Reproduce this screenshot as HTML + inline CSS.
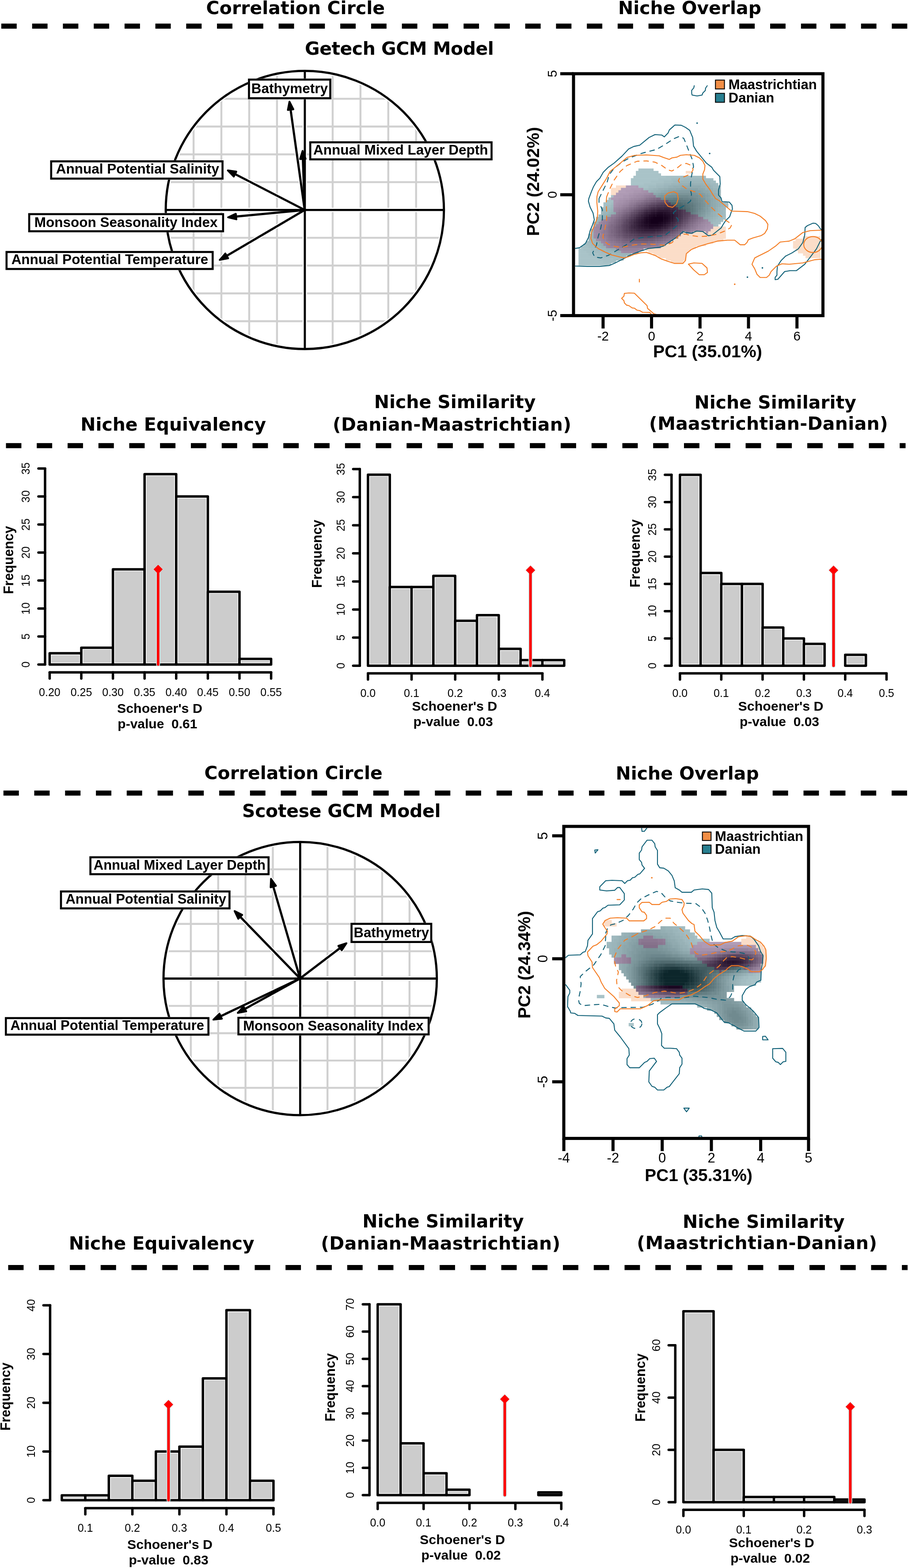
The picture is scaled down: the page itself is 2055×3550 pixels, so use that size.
<!DOCTYPE html>
<html><head><meta charset="utf-8"><title>Niche analysis figure</title>
<style>html,body{margin:0;padding:0;background:#fff;}svg{display:block;}</style></head>
<body><svg width="2055" height="3550" viewBox="0 0 2055 3550"><text x="668.9" y="31.8" font-family="DejaVu Sans, sans-serif" font-weight="bold" font-size="40.9" letter-spacing="0.09" text-anchor="middle">Correlation Circle</text>
<text x="1561.0" y="31.8" font-family="DejaVu Sans, sans-serif" font-weight="bold" font-size="40.9" letter-spacing="0.02" text-anchor="middle">Niche Overlap</text>
<text x="903.7" y="123.9" font-family="DejaVu Sans, sans-serif" font-weight="bold" font-size="40.9" letter-spacing="-0.45" text-anchor="middle">Getech GCM Model</text>
<text x="392.2" y="974.6" font-family="DejaVu Sans, sans-serif" font-weight="bold" font-size="40.9" letter-spacing="0.00" text-anchor="middle">Niche Equivalency</text>
<text x="1029.6" y="923.7" font-family="DejaVu Sans, sans-serif" font-weight="bold" font-size="40.9" letter-spacing="-0.01" text-anchor="middle">Niche Similarity</text>
<text x="1023.1" y="974.6" font-family="DejaVu Sans, sans-serif" font-weight="bold" font-size="40.9" letter-spacing="0.31" text-anchor="middle">(Danian-Maastrichtian)</text>
<text x="1754.7" y="924.8" font-family="DejaVu Sans, sans-serif" font-weight="bold" font-size="40.9" letter-spacing="0.06" text-anchor="middle">Niche Similarity</text>
<text x="1739.6" y="973.3" font-family="DejaVu Sans, sans-serif" font-weight="bold" font-size="40.9" letter-spacing="0.35" text-anchor="middle">(Maastrichtian-Danian)</text>
<text x="664.1" y="1764.1" font-family="DejaVu Sans, sans-serif" font-weight="bold" font-size="40.9" letter-spacing="0.01" text-anchor="middle">Correlation Circle</text>
<text x="1555.6" y="1764.7" font-family="DejaVu Sans, sans-serif" font-weight="bold" font-size="40.9" letter-spacing="0.05" text-anchor="middle">Niche Overlap</text>
<text x="772.6" y="1849.5" font-family="DejaVu Sans, sans-serif" font-weight="bold" font-size="40.9" letter-spacing="-0.26" text-anchor="middle">Scotese GCM Model</text>
<text x="365.8" y="2828.6" font-family="DejaVu Sans, sans-serif" font-weight="bold" font-size="40.9" letter-spacing="-0.00" text-anchor="middle">Niche Equivalency</text>
<text x="1003.0" y="2779.3" font-family="DejaVu Sans, sans-serif" font-weight="bold" font-size="40.9" letter-spacing="-0.01" text-anchor="middle">Niche Similarity</text>
<text x="997.4" y="2829.2" font-family="DejaVu Sans, sans-serif" font-weight="bold" font-size="40.9" letter-spacing="0.41" text-anchor="middle">(Danian-Maastrichtian)</text>
<text x="1728.4" y="2779.9" font-family="DejaVu Sans, sans-serif" font-weight="bold" font-size="40.9" letter-spacing="0.08" text-anchor="middle">Niche Similarity</text>
<text x="1713.4" y="2828.0" font-family="DejaVu Sans, sans-serif" font-weight="bold" font-size="40.9" letter-spacing="0.50" text-anchor="middle">(Maastrichtian-Danian)</text>
<rect x="2.9" y="53.4" width="34.9" height="11.5" fill="#000"/>
<rect x="72.7" y="53.4" width="34.9" height="11.5" fill="#000"/>
<rect x="142.4" y="53.4" width="34.9" height="11.5" fill="#000"/>
<rect x="212.2" y="53.4" width="34.9" height="11.5" fill="#000"/>
<rect x="281.9" y="53.4" width="34.9" height="11.5" fill="#000"/>
<rect x="351.6" y="53.4" width="34.9" height="11.5" fill="#000"/>
<rect x="421.4" y="53.4" width="34.9" height="11.5" fill="#000"/>
<rect x="491.1" y="53.4" width="34.9" height="11.5" fill="#000"/>
<rect x="560.9" y="53.4" width="34.9" height="11.5" fill="#000"/>
<rect x="630.6" y="53.4" width="34.9" height="11.5" fill="#000"/>
<rect x="700.4" y="53.4" width="34.9" height="11.5" fill="#000"/>
<rect x="770.1" y="53.4" width="34.9" height="11.5" fill="#000"/>
<rect x="839.9" y="53.4" width="34.9" height="11.5" fill="#000"/>
<rect x="909.6" y="53.4" width="34.9" height="11.5" fill="#000"/>
<rect x="979.4" y="53.4" width="34.9" height="11.5" fill="#000"/>
<rect x="1049.2" y="53.4" width="34.9" height="11.5" fill="#000"/>
<rect x="1118.9" y="53.4" width="34.9" height="11.5" fill="#000"/>
<rect x="1188.7" y="53.4" width="34.9" height="11.5" fill="#000"/>
<rect x="1258.4" y="53.4" width="34.9" height="11.5" fill="#000"/>
<rect x="1328.2" y="53.4" width="34.9" height="11.5" fill="#000"/>
<rect x="1397.9" y="53.4" width="34.9" height="11.5" fill="#000"/>
<rect x="1467.7" y="53.4" width="34.9" height="11.5" fill="#000"/>
<rect x="1537.4" y="53.4" width="34.9" height="11.5" fill="#000"/>
<rect x="1603.5" y="53.4" width="34.9" height="11.5" fill="#000"/>
<rect x="1673.2" y="53.4" width="34.9" height="11.5" fill="#000"/>
<rect x="1743.0" y="53.4" width="34.9" height="11.5" fill="#000"/>
<rect x="1812.8" y="53.4" width="34.9" height="11.5" fill="#000"/>
<rect x="1878.9" y="53.4" width="34.9" height="11.5" fill="#000"/>
<rect x="1948.7" y="53.4" width="34.9" height="11.5" fill="#000"/>
<rect x="2018.4" y="53.4" width="34.9" height="11.5" fill="#000"/>
<rect x="13.5" y="1003.2" width="34.9" height="11.5" fill="#000"/>
<rect x="83.2" y="1003.2" width="34.9" height="11.5" fill="#000"/>
<rect x="153.0" y="1003.2" width="34.9" height="11.5" fill="#000"/>
<rect x="222.8" y="1003.2" width="34.9" height="11.5" fill="#000"/>
<rect x="292.5" y="1003.2" width="34.9" height="11.5" fill="#000"/>
<rect x="362.2" y="1003.2" width="34.9" height="11.5" fill="#000"/>
<rect x="432.0" y="1003.2" width="34.9" height="11.5" fill="#000"/>
<rect x="501.8" y="1003.2" width="34.9" height="11.5" fill="#000"/>
<rect x="571.5" y="1003.2" width="34.9" height="11.5" fill="#000"/>
<rect x="641.2" y="1003.2" width="34.9" height="11.5" fill="#000"/>
<rect x="711.0" y="1003.2" width="34.9" height="11.5" fill="#000"/>
<rect x="780.8" y="1003.2" width="34.9" height="11.5" fill="#000"/>
<rect x="850.5" y="1003.2" width="34.9" height="11.5" fill="#000"/>
<rect x="920.2" y="1003.2" width="34.9" height="11.5" fill="#000"/>
<rect x="990.0" y="1003.2" width="34.9" height="11.5" fill="#000"/>
<rect x="1059.8" y="1003.2" width="34.9" height="11.5" fill="#000"/>
<rect x="1129.5" y="1003.2" width="34.9" height="11.5" fill="#000"/>
<rect x="1199.2" y="1003.2" width="34.9" height="11.5" fill="#000"/>
<rect x="1269.0" y="1003.2" width="34.9" height="11.5" fill="#000"/>
<rect x="1338.8" y="1003.2" width="34.9" height="11.5" fill="#000"/>
<rect x="1408.5" y="1003.2" width="34.9" height="11.5" fill="#000"/>
<rect x="1478.2" y="1003.2" width="34.9" height="11.5" fill="#000"/>
<rect x="1548.0" y="1003.2" width="34.9" height="11.5" fill="#000"/>
<rect x="1617.8" y="1003.2" width="34.9" height="11.5" fill="#000"/>
<rect x="1687.5" y="1003.2" width="34.9" height="11.5" fill="#000"/>
<rect x="1757.2" y="1003.2" width="34.9" height="11.5" fill="#000"/>
<rect x="1827.0" y="1003.2" width="34.9" height="11.5" fill="#000"/>
<rect x="1896.8" y="1003.2" width="34.9" height="11.5" fill="#000"/>
<rect x="1966.5" y="1003.2" width="34.9" height="11.5" fill="#000"/>
<rect x="2036.2" y="1003.2" width="13.3" height="11.5" fill="#000"/>
<rect x="7.8" y="1789.8" width="34.9" height="11.5" fill="#000"/>
<rect x="77.5" y="1789.8" width="34.9" height="11.5" fill="#000"/>
<rect x="147.3" y="1789.8" width="34.9" height="11.5" fill="#000"/>
<rect x="217.1" y="1789.8" width="34.9" height="11.5" fill="#000"/>
<rect x="286.8" y="1789.8" width="34.9" height="11.5" fill="#000"/>
<rect x="356.6" y="1789.8" width="34.9" height="11.5" fill="#000"/>
<rect x="426.3" y="1789.8" width="34.9" height="11.5" fill="#000"/>
<rect x="496.1" y="1789.8" width="34.9" height="11.5" fill="#000"/>
<rect x="565.8" y="1789.8" width="34.9" height="11.5" fill="#000"/>
<rect x="635.5" y="1789.8" width="34.9" height="11.5" fill="#000"/>
<rect x="705.3" y="1789.8" width="34.9" height="11.5" fill="#000"/>
<rect x="775.0" y="1789.8" width="34.9" height="11.5" fill="#000"/>
<rect x="844.8" y="1789.8" width="34.9" height="11.5" fill="#000"/>
<rect x="914.5" y="1789.8" width="34.9" height="11.5" fill="#000"/>
<rect x="984.3" y="1789.8" width="34.9" height="11.5" fill="#000"/>
<rect x="1054.0" y="1789.8" width="34.9" height="11.5" fill="#000"/>
<rect x="1123.8" y="1789.8" width="34.9" height="11.5" fill="#000"/>
<rect x="1193.5" y="1789.8" width="34.9" height="11.5" fill="#000"/>
<rect x="1263.3" y="1789.8" width="34.9" height="11.5" fill="#000"/>
<rect x="1333.0" y="1789.8" width="34.9" height="11.5" fill="#000"/>
<rect x="1402.8" y="1789.8" width="34.9" height="11.5" fill="#000"/>
<rect x="1472.5" y="1789.8" width="34.9" height="11.5" fill="#000"/>
<rect x="1542.3" y="1789.8" width="34.9" height="11.5" fill="#000"/>
<rect x="1609.2" y="1789.8" width="34.9" height="11.5" fill="#000"/>
<rect x="1679.0" y="1789.8" width="34.9" height="11.5" fill="#000"/>
<rect x="1748.7" y="1789.8" width="34.9" height="11.5" fill="#000"/>
<rect x="1818.5" y="1789.8" width="34.9" height="11.5" fill="#000"/>
<rect x="1878.5" y="1789.8" width="34.9" height="11.5" fill="#000"/>
<rect x="1948.2" y="1789.8" width="34.9" height="11.5" fill="#000"/>
<rect x="2018.0" y="1789.8" width="34.9" height="11.5" fill="#000"/>
<rect x="18.5" y="2864.0" width="34.9" height="11.5" fill="#000"/>
<rect x="88.2" y="2864.0" width="34.9" height="11.5" fill="#000"/>
<rect x="158.0" y="2864.0" width="34.9" height="11.5" fill="#000"/>
<rect x="227.8" y="2864.0" width="34.9" height="11.5" fill="#000"/>
<rect x="297.5" y="2864.0" width="34.9" height="11.5" fill="#000"/>
<rect x="367.2" y="2864.0" width="34.9" height="11.5" fill="#000"/>
<rect x="437.0" y="2864.0" width="34.9" height="11.5" fill="#000"/>
<rect x="506.8" y="2864.0" width="34.9" height="11.5" fill="#000"/>
<rect x="576.5" y="2864.0" width="34.9" height="11.5" fill="#000"/>
<rect x="646.2" y="2864.0" width="34.9" height="11.5" fill="#000"/>
<rect x="716.0" y="2864.0" width="34.9" height="11.5" fill="#000"/>
<rect x="785.8" y="2864.0" width="34.9" height="11.5" fill="#000"/>
<rect x="855.5" y="2864.0" width="34.9" height="11.5" fill="#000"/>
<rect x="925.2" y="2864.0" width="34.9" height="11.5" fill="#000"/>
<rect x="995.0" y="2864.0" width="34.9" height="11.5" fill="#000"/>
<rect x="1064.8" y="2864.0" width="34.9" height="11.5" fill="#000"/>
<rect x="1134.5" y="2864.0" width="34.9" height="11.5" fill="#000"/>
<rect x="1204.2" y="2864.0" width="34.9" height="11.5" fill="#000"/>
<rect x="1274.0" y="2864.0" width="34.9" height="11.5" fill="#000"/>
<rect x="1343.8" y="2864.0" width="34.9" height="11.5" fill="#000"/>
<rect x="1413.5" y="2864.0" width="34.9" height="11.5" fill="#000"/>
<rect x="1483.2" y="2864.0" width="34.9" height="11.5" fill="#000"/>
<rect x="1553.0" y="2864.0" width="34.9" height="11.5" fill="#000"/>
<rect x="1622.8" y="2864.0" width="34.9" height="11.5" fill="#000"/>
<rect x="1692.5" y="2864.0" width="34.9" height="11.5" fill="#000"/>
<rect x="1762.2" y="2864.0" width="34.9" height="11.5" fill="#000"/>
<rect x="1832.0" y="2864.0" width="34.9" height="11.5" fill="#000"/>
<rect x="1901.8" y="2864.0" width="34.9" height="11.5" fill="#000"/>
<rect x="1971.5" y="2864.0" width="34.9" height="11.5" fill="#000"/>
<rect x="2041.2" y="2864.0" width="12.8" height="11.5" fill="#000"/>
<clipPath id="cc1"><circle cx="689.9" cy="475.4" r="312.8"/></clipPath>
<g clip-path="url(#cc1)" stroke="#d0d0d0" stroke-width="4.4">
<line x1="438.1" y1="160.59999999999997" x2="438.1" y2="790.2"/>
<line x1="375.09999999999997" y1="223.6" x2="1004.7" y2="223.6"/>
<line x1="501.0" y1="160.59999999999997" x2="501.0" y2="790.2"/>
<line x1="375.09999999999997" y1="286.5" x2="1004.7" y2="286.5"/>
<line x1="564.0" y1="160.59999999999997" x2="564.0" y2="790.2"/>
<line x1="375.09999999999997" y1="349.5" x2="1004.7" y2="349.5"/>
<line x1="626.9" y1="160.59999999999997" x2="626.9" y2="790.2"/>
<line x1="375.09999999999997" y1="412.4" x2="1004.7" y2="412.4"/>
<line x1="752.9" y1="160.59999999999997" x2="752.9" y2="790.2"/>
<line x1="375.09999999999997" y1="538.4" x2="1004.7" y2="538.4"/>
<line x1="815.8" y1="160.59999999999997" x2="815.8" y2="790.2"/>
<line x1="375.09999999999997" y1="601.3" x2="1004.7" y2="601.3"/>
<line x1="878.8" y1="160.59999999999997" x2="878.8" y2="790.2"/>
<line x1="375.09999999999997" y1="664.3" x2="1004.7" y2="664.3"/>
<line x1="941.7" y1="160.59999999999997" x2="941.7" y2="790.2"/>
<line x1="375.09999999999997" y1="727.2" x2="1004.7" y2="727.2"/>
</g>
<g stroke="#fff" fill="none" stroke-linecap="butt">
<circle cx="689.9" cy="475.4" r="314.8" stroke-width="10.0"/>
<line x1="375.09999999999997" y1="475.4" x2="1004.7" y2="475.4" stroke-width="9.8"/>
<line x1="689.9" y1="160.59999999999997" x2="689.9" y2="790.2" stroke-width="9.8"/>
</g>
<g stroke="#fff" fill="#fff" stroke-linecap="round" stroke-linejoin="round">
<line x1="689.6" y1="475.4" x2="657.3" y2="245.4" stroke-width="9.0"/>
<polygon points="655.1,230.0 651.4,249.1 664.0,247.4" stroke-width="8.0"/>
<line x1="689.6" y1="475.4" x2="685.4" y2="357.1" stroke-width="9.0"/>
<polygon points="684.8,341.5 679.1,360.2 691.8,359.7" stroke-width="8.0"/>
<line x1="689.6" y1="475.4" x2="529.5" y2="392.9" stroke-width="9.0"/>
<polygon points="515.6,385.8 529.1,399.9 534.9,388.6" stroke-width="8.0"/>
<line x1="689.6" y1="475.4" x2="531.6" y2="490.5" stroke-width="9.0"/>
<polygon points="516.1,492.0 535.1,496.6 533.8,483.9" stroke-width="8.0"/>
<line x1="689.6" y1="475.4" x2="510.7" y2="580.7" stroke-width="9.0"/>
<polygon points="497.3,588.6 516.4,584.7 510.0,573.8" stroke-width="8.0"/>
</g>
<g stroke="#000" fill="none" stroke-linecap="butt">
<circle cx="689.9" cy="475.4" r="314.8" stroke-width="5"/>
<line x1="375.09999999999997" y1="475.4" x2="1004.7" y2="475.4" stroke-width="4.8"/>
<line x1="689.9" y1="160.59999999999997" x2="689.9" y2="790.2" stroke-width="4.8"/>
</g>
<g stroke="#000" fill="#000" stroke-linecap="round" stroke-linejoin="round">
<line x1="689.6" y1="475.4" x2="657.3" y2="245.4" stroke-width="5.0"/>
<polygon points="655.1,230.0 651.4,249.1 664.0,247.4" stroke-width="4.0"/>
<line x1="689.6" y1="475.4" x2="685.4" y2="357.1" stroke-width="5.0"/>
<polygon points="684.8,341.5 679.1,360.2 691.8,359.7" stroke-width="4.0"/>
<line x1="689.6" y1="475.4" x2="529.5" y2="392.9" stroke-width="5.0"/>
<polygon points="515.6,385.8 529.1,399.9 534.9,388.6" stroke-width="4.0"/>
<line x1="689.6" y1="475.4" x2="531.6" y2="490.5" stroke-width="5.0"/>
<polygon points="516.1,492.0 535.1,496.6 533.8,483.9" stroke-width="4.0"/>
<line x1="689.6" y1="475.4" x2="510.7" y2="580.7" stroke-width="5.0"/>
<polygon points="497.3,588.6 516.4,584.7 510.0,573.8" stroke-width="4.0"/>
</g>
<rect x="561.0" y="177.7" width="189.0" height="47.2" fill="#fff"/>
<rect x="563.5" y="180.2" width="184.0" height="42.2" fill="#fff" stroke="#000" stroke-width="4.6"/>
<text x="655.4" y="210.7" font-family="Liberation Sans, Arial, sans-serif" font-weight="bold" font-size="31.5" text-anchor="middle">Bathymetry</text>
<rect x="699.7" y="319.7" width="415.3" height="43.6" fill="#fff"/>
<rect x="702.2" y="322.2" width="410.3" height="38.6" fill="#fff" stroke="#000" stroke-width="4.6"/>
<text x="906.8" y="349.5" font-family="Liberation Sans, Arial, sans-serif" font-weight="bold" font-size="31.5" text-anchor="middle">Annual Mixed Layer Depth</text>
<rect x="113.3" y="362.8" width="392.8" height="44.1" fill="#fff"/>
<rect x="115.8" y="365.3" width="387.8" height="39.1" fill="#fff" stroke="#000" stroke-width="4.6"/>
<text x="311.4" y="393.2" font-family="Liberation Sans, Arial, sans-serif" font-weight="bold" font-size="31.5" text-anchor="middle">Annual Potential Salinity</text>
<rect x="63.6" y="482.3" width="443.8" height="43.8" fill="#fff"/>
<rect x="66.1" y="484.8" width="438.8" height="38.8" fill="#fff" stroke="#000" stroke-width="4.6"/>
<text x="285.1" y="514.4" font-family="Liberation Sans, Arial, sans-serif" font-weight="bold" font-size="31.5" text-anchor="middle">Monsoon Seasonality Index</text>
<rect x="12.3" y="568.0" width="471.5" height="43.5" fill="#fff"/>
<rect x="14.8" y="570.5" width="466.5" height="38.5" fill="#fff" stroke="#000" stroke-width="4.6"/>
<text x="248.5" y="597.8" font-family="Liberation Sans, Arial, sans-serif" font-weight="bold" font-size="31.5" text-anchor="middle">Annual Potential Temperature</text>
<clipPath id="cc2"><circle cx="679.35" cy="2215.5" r="307.3"/></clipPath>
<g clip-path="url(#cc2)" stroke="#d0d0d0" stroke-width="4.4">
<line x1="431.9" y1="1906.2" x2="431.9" y2="2524.8"/>
<line x1="370.05" y1="1968.1" x2="988.6500000000001" y2="1968.1"/>
<line x1="493.8" y1="1906.2" x2="493.8" y2="2524.8"/>
<line x1="370.05" y1="2029.9" x2="988.6500000000001" y2="2029.9"/>
<line x1="555.6" y1="1906.2" x2="555.6" y2="2524.8"/>
<line x1="370.05" y1="2091.8" x2="988.6500000000001" y2="2091.8"/>
<line x1="617.5" y1="1906.2" x2="617.5" y2="2524.8"/>
<line x1="370.05" y1="2153.6" x2="988.6500000000001" y2="2153.6"/>
<line x1="741.2" y1="1906.2" x2="741.2" y2="2524.8"/>
<line x1="370.05" y1="2277.4" x2="988.6500000000001" y2="2277.4"/>
<line x1="803.1" y1="1906.2" x2="803.1" y2="2524.8"/>
<line x1="370.05" y1="2339.2" x2="988.6500000000001" y2="2339.2"/>
<line x1="864.9" y1="1906.2" x2="864.9" y2="2524.8"/>
<line x1="370.05" y1="2401.1" x2="988.6500000000001" y2="2401.1"/>
<line x1="926.8" y1="1906.2" x2="926.8" y2="2524.8"/>
<line x1="370.05" y1="2462.9" x2="988.6500000000001" y2="2462.9"/>
</g>
<g stroke="#fff" fill="none" stroke-linecap="butt">
<circle cx="679.35" cy="2215.5" r="309.3" stroke-width="10.0"/>
<line x1="370.05" y1="2215.5" x2="988.6500000000001" y2="2215.5" stroke-width="9.8"/>
<line x1="679.35" y1="1906.2" x2="679.35" y2="2524.8" stroke-width="9.8"/>
</g>
<g stroke="#fff" fill="#fff" stroke-linecap="round" stroke-linejoin="round">
<line x1="679.1" y1="2215.2" x2="617.7" y2="2004.6" stroke-width="9.0"/>
<polygon points="613.3,1989.6 612.4,2009.1 624.6,2005.5" stroke-width="8.0"/>
<line x1="679.1" y1="2215.2" x2="541.8" y2="2073.8" stroke-width="9.0"/>
<polygon points="530.9,2062.6 539.2,2080.2 548.3,2071.4" stroke-width="8.0"/>
<line x1="679.1" y1="2215.2" x2="771.8" y2="2144.8" stroke-width="9.0"/>
<polygon points="784.2,2135.4 765.7,2141.5 773.4,2151.6" stroke-width="8.0"/>
<line x1="679.1" y1="2215.2" x2="551.8" y2="2285.6" stroke-width="9.0"/>
<polygon points="538.1,2293.2 557.3,2289.8 551.2,2278.7" stroke-width="8.0"/>
<line x1="679.1" y1="2215.2" x2="496.9" y2="2301.9" stroke-width="9.0"/>
<polygon points="482.8,2308.6 502.2,2306.4 496.7,2294.9" stroke-width="8.0"/>
</g>
<g stroke="#000" fill="none" stroke-linecap="butt">
<circle cx="679.35" cy="2215.5" r="309.3" stroke-width="5"/>
<line x1="370.05" y1="2215.5" x2="988.6500000000001" y2="2215.5" stroke-width="4.8"/>
<line x1="679.35" y1="1906.2" x2="679.35" y2="2524.8" stroke-width="4.8"/>
</g>
<g stroke="#000" fill="#000" stroke-linecap="round" stroke-linejoin="round">
<line x1="679.1" y1="2215.2" x2="617.7" y2="2004.6" stroke-width="5.0"/>
<polygon points="613.3,1989.6 612.4,2009.1 624.6,2005.5" stroke-width="4.0"/>
<line x1="679.1" y1="2215.2" x2="541.8" y2="2073.8" stroke-width="5.0"/>
<polygon points="530.9,2062.6 539.2,2080.2 548.3,2071.4" stroke-width="4.0"/>
<line x1="679.1" y1="2215.2" x2="771.8" y2="2144.8" stroke-width="5.0"/>
<polygon points="784.2,2135.4 765.7,2141.5 773.4,2151.6" stroke-width="4.0"/>
<line x1="679.1" y1="2215.2" x2="551.8" y2="2285.6" stroke-width="5.0"/>
<polygon points="538.1,2293.2 557.3,2289.8 551.2,2278.7" stroke-width="4.0"/>
<line x1="679.1" y1="2215.2" x2="496.9" y2="2301.9" stroke-width="5.0"/>
<polygon points="482.8,2308.6 502.2,2306.4 496.7,2294.9" stroke-width="4.0"/>
</g>
<rect x="202.1" y="1938.4" width="408.2" height="43.3" fill="#fff"/>
<rect x="204.6" y="1940.9" width="403.2" height="38.3" fill="#fff" stroke="#000" stroke-width="4.6"/>
<text x="406.4" y="1968.6" font-family="Liberation Sans, Arial, sans-serif" font-weight="bold" font-size="31.0" text-anchor="middle">Annual Mixed Layer Depth</text>
<rect x="135.5" y="2015.8" width="386.4" height="43.3" fill="#fff"/>
<rect x="138.0" y="2018.3" width="381.4" height="38.3" fill="#fff" stroke="#000" stroke-width="4.6"/>
<text x="330.2" y="2045.6" font-family="Liberation Sans, Arial, sans-serif" font-weight="bold" font-size="31.0" text-anchor="middle">Annual Potential Salinity</text>
<rect x="793.1" y="2089.1" width="185.4" height="46.1" fill="#fff"/>
<rect x="795.6" y="2091.6" width="180.4" height="41.1" fill="#fff" stroke="#000" stroke-width="4.6"/>
<text x="885.8" y="2121.5" font-family="Liberation Sans, Arial, sans-serif" font-weight="bold" font-size="31.0" text-anchor="middle">Bathymetry</text>
<rect x="10.8" y="2302.5" width="463.4" height="42.5" fill="#fff"/>
<rect x="13.3" y="2305.0" width="458.4" height="37.5" fill="#fff" stroke="#000" stroke-width="4.6"/>
<text x="242.8" y="2331.8" font-family="Liberation Sans, Arial, sans-serif" font-weight="bold" font-size="31.0" text-anchor="middle">Annual Potential Temperature</text>
<rect x="537.1" y="2301.8" width="435.5" height="42.6" fill="#fff"/>
<rect x="539.6" y="2304.3" width="430.5" height="37.6" fill="#fff" stroke="#000" stroke-width="4.6"/>
<text x="754.4" y="2332.6" font-family="Liberation Sans, Arial, sans-serif" font-weight="bold" font-size="31.0" text-anchor="middle">Monsoon Seasonality Index</text>
<rect x="112.4" y="1479.1" width="71.6" height="25.4" fill="#fff"/>
<rect x="116.7" y="1483.4" width="63.0" height="16.8" fill="#cccccc"/>
<rect x="112.4" y="1479.1" width="71.6" height="25.4" fill="none" stroke="#000" stroke-width="5.5" stroke-linejoin="round"/>
<rect x="184.0" y="1466.5" width="71.6" height="38.0" fill="#fff"/>
<rect x="188.3" y="1470.8" width="63.0" height="29.4" fill="#cccccc"/>
<rect x="184.0" y="1466.5" width="71.6" height="38.0" fill="none" stroke="#000" stroke-width="5.5" stroke-linejoin="round"/>
<rect x="255.6" y="1288.9" width="71.6" height="215.6" fill="#fff"/>
<rect x="259.9" y="1293.2" width="63.0" height="207.0" fill="#cccccc"/>
<rect x="255.6" y="1288.9" width="71.6" height="215.6" fill="none" stroke="#000" stroke-width="5.5" stroke-linejoin="round"/>
<rect x="327.2" y="1073.4" width="71.6" height="431.1" fill="#fff"/>
<rect x="331.5" y="1077.7" width="63.0" height="422.5" fill="#cccccc"/>
<rect x="327.2" y="1073.4" width="71.6" height="431.1" fill="none" stroke="#000" stroke-width="5.5" stroke-linejoin="round"/>
<rect x="398.8" y="1124.1" width="71.6" height="380.4" fill="#fff"/>
<rect x="403.1" y="1128.4" width="63.0" height="371.8" fill="#cccccc"/>
<rect x="398.8" y="1124.1" width="71.6" height="380.4" fill="none" stroke="#000" stroke-width="5.5" stroke-linejoin="round"/>
<rect x="470.4" y="1339.7" width="71.6" height="164.8" fill="#fff"/>
<rect x="474.7" y="1344.0" width="63.0" height="156.2" fill="#cccccc"/>
<rect x="470.4" y="1339.7" width="71.6" height="164.8" fill="none" stroke="#000" stroke-width="5.5" stroke-linejoin="round"/>
<rect x="542.0" y="1491.8" width="71.6" height="12.7" fill="#fff"/>
<rect x="546.3" y="1496.1" width="63.0" height="4.1" fill="#cccccc"/>
<rect x="542.0" y="1491.8" width="71.6" height="12.7" fill="none" stroke="#000" stroke-width="5.5" stroke-linejoin="round"/>
<line x1="357.9" y1="1288.9" x2="357.9" y2="1504.5" stroke="#c8f4f4" stroke-width="9" stroke-linecap="round"/>
<polygon points="357.9,1277.4 369.4,1288.9 357.9,1300.4 346.4,1288.9" fill="#c8f4f4"/>
<line x1="357.9" y1="1288.9" x2="357.9" y2="1504.5" stroke="#ff0000" stroke-width="6" stroke-linecap="round"/>
<polygon points="357.9,1278.4 368.4,1288.9 357.9,1299.4 347.4,1288.9" fill="#ff0000"/>
<g stroke="#000" stroke-width="5.5" stroke-linecap="round" fill="none">
<line x1="102" y1="1504.5" x2="102" y2="1060.7"/>
<line x1="102" y1="1504.5" x2="87" y2="1504.5"/>
<line x1="102" y1="1441.1" x2="87" y2="1441.1"/>
<line x1="102" y1="1377.7" x2="87" y2="1377.7"/>
<line x1="102" y1="1314.3" x2="87" y2="1314.3"/>
<line x1="102" y1="1250.9" x2="87" y2="1250.9"/>
<line x1="102" y1="1187.5" x2="87" y2="1187.5"/>
<line x1="102" y1="1124.1" x2="87" y2="1124.1"/>
<line x1="102" y1="1060.7" x2="87" y2="1060.7"/>
<line x1="112.4" y1="1522.3" x2="613.6" y2="1522.3"/>
<line x1="112.4" y1="1522.3" x2="112.4" y2="1536.3"/>
<line x1="184.0" y1="1522.3" x2="184.0" y2="1536.3"/>
<line x1="255.6" y1="1522.3" x2="255.6" y2="1536.3"/>
<line x1="327.2" y1="1522.3" x2="327.2" y2="1536.3"/>
<line x1="398.8" y1="1522.3" x2="398.8" y2="1536.3"/>
<line x1="470.4" y1="1522.3" x2="470.4" y2="1536.3"/>
<line x1="542.0" y1="1522.3" x2="542.0" y2="1536.3"/>
<line x1="613.6" y1="1522.3" x2="613.6" y2="1536.3"/>
</g>
<text transform="translate(67.2,1504.5) rotate(-90)" x="0" y="0" font-family="Liberation Sans, Arial, sans-serif" font-size="25" text-anchor="middle">0</text>
<text transform="translate(67.2,1441.1) rotate(-90)" x="0" y="0" font-family="Liberation Sans, Arial, sans-serif" font-size="25" text-anchor="middle">5</text>
<text transform="translate(67.2,1377.7) rotate(-90)" x="0" y="0" font-family="Liberation Sans, Arial, sans-serif" font-size="25" text-anchor="middle">10</text>
<text transform="translate(67.2,1314.3) rotate(-90)" x="0" y="0" font-family="Liberation Sans, Arial, sans-serif" font-size="25" text-anchor="middle">15</text>
<text transform="translate(67.2,1250.9) rotate(-90)" x="0" y="0" font-family="Liberation Sans, Arial, sans-serif" font-size="25" text-anchor="middle">20</text>
<text transform="translate(67.2,1187.5) rotate(-90)" x="0" y="0" font-family="Liberation Sans, Arial, sans-serif" font-size="25" text-anchor="middle">25</text>
<text transform="translate(67.2,1124.1) rotate(-90)" x="0" y="0" font-family="Liberation Sans, Arial, sans-serif" font-size="25" text-anchor="middle">30</text>
<text transform="translate(67.2,1060.7) rotate(-90)" x="0" y="0" font-family="Liberation Sans, Arial, sans-serif" font-size="25" text-anchor="middle">35</text>
<text x="112.4" y="1575.8" font-family="Liberation Sans, Arial, sans-serif" font-size="25" text-anchor="middle">0.20</text>
<text x="184.0" y="1575.8" font-family="Liberation Sans, Arial, sans-serif" font-size="25" text-anchor="middle">0.25</text>
<text x="255.6" y="1575.8" font-family="Liberation Sans, Arial, sans-serif" font-size="25" text-anchor="middle">0.30</text>
<text x="327.2" y="1575.8" font-family="Liberation Sans, Arial, sans-serif" font-size="25" text-anchor="middle">0.35</text>
<text x="398.8" y="1575.8" font-family="Liberation Sans, Arial, sans-serif" font-size="25" text-anchor="middle">0.40</text>
<text x="470.4" y="1575.8" font-family="Liberation Sans, Arial, sans-serif" font-size="25" text-anchor="middle">0.45</text>
<text x="542.0" y="1575.8" font-family="Liberation Sans, Arial, sans-serif" font-size="25" text-anchor="middle">0.50</text>
<text x="613.6" y="1575.8" font-family="Liberation Sans, Arial, sans-serif" font-size="25" text-anchor="middle">0.55</text>
<text transform="translate(30.3,1267.9) rotate(-90)" x="0" y="0" font-family="Liberation Sans, Arial, sans-serif" font-weight="bold" font-size="30.5" text-anchor="middle">Frequency</text>
<text x="361.4" y="1613.7" font-family="Liberation Sans, Arial, sans-serif" font-weight="bold" font-size="30.4" text-anchor="middle">Schoener's D</text>
<text x="356.4" y="1649.1" font-family="Liberation Sans, Arial, sans-serif" font-weight="bold" font-size="30" text-anchor="middle" xml:space="preserve">p-value  0.61</text>
<rect x="832.8" y="1074.7" width="49.4" height="432.5" fill="#fff"/>
<rect x="837.1" y="1079.0" width="40.8" height="423.9" fill="#cccccc"/>
<rect x="832.8" y="1074.7" width="49.4" height="432.5" fill="none" stroke="#000" stroke-width="5.5" stroke-linejoin="round"/>
<rect x="882.1" y="1329.1" width="49.4" height="178.1" fill="#fff"/>
<rect x="886.4" y="1333.4" width="40.8" height="169.5" fill="#cccccc"/>
<rect x="882.1" y="1329.1" width="49.4" height="178.1" fill="none" stroke="#000" stroke-width="5.5" stroke-linejoin="round"/>
<rect x="931.5" y="1329.1" width="49.4" height="178.1" fill="#fff"/>
<rect x="935.8" y="1333.4" width="40.8" height="169.5" fill="#cccccc"/>
<rect x="931.5" y="1329.1" width="49.4" height="178.1" fill="none" stroke="#000" stroke-width="5.5" stroke-linejoin="round"/>
<rect x="980.8" y="1303.7" width="49.3" height="203.5" fill="#fff"/>
<rect x="985.1" y="1308.0" width="40.7" height="194.9" fill="#cccccc"/>
<rect x="980.8" y="1303.7" width="49.3" height="203.5" fill="none" stroke="#000" stroke-width="5.5" stroke-linejoin="round"/>
<rect x="1030.2" y="1405.4" width="49.3" height="101.8" fill="#fff"/>
<rect x="1034.5" y="1409.7" width="40.7" height="93.2" fill="#cccccc"/>
<rect x="1030.2" y="1405.4" width="49.3" height="101.8" fill="none" stroke="#000" stroke-width="5.5" stroke-linejoin="round"/>
<rect x="1079.5" y="1392.7" width="49.3" height="114.5" fill="#fff"/>
<rect x="1083.8" y="1397.0" width="40.7" height="105.9" fill="#cccccc"/>
<rect x="1079.5" y="1392.7" width="49.3" height="114.5" fill="none" stroke="#000" stroke-width="5.5" stroke-linejoin="round"/>
<rect x="1128.9" y="1469.0" width="49.3" height="38.2" fill="#fff"/>
<rect x="1133.2" y="1473.3" width="40.7" height="29.6" fill="#cccccc"/>
<rect x="1128.9" y="1469.0" width="49.3" height="38.2" fill="none" stroke="#000" stroke-width="5.5" stroke-linejoin="round"/>
<rect x="1178.2" y="1494.5" width="49.3" height="12.7" fill="#fff"/>
<rect x="1182.5" y="1498.8" width="40.7" height="4.1" fill="#cccccc"/>
<rect x="1178.2" y="1494.5" width="49.3" height="12.7" fill="none" stroke="#000" stroke-width="5.5" stroke-linejoin="round"/>
<rect x="1227.6" y="1494.5" width="49.3" height="12.7" fill="#fff"/>
<rect x="1231.9" y="1498.8" width="40.7" height="4.1" fill="#cccccc"/>
<rect x="1227.6" y="1494.5" width="49.3" height="12.7" fill="none" stroke="#000" stroke-width="5.5" stroke-linejoin="round"/>
<line x1="1200.6" y1="1291.0" x2="1200.6" y2="1507.2" stroke="#c8f4f4" stroke-width="9" stroke-linecap="round"/>
<polygon points="1200.6,1279.5 1212.1,1291.0 1200.6,1302.5 1189.1,1291.0" fill="#c8f4f4"/>
<line x1="1200.6" y1="1291.0" x2="1200.6" y2="1507.2" stroke="#ff0000" stroke-width="6" stroke-linecap="round"/>
<polygon points="1200.6,1280.5 1211.1,1291.0 1200.6,1301.5 1190.1,1291.0" fill="#ff0000"/>
<g stroke="#000" stroke-width="5.5" stroke-linecap="round" fill="none">
<line x1="814.3" y1="1507.2" x2="814.3" y2="1062.0"/>
<line x1="814.3" y1="1507.2" x2="799.3" y2="1507.2"/>
<line x1="814.3" y1="1443.6" x2="799.3" y2="1443.6"/>
<line x1="814.3" y1="1380.0" x2="799.3" y2="1380.0"/>
<line x1="814.3" y1="1316.4" x2="799.3" y2="1316.4"/>
<line x1="814.3" y1="1252.8" x2="799.3" y2="1252.8"/>
<line x1="814.3" y1="1189.2" x2="799.3" y2="1189.2"/>
<line x1="814.3" y1="1125.6" x2="799.3" y2="1125.6"/>
<line x1="814.3" y1="1062.0" x2="799.3" y2="1062.0"/>
<line x1="832.8" y1="1524.5" x2="1227.6" y2="1524.5"/>
<line x1="832.8" y1="1524.5" x2="832.8" y2="1538.5"/>
<line x1="931.5" y1="1524.5" x2="931.5" y2="1538.5"/>
<line x1="1030.2" y1="1524.5" x2="1030.2" y2="1538.5"/>
<line x1="1128.9" y1="1524.5" x2="1128.9" y2="1538.5"/>
<line x1="1227.6" y1="1524.5" x2="1227.6" y2="1538.5"/>
</g>
<text transform="translate(779.5,1507.2) rotate(-90)" x="0" y="0" font-family="Liberation Sans, Arial, sans-serif" font-size="25" text-anchor="middle">0</text>
<text transform="translate(779.5,1443.6) rotate(-90)" x="0" y="0" font-family="Liberation Sans, Arial, sans-serif" font-size="25" text-anchor="middle">5</text>
<text transform="translate(779.5,1380.0) rotate(-90)" x="0" y="0" font-family="Liberation Sans, Arial, sans-serif" font-size="25" text-anchor="middle">10</text>
<text transform="translate(779.5,1316.4) rotate(-90)" x="0" y="0" font-family="Liberation Sans, Arial, sans-serif" font-size="25" text-anchor="middle">15</text>
<text transform="translate(779.5,1252.8) rotate(-90)" x="0" y="0" font-family="Liberation Sans, Arial, sans-serif" font-size="25" text-anchor="middle">20</text>
<text transform="translate(779.5,1189.2) rotate(-90)" x="0" y="0" font-family="Liberation Sans, Arial, sans-serif" font-size="25" text-anchor="middle">25</text>
<text transform="translate(779.5,1125.6) rotate(-90)" x="0" y="0" font-family="Liberation Sans, Arial, sans-serif" font-size="25" text-anchor="middle">30</text>
<text transform="translate(779.5,1062.0) rotate(-90)" x="0" y="0" font-family="Liberation Sans, Arial, sans-serif" font-size="25" text-anchor="middle">35</text>
<text x="832.8" y="1578.0" font-family="Liberation Sans, Arial, sans-serif" font-size="25" text-anchor="middle">0.0</text>
<text x="931.5" y="1578.0" font-family="Liberation Sans, Arial, sans-serif" font-size="25" text-anchor="middle">0.1</text>
<text x="1030.2" y="1578.0" font-family="Liberation Sans, Arial, sans-serif" font-size="25" text-anchor="middle">0.2</text>
<text x="1128.9" y="1578.0" font-family="Liberation Sans, Arial, sans-serif" font-size="25" text-anchor="middle">0.3</text>
<text x="1227.6" y="1578.0" font-family="Liberation Sans, Arial, sans-serif" font-size="25" text-anchor="middle">0.4</text>
<text transform="translate(727.9,1253.8) rotate(-90)" x="0" y="0" font-family="Liberation Sans, Arial, sans-serif" font-weight="bold" font-size="30.5" text-anchor="middle">Frequency</text>
<text x="1028.8" y="1608.9" font-family="Liberation Sans, Arial, sans-serif" font-weight="bold" font-size="30.4" text-anchor="middle">Schoener's D</text>
<text x="1025.6" y="1643.8" font-family="Liberation Sans, Arial, sans-serif" font-weight="bold" font-size="30" text-anchor="middle" xml:space="preserve">p-value  0.03</text>
<rect x="1538.9" y="1075.0" width="46.8" height="432.2" fill="#fff"/>
<rect x="1543.2" y="1079.2" width="38.1" height="423.6" fill="#cccccc"/>
<rect x="1538.9" y="1075.0" width="46.8" height="432.2" fill="none" stroke="#000" stroke-width="5.5" stroke-linejoin="round"/>
<rect x="1585.7" y="1297.2" width="46.8" height="210.0" fill="#fff"/>
<rect x="1590.0" y="1301.5" width="38.1" height="201.4" fill="#cccccc"/>
<rect x="1585.7" y="1297.2" width="46.8" height="210.0" fill="none" stroke="#000" stroke-width="5.5" stroke-linejoin="round"/>
<rect x="1632.4" y="1322.0" width="46.8" height="185.2" fill="#fff"/>
<rect x="1636.7" y="1326.2" width="38.1" height="176.7" fill="#cccccc"/>
<rect x="1632.4" y="1322.0" width="46.8" height="185.2" fill="none" stroke="#000" stroke-width="5.5" stroke-linejoin="round"/>
<rect x="1679.2" y="1322.0" width="46.8" height="185.2" fill="#fff"/>
<rect x="1683.5" y="1326.2" width="38.1" height="176.7" fill="#cccccc"/>
<rect x="1679.2" y="1322.0" width="46.8" height="185.2" fill="none" stroke="#000" stroke-width="5.5" stroke-linejoin="round"/>
<rect x="1725.9" y="1420.8" width="46.8" height="86.5" fill="#fff"/>
<rect x="1730.2" y="1425.0" width="38.1" height="77.9" fill="#cccccc"/>
<rect x="1725.9" y="1420.8" width="46.8" height="86.5" fill="none" stroke="#000" stroke-width="5.5" stroke-linejoin="round"/>
<rect x="1772.7" y="1445.5" width="46.8" height="61.8" fill="#fff"/>
<rect x="1777.0" y="1449.8" width="38.1" height="53.1" fill="#cccccc"/>
<rect x="1772.7" y="1445.5" width="46.8" height="61.8" fill="none" stroke="#000" stroke-width="5.5" stroke-linejoin="round"/>
<rect x="1819.4" y="1457.8" width="46.8" height="49.4" fill="#fff"/>
<rect x="1823.7" y="1462.1" width="38.1" height="40.8" fill="#cccccc"/>
<rect x="1819.4" y="1457.8" width="46.8" height="49.4" fill="none" stroke="#000" stroke-width="5.5" stroke-linejoin="round"/>
<rect x="1912.9" y="1482.5" width="46.8" height="24.7" fill="#fff"/>
<rect x="1917.2" y="1486.8" width="38.1" height="16.1" fill="#cccccc"/>
<rect x="1912.9" y="1482.5" width="46.8" height="24.7" fill="none" stroke="#000" stroke-width="5.5" stroke-linejoin="round"/>
<line x1="1886.5" y1="1291.1" x2="1886.5" y2="1507.2" stroke="#c8f4f4" stroke-width="9" stroke-linecap="round"/>
<polygon points="1886.5,1279.6 1898.0,1291.1 1886.5,1302.6 1875.0,1291.1" fill="#c8f4f4"/>
<line x1="1886.5" y1="1291.1" x2="1886.5" y2="1507.2" stroke="#ff0000" stroke-width="6" stroke-linecap="round"/>
<polygon points="1886.5,1280.6 1897.0,1291.1 1886.5,1301.6 1876.0,1291.1" fill="#ff0000"/>
<g stroke="#000" stroke-width="5.5" stroke-linecap="round" fill="none">
<line x1="1519.8" y1="1507.2" x2="1519.8" y2="1074.95"/>
<line x1="1519.8" y1="1507.2" x2="1504.8" y2="1507.2"/>
<line x1="1519.8" y1="1445.5" x2="1504.8" y2="1445.5"/>
<line x1="1519.8" y1="1383.7" x2="1504.8" y2="1383.7"/>
<line x1="1519.8" y1="1322.0" x2="1504.8" y2="1322.0"/>
<line x1="1519.8" y1="1260.2" x2="1504.8" y2="1260.2"/>
<line x1="1519.8" y1="1198.5" x2="1504.8" y2="1198.5"/>
<line x1="1519.8" y1="1136.7" x2="1504.8" y2="1136.7"/>
<line x1="1519.8" y1="1075.0" x2="1504.8" y2="1075.0"/>
<line x1="1538.9" y1="1524.4" x2="2006.4" y2="1524.4"/>
<line x1="1538.9" y1="1524.4" x2="1538.9" y2="1538.4"/>
<line x1="1632.4" y1="1524.4" x2="1632.4" y2="1538.4"/>
<line x1="1725.9" y1="1524.4" x2="1725.9" y2="1538.4"/>
<line x1="1819.4" y1="1524.4" x2="1819.4" y2="1538.4"/>
<line x1="1912.9" y1="1524.4" x2="1912.9" y2="1538.4"/>
<line x1="2006.4" y1="1524.4" x2="2006.4" y2="1538.4"/>
</g>
<text transform="translate(1485.0,1507.2) rotate(-90)" x="0" y="0" font-family="Liberation Sans, Arial, sans-serif" font-size="25" text-anchor="middle">0</text>
<text transform="translate(1485.0,1445.5) rotate(-90)" x="0" y="0" font-family="Liberation Sans, Arial, sans-serif" font-size="25" text-anchor="middle">5</text>
<text transform="translate(1485.0,1383.7) rotate(-90)" x="0" y="0" font-family="Liberation Sans, Arial, sans-serif" font-size="25" text-anchor="middle">10</text>
<text transform="translate(1485.0,1322.0) rotate(-90)" x="0" y="0" font-family="Liberation Sans, Arial, sans-serif" font-size="25" text-anchor="middle">15</text>
<text transform="translate(1485.0,1260.2) rotate(-90)" x="0" y="0" font-family="Liberation Sans, Arial, sans-serif" font-size="25" text-anchor="middle">20</text>
<text transform="translate(1485.0,1198.5) rotate(-90)" x="0" y="0" font-family="Liberation Sans, Arial, sans-serif" font-size="25" text-anchor="middle">25</text>
<text transform="translate(1485.0,1136.7) rotate(-90)" x="0" y="0" font-family="Liberation Sans, Arial, sans-serif" font-size="25" text-anchor="middle">30</text>
<text transform="translate(1485.0,1075.0) rotate(-90)" x="0" y="0" font-family="Liberation Sans, Arial, sans-serif" font-size="25" text-anchor="middle">35</text>
<text x="1538.9" y="1577.9" font-family="Liberation Sans, Arial, sans-serif" font-size="25" text-anchor="middle">0.0</text>
<text x="1632.4" y="1577.9" font-family="Liberation Sans, Arial, sans-serif" font-size="25" text-anchor="middle">0.1</text>
<text x="1725.9" y="1577.9" font-family="Liberation Sans, Arial, sans-serif" font-size="25" text-anchor="middle">0.2</text>
<text x="1819.4" y="1577.9" font-family="Liberation Sans, Arial, sans-serif" font-size="25" text-anchor="middle">0.3</text>
<text x="1912.9" y="1577.9" font-family="Liberation Sans, Arial, sans-serif" font-size="25" text-anchor="middle">0.4</text>
<text x="2006.4" y="1577.9" font-family="Liberation Sans, Arial, sans-serif" font-size="25" text-anchor="middle">0.5</text>
<text transform="translate(1448.1,1252.9) rotate(-90)" x="0" y="0" font-family="Liberation Sans, Arial, sans-serif" font-weight="bold" font-size="30.5" text-anchor="middle">Frequency</text>
<text x="1767.0" y="1608.5" font-family="Liberation Sans, Arial, sans-serif" font-weight="bold" font-size="30.4" text-anchor="middle">Schoener's D</text>
<text x="1764.0" y="1643.8" font-family="Liberation Sans, Arial, sans-serif" font-weight="bold" font-size="30" text-anchor="middle" xml:space="preserve">p-value  0.03</text>
<rect x="139.9" y="3385.5" width="53.2" height="11.0" fill="#fff"/>
<rect x="144.2" y="3389.8" width="44.6" height="2.4" fill="#cccccc"/>
<rect x="139.9" y="3385.5" width="53.2" height="11.0" fill="none" stroke="#000" stroke-width="5.5" stroke-linejoin="round"/>
<rect x="193.1" y="3385.5" width="53.2" height="11.0" fill="#fff"/>
<rect x="197.4" y="3389.8" width="44.6" height="2.4" fill="#cccccc"/>
<rect x="193.1" y="3385.5" width="53.2" height="11.0" fill="none" stroke="#000" stroke-width="5.5" stroke-linejoin="round"/>
<rect x="246.3" y="3341.3" width="53.2" height="55.2" fill="#fff"/>
<rect x="250.6" y="3345.7" width="44.6" height="46.6" fill="#cccccc"/>
<rect x="246.3" y="3341.3" width="53.2" height="55.2" fill="none" stroke="#000" stroke-width="5.5" stroke-linejoin="round"/>
<rect x="299.6" y="3352.4" width="53.2" height="44.1" fill="#fff"/>
<rect x="303.9" y="3356.7" width="44.6" height="35.5" fill="#cccccc"/>
<rect x="299.6" y="3352.4" width="53.2" height="44.1" fill="none" stroke="#000" stroke-width="5.5" stroke-linejoin="round"/>
<rect x="352.8" y="3286.2" width="53.2" height="110.3" fill="#fff"/>
<rect x="357.1" y="3290.5" width="44.6" height="101.7" fill="#cccccc"/>
<rect x="352.8" y="3286.2" width="53.2" height="110.3" fill="none" stroke="#000" stroke-width="5.5" stroke-linejoin="round"/>
<rect x="406.0" y="3275.2" width="53.2" height="121.3" fill="#fff"/>
<rect x="410.3" y="3279.5" width="44.6" height="112.7" fill="#cccccc"/>
<rect x="406.0" y="3275.2" width="53.2" height="121.3" fill="none" stroke="#000" stroke-width="5.5" stroke-linejoin="round"/>
<rect x="459.2" y="3120.8" width="53.2" height="275.8" fill="#fff"/>
<rect x="463.5" y="3125.1" width="44.6" height="267.1" fill="#cccccc"/>
<rect x="459.2" y="3120.8" width="53.2" height="275.8" fill="none" stroke="#000" stroke-width="5.5" stroke-linejoin="round"/>
<rect x="512.5" y="2966.3" width="53.2" height="430.2" fill="#fff"/>
<rect x="516.8" y="2970.6" width="44.6" height="421.6" fill="#cccccc"/>
<rect x="512.5" y="2966.3" width="53.2" height="430.2" fill="none" stroke="#000" stroke-width="5.5" stroke-linejoin="round"/>
<rect x="565.7" y="3352.4" width="53.2" height="44.1" fill="#fff"/>
<rect x="570.0" y="3356.7" width="44.6" height="35.5" fill="#cccccc"/>
<rect x="565.7" y="3352.4" width="53.2" height="44.1" fill="none" stroke="#000" stroke-width="5.5" stroke-linejoin="round"/>
<line x1="381.4" y1="3180.0" x2="381.4" y2="3396.5" stroke="#c8f4f4" stroke-width="9" stroke-linecap="round"/>
<polygon points="381.4,3168.5 392.9,3180.0 381.4,3191.5 369.9,3180.0" fill="#c8f4f4"/>
<line x1="381.4" y1="3180.0" x2="381.4" y2="3396.5" stroke="#ff0000" stroke-width="6" stroke-linecap="round"/>
<polygon points="381.4,3169.5 391.9,3180.0 381.4,3190.5 370.9,3180.0" fill="#ff0000"/>
<g stroke="#000" stroke-width="5.5" stroke-linecap="round" fill="none">
<line x1="113.4" y1="3396.5" x2="113.4" y2="2955.3"/>
<line x1="113.4" y1="3396.5" x2="98.4" y2="3396.5"/>
<line x1="113.4" y1="3286.2" x2="98.4" y2="3286.2"/>
<line x1="113.4" y1="3175.9" x2="98.4" y2="3175.9"/>
<line x1="113.4" y1="3065.6" x2="98.4" y2="3065.6"/>
<line x1="113.4" y1="2955.3" x2="98.4" y2="2955.3"/>
<line x1="193.1" y1="3414.5" x2="618.9" y2="3414.5"/>
<line x1="193.1" y1="3414.5" x2="193.1" y2="3428.5"/>
<line x1="299.6" y1="3414.5" x2="299.6" y2="3428.5"/>
<line x1="406.0" y1="3414.5" x2="406.0" y2="3428.5"/>
<line x1="512.5" y1="3414.5" x2="512.5" y2="3428.5"/>
<line x1="618.9" y1="3414.5" x2="618.9" y2="3428.5"/>
</g>
<text transform="translate(78.6,3396.5) rotate(-90)" x="0" y="0" font-family="Liberation Sans, Arial, sans-serif" font-size="25" text-anchor="middle">0</text>
<text transform="translate(78.6,3286.2) rotate(-90)" x="0" y="0" font-family="Liberation Sans, Arial, sans-serif" font-size="25" text-anchor="middle">10</text>
<text transform="translate(78.6,3175.9) rotate(-90)" x="0" y="0" font-family="Liberation Sans, Arial, sans-serif" font-size="25" text-anchor="middle">20</text>
<text transform="translate(78.6,3065.6) rotate(-90)" x="0" y="0" font-family="Liberation Sans, Arial, sans-serif" font-size="25" text-anchor="middle">30</text>
<text transform="translate(78.6,2955.3) rotate(-90)" x="0" y="0" font-family="Liberation Sans, Arial, sans-serif" font-size="25" text-anchor="middle">40</text>
<text x="193.1" y="3468.0" font-family="Liberation Sans, Arial, sans-serif" font-size="25" text-anchor="middle">0.1</text>
<text x="299.6" y="3468.0" font-family="Liberation Sans, Arial, sans-serif" font-size="25" text-anchor="middle">0.2</text>
<text x="406.0" y="3468.0" font-family="Liberation Sans, Arial, sans-serif" font-size="25" text-anchor="middle">0.3</text>
<text x="512.5" y="3468.0" font-family="Liberation Sans, Arial, sans-serif" font-size="25" text-anchor="middle">0.4</text>
<text x="618.9" y="3468.0" font-family="Liberation Sans, Arial, sans-serif" font-size="25" text-anchor="middle">0.5</text>
<text transform="translate(23.2,3161.8) rotate(-90)" x="0" y="0" font-family="Liberation Sans, Arial, sans-serif" font-weight="bold" font-size="30.5" text-anchor="middle">Frequency</text>
<text x="384.5" y="3507.1" font-family="Liberation Sans, Arial, sans-serif" font-weight="bold" font-size="30.4" text-anchor="middle">Schoener's D</text>
<text x="381.6" y="3542.2" font-family="Liberation Sans, Arial, sans-serif" font-weight="bold" font-size="30" text-anchor="middle" xml:space="preserve">p-value  0.83</text>
<rect x="854.8" y="2953.1" width="51.9" height="431.9" fill="#fff"/>
<rect x="859.1" y="2957.4" width="43.3" height="423.3" fill="#cccccc"/>
<rect x="854.8" y="2953.1" width="51.9" height="431.9" fill="none" stroke="#000" stroke-width="5.5" stroke-linejoin="round"/>
<rect x="906.7" y="3267.8" width="51.9" height="117.2" fill="#fff"/>
<rect x="911.0" y="3272.1" width="43.3" height="108.6" fill="#cccccc"/>
<rect x="906.7" y="3267.8" width="51.9" height="117.2" fill="none" stroke="#000" stroke-width="5.5" stroke-linejoin="round"/>
<rect x="958.7" y="3335.6" width="51.9" height="49.4" fill="#fff"/>
<rect x="963.0" y="3339.9" width="43.3" height="40.8" fill="#cccccc"/>
<rect x="958.7" y="3335.6" width="51.9" height="49.4" fill="none" stroke="#000" stroke-width="5.5" stroke-linejoin="round"/>
<rect x="1010.6" y="3372.7" width="51.9" height="12.3" fill="#fff"/>
<rect x="1014.9" y="3377.0" width="43.3" height="3.7" fill="#cccccc"/>
<rect x="1010.6" y="3372.7" width="51.9" height="12.3" fill="none" stroke="#000" stroke-width="5.5" stroke-linejoin="round"/>
<rect x="1218.4" y="3378.8" width="51.9" height="6.2" fill="#555"/>
<rect x="1218.4" y="3378.8" width="51.9" height="6.2" fill="none" stroke="#000" stroke-width="5.5" stroke-linejoin="round"/>
<line x1="1142.4" y1="3167.8" x2="1142.4" y2="3385.0" stroke="#c8f4f4" stroke-width="9" stroke-linecap="round"/>
<polygon points="1142.4,3156.3 1153.9,3167.8 1142.4,3179.3 1130.9,3167.8" fill="#c8f4f4"/>
<line x1="1142.4" y1="3167.8" x2="1142.4" y2="3385.0" stroke="#ff0000" stroke-width="6" stroke-linecap="round"/>
<polygon points="1142.4,3157.3 1152.9,3167.8 1142.4,3178.3 1131.9,3167.8" fill="#ff0000"/>
<g stroke="#000" stroke-width="5.5" stroke-linecap="round" fill="none">
<line x1="836.2" y1="3385.0" x2="836.2" y2="2953.1"/>
<line x1="836.2" y1="3385.0" x2="821.2" y2="3385.0"/>
<line x1="836.2" y1="3323.3" x2="821.2" y2="3323.3"/>
<line x1="836.2" y1="3261.6" x2="821.2" y2="3261.6"/>
<line x1="836.2" y1="3199.9" x2="821.2" y2="3199.9"/>
<line x1="836.2" y1="3138.2" x2="821.2" y2="3138.2"/>
<line x1="836.2" y1="3076.5" x2="821.2" y2="3076.5"/>
<line x1="836.2" y1="3014.8" x2="821.2" y2="3014.8"/>
<line x1="836.2" y1="2953.1" x2="821.2" y2="2953.1"/>
<line x1="854.8" y1="3402.4" x2="1270.3" y2="3402.4"/>
<line x1="854.8" y1="3402.4" x2="854.8" y2="3416.4"/>
<line x1="958.7" y1="3402.4" x2="958.7" y2="3416.4"/>
<line x1="1062.5" y1="3402.4" x2="1062.5" y2="3416.4"/>
<line x1="1166.4" y1="3402.4" x2="1166.4" y2="3416.4"/>
<line x1="1270.3" y1="3402.4" x2="1270.3" y2="3416.4"/>
</g>
<text transform="translate(801.4,3385.0) rotate(-90)" x="0" y="0" font-family="Liberation Sans, Arial, sans-serif" font-size="25" text-anchor="middle">0</text>
<text transform="translate(801.4,3323.3) rotate(-90)" x="0" y="0" font-family="Liberation Sans, Arial, sans-serif" font-size="25" text-anchor="middle">10</text>
<text transform="translate(801.4,3261.6) rotate(-90)" x="0" y="0" font-family="Liberation Sans, Arial, sans-serif" font-size="25" text-anchor="middle">20</text>
<text transform="translate(801.4,3199.9) rotate(-90)" x="0" y="0" font-family="Liberation Sans, Arial, sans-serif" font-size="25" text-anchor="middle">30</text>
<text transform="translate(801.4,3138.2) rotate(-90)" x="0" y="0" font-family="Liberation Sans, Arial, sans-serif" font-size="25" text-anchor="middle">40</text>
<text transform="translate(801.4,3076.5) rotate(-90)" x="0" y="0" font-family="Liberation Sans, Arial, sans-serif" font-size="25" text-anchor="middle">50</text>
<text transform="translate(801.4,3014.8) rotate(-90)" x="0" y="0" font-family="Liberation Sans, Arial, sans-serif" font-size="25" text-anchor="middle">60</text>
<text transform="translate(801.4,2953.1) rotate(-90)" x="0" y="0" font-family="Liberation Sans, Arial, sans-serif" font-size="25" text-anchor="middle">70</text>
<text x="854.8" y="3455.9" font-family="Liberation Sans, Arial, sans-serif" font-size="25" text-anchor="middle">0.0</text>
<text x="958.7" y="3455.9" font-family="Liberation Sans, Arial, sans-serif" font-size="25" text-anchor="middle">0.1</text>
<text x="1062.5" y="3455.9" font-family="Liberation Sans, Arial, sans-serif" font-size="25" text-anchor="middle">0.2</text>
<text x="1166.4" y="3455.9" font-family="Liberation Sans, Arial, sans-serif" font-size="25" text-anchor="middle">0.3</text>
<text x="1270.3" y="3455.9" font-family="Liberation Sans, Arial, sans-serif" font-size="25" text-anchor="middle">0.4</text>
<text transform="translate(758.3,3141.0) rotate(-90)" x="0" y="0" font-family="Liberation Sans, Arial, sans-serif" font-weight="bold" font-size="30.5" text-anchor="middle">Frequency</text>
<text x="1046.5" y="3495.8" font-family="Liberation Sans, Arial, sans-serif" font-weight="bold" font-size="30.4" text-anchor="middle">Schoener's D</text>
<text x="1043.5" y="3530.9" font-family="Liberation Sans, Arial, sans-serif" font-weight="bold" font-size="30" text-anchor="middle" xml:space="preserve">p-value  0.02</text>
<rect x="1546.7" y="2968.8" width="68.3" height="432.2" fill="#fff"/>
<rect x="1551.0" y="2973.1" width="59.7" height="423.6" fill="#cccccc"/>
<rect x="1546.7" y="2968.8" width="68.3" height="432.2" fill="none" stroke="#000" stroke-width="5.5" stroke-linejoin="round"/>
<rect x="1615.0" y="3282.6" width="68.3" height="118.4" fill="#fff"/>
<rect x="1619.3" y="3286.9" width="59.7" height="109.8" fill="#cccccc"/>
<rect x="1615.0" y="3282.6" width="68.3" height="118.4" fill="none" stroke="#000" stroke-width="5.5" stroke-linejoin="round"/>
<rect x="1683.3" y="3389.2" width="68.3" height="11.8" fill="#fff"/>
<rect x="1687.6" y="3393.5" width="59.7" height="3.2" fill="#cccccc"/>
<rect x="1683.3" y="3389.2" width="68.3" height="11.8" fill="none" stroke="#000" stroke-width="5.5" stroke-linejoin="round"/>
<rect x="1751.6" y="3389.2" width="68.3" height="11.8" fill="#fff"/>
<rect x="1755.9" y="3393.5" width="59.7" height="3.2" fill="#cccccc"/>
<rect x="1751.6" y="3389.2" width="68.3" height="11.8" fill="none" stroke="#000" stroke-width="5.5" stroke-linejoin="round"/>
<rect x="1819.9" y="3389.2" width="68.3" height="11.8" fill="#fff"/>
<rect x="1824.2" y="3393.5" width="59.7" height="3.2" fill="#cccccc"/>
<rect x="1819.9" y="3389.2" width="68.3" height="11.8" fill="none" stroke="#000" stroke-width="5.5" stroke-linejoin="round"/>
<rect x="1888.2" y="3395.1" width="68.3" height="5.9" fill="#555"/>
<rect x="1888.2" y="3395.1" width="68.3" height="5.9" fill="none" stroke="#000" stroke-width="5.5" stroke-linejoin="round"/>
<line x1="1924.4" y1="3184.9" x2="1924.4" y2="3401.0" stroke="#c8f4f4" stroke-width="9" stroke-linecap="round"/>
<polygon points="1924.4,3173.4 1935.9,3184.9 1924.4,3196.4 1912.9,3184.9" fill="#c8f4f4"/>
<line x1="1924.4" y1="3184.9" x2="1924.4" y2="3401.0" stroke="#ff0000" stroke-width="6" stroke-linecap="round"/>
<polygon points="1924.4,3174.4 1934.9,3184.9 1924.4,3195.4 1913.9,3184.9" fill="#ff0000"/>
<g stroke="#000" stroke-width="5.5" stroke-linecap="round" fill="none">
<line x1="1528.3" y1="3401.0" x2="1528.3" y2="3045.8"/>
<line x1="1528.3" y1="3401.0" x2="1513.3" y2="3401.0"/>
<line x1="1528.3" y1="3282.6" x2="1513.3" y2="3282.6"/>
<line x1="1528.3" y1="3164.2" x2="1513.3" y2="3164.2"/>
<line x1="1528.3" y1="3045.8" x2="1513.3" y2="3045.8"/>
<line x1="1546.7" y1="3418.3" x2="1956.5" y2="3418.3"/>
<line x1="1546.7" y1="3418.3" x2="1546.7" y2="3432.3"/>
<line x1="1683.3" y1="3418.3" x2="1683.3" y2="3432.3"/>
<line x1="1819.9" y1="3418.3" x2="1819.9" y2="3432.3"/>
<line x1="1956.5" y1="3418.3" x2="1956.5" y2="3432.3"/>
</g>
<text transform="translate(1493.5,3401.0) rotate(-90)" x="0" y="0" font-family="Liberation Sans, Arial, sans-serif" font-size="25" text-anchor="middle">0</text>
<text transform="translate(1493.5,3282.6) rotate(-90)" x="0" y="0" font-family="Liberation Sans, Arial, sans-serif" font-size="25" text-anchor="middle">20</text>
<text transform="translate(1493.5,3164.2) rotate(-90)" x="0" y="0" font-family="Liberation Sans, Arial, sans-serif" font-size="25" text-anchor="middle">40</text>
<text transform="translate(1493.5,3045.8) rotate(-90)" x="0" y="0" font-family="Liberation Sans, Arial, sans-serif" font-size="25" text-anchor="middle">60</text>
<text x="1546.7" y="3471.8" font-family="Liberation Sans, Arial, sans-serif" font-size="25" text-anchor="middle">0.0</text>
<text x="1683.3" y="3471.8" font-family="Liberation Sans, Arial, sans-serif" font-size="25" text-anchor="middle">0.1</text>
<text x="1819.9" y="3471.8" font-family="Liberation Sans, Arial, sans-serif" font-size="25" text-anchor="middle">0.2</text>
<text x="1956.5" y="3471.8" font-family="Liberation Sans, Arial, sans-serif" font-size="25" text-anchor="middle">0.3</text>
<text transform="translate(1459.9,3141.5) rotate(-90)" x="0" y="0" font-family="Liberation Sans, Arial, sans-serif" font-weight="bold" font-size="30.5" text-anchor="middle">Frequency</text>
<text x="1746.3" y="3503.0" font-family="Liberation Sans, Arial, sans-serif" font-weight="bold" font-size="30.4" text-anchor="middle">Schoener's D</text>
<text x="1743.2" y="3538.2" font-family="Liberation Sans, Arial, sans-serif" font-weight="bold" font-size="30" text-anchor="middle" xml:space="preserve">p-value  0.02</text>
<clipPath id="np1"><rect x="1301.5" y="170.4" width="557.5" height="540.7"/></clipPath>
<g clip-path="url(#np1)">
<rect x="1444.8" y="381.5" width="34.4" height="6.0" fill="#a9c3c8"/>
<rect x="1439.1" y="386.9" width="51.3" height="6.0" fill="#a9c3c8"/>
<rect x="1552.0" y="386.9" width="11.8" height="6.0" fill="#fbddc8"/>
<rect x="1439.1" y="392.4" width="57.0" height="6.0" fill="#a9c3c8"/>
<rect x="1433.5" y="397.9" width="73.9" height="6.0" fill="#a9c3c8"/>
<rect x="1506.9" y="397.9" width="34.4" height="6.0" fill="#a6c0c5"/>
<rect x="1540.7" y="397.9" width="57.0" height="6.0" fill="#a2bcc1"/>
<rect x="1427.8" y="403.4" width="62.6" height="6.0" fill="#a9c3c8"/>
<rect x="1489.9" y="403.4" width="28.7" height="6.0" fill="#a6c0c5"/>
<rect x="1518.2" y="403.4" width="28.7" height="6.0" fill="#a2bcc1"/>
<rect x="1546.4" y="403.4" width="45.7" height="6.0" fill="#9eb8be"/>
<rect x="1591.5" y="403.4" width="23.1" height="6.0" fill="#a2bcc1"/>
<rect x="1427.8" y="408.8" width="45.7" height="6.0" fill="#a9c3c8"/>
<rect x="1473.0" y="408.8" width="28.7" height="6.0" fill="#a6c0c5"/>
<rect x="1501.2" y="408.8" width="23.1" height="6.0" fill="#a2bcc1"/>
<rect x="1523.8" y="408.8" width="17.4" height="6.0" fill="#9eb8be"/>
<rect x="1540.7" y="408.8" width="51.3" height="6.0" fill="#9bb5ba"/>
<rect x="1591.5" y="408.8" width="17.4" height="6.0" fill="#9eb8be"/>
<rect x="1608.5" y="408.8" width="11.8" height="6.0" fill="#a2bcc1"/>
<rect x="1427.8" y="414.3" width="28.7" height="6.0" fill="#a9c3c8"/>
<rect x="1456.1" y="414.3" width="28.7" height="6.0" fill="#a6c0c5"/>
<rect x="1484.3" y="414.3" width="17.4" height="6.0" fill="#a2bcc1"/>
<rect x="1501.2" y="414.3" width="17.4" height="6.0" fill="#9eb8be"/>
<rect x="1518.2" y="414.3" width="17.4" height="6.0" fill="#9bb5ba"/>
<rect x="1535.1" y="414.3" width="23.1" height="6.0" fill="#97b1b6"/>
<rect x="1557.7" y="414.3" width="11.8" height="6.0" fill="#94aeb3"/>
<rect x="1569.0" y="414.3" width="23.1" height="6.0" fill="#97b1b6"/>
<rect x="1591.5" y="414.3" width="17.4" height="6.0" fill="#9bb5ba"/>
<rect x="1608.5" y="414.3" width="11.8" height="6.0" fill="#9eb8be"/>
<rect x="1619.8" y="414.3" width="6.1" height="6.0" fill="#a2bcc1"/>
<rect x="1394.0" y="419.8" width="23.1" height="6.0" fill="#fbddc8"/>
<rect x="1416.5" y="419.8" width="23.1" height="6.0" fill="#b19db7"/>
<rect x="1439.1" y="419.8" width="6.1" height="6.0" fill="#ae9ab4"/>
<rect x="1444.8" y="419.8" width="23.1" height="6.0" fill="#a6c0c5"/>
<rect x="1467.3" y="419.8" width="17.4" height="6.0" fill="#a2bcc1"/>
<rect x="1484.3" y="419.8" width="17.4" height="6.0" fill="#9eb8be"/>
<rect x="1501.2" y="419.8" width="11.8" height="6.0" fill="#9bb5ba"/>
<rect x="1512.5" y="419.8" width="11.8" height="6.0" fill="#97b1b6"/>
<rect x="1523.8" y="419.8" width="17.4" height="6.0" fill="#94aeb3"/>
<rect x="1540.7" y="419.8" width="45.7" height="6.0" fill="#90aaaf"/>
<rect x="1585.9" y="419.8" width="11.8" height="6.0" fill="#94aeb3"/>
<rect x="1597.2" y="419.8" width="11.8" height="6.0" fill="#97b1b6"/>
<rect x="1608.5" y="419.8" width="6.1" height="6.0" fill="#9bb5ba"/>
<rect x="1614.1" y="419.8" width="11.8" height="6.0" fill="#9eb8be"/>
<rect x="1625.4" y="419.8" width="6.1" height="6.0" fill="#a2bcc1"/>
<rect x="1382.7" y="425.3" width="23.1" height="6.0" fill="#fbddc8"/>
<rect x="1405.3" y="425.3" width="23.1" height="6.0" fill="#b19db7"/>
<rect x="1427.8" y="425.3" width="23.1" height="6.0" fill="#ae9ab4"/>
<rect x="1450.4" y="425.3" width="6.1" height="6.0" fill="#aa96b0"/>
<rect x="1456.1" y="425.3" width="11.8" height="6.0" fill="#a2bcc1"/>
<rect x="1467.3" y="425.3" width="11.8" height="6.0" fill="#9eb8be"/>
<rect x="1478.6" y="425.3" width="11.8" height="6.0" fill="#9bb5ba"/>
<rect x="1489.9" y="425.3" width="11.8" height="6.0" fill="#97b1b6"/>
<rect x="1501.2" y="425.3" width="11.8" height="6.0" fill="#94aeb3"/>
<rect x="1512.5" y="425.3" width="17.4" height="6.0" fill="#90aaaf"/>
<rect x="1529.4" y="425.3" width="11.8" height="6.0" fill="#8da7ac"/>
<rect x="1540.7" y="425.3" width="40.0" height="6.0" fill="#89a3a8"/>
<rect x="1580.2" y="425.3" width="11.8" height="6.0" fill="#8da7ac"/>
<rect x="1591.5" y="425.3" width="6.1" height="6.0" fill="#90aaaf"/>
<rect x="1597.2" y="425.3" width="11.8" height="6.0" fill="#94aeb3"/>
<rect x="1608.5" y="425.3" width="6.1" height="6.0" fill="#97b1b6"/>
<rect x="1614.1" y="425.3" width="11.8" height="6.0" fill="#9bb5ba"/>
<rect x="1625.4" y="425.3" width="6.1" height="6.0" fill="#9eb8be"/>
<rect x="1382.7" y="430.7" width="17.4" height="6.0" fill="#fbddc8"/>
<rect x="1399.6" y="430.7" width="17.4" height="6.0" fill="#b19db7"/>
<rect x="1416.5" y="430.7" width="17.4" height="6.0" fill="#ae9ab4"/>
<rect x="1433.5" y="430.7" width="17.4" height="6.0" fill="#aa96b0"/>
<rect x="1450.4" y="430.7" width="11.8" height="6.0" fill="#a692ac"/>
<rect x="1461.7" y="430.7" width="6.1" height="6.0" fill="#a38fa9"/>
<rect x="1467.3" y="430.7" width="6.1" height="6.0" fill="#9bb5ba"/>
<rect x="1473.0" y="430.7" width="11.8" height="6.0" fill="#97b1b6"/>
<rect x="1484.3" y="430.7" width="11.8" height="6.0" fill="#94aeb3"/>
<rect x="1495.6" y="430.7" width="6.1" height="6.0" fill="#90aaaf"/>
<rect x="1501.2" y="430.7" width="11.8" height="6.0" fill="#8da7ac"/>
<rect x="1512.5" y="430.7" width="11.8" height="6.0" fill="#89a3a8"/>
<rect x="1523.8" y="430.7" width="11.8" height="6.0" fill="#859fa5"/>
<rect x="1535.1" y="430.7" width="40.0" height="6.0" fill="#829ca1"/>
<rect x="1574.6" y="430.7" width="11.8" height="6.0" fill="#859fa5"/>
<rect x="1585.9" y="430.7" width="6.1" height="6.0" fill="#89a3a8"/>
<rect x="1591.5" y="430.7" width="11.8" height="6.0" fill="#8da7ac"/>
<rect x="1602.8" y="430.7" width="6.1" height="6.0" fill="#90aaaf"/>
<rect x="1608.5" y="430.7" width="6.1" height="6.0" fill="#94aeb3"/>
<rect x="1614.1" y="430.7" width="6.1" height="6.0" fill="#97b1b6"/>
<rect x="1619.8" y="430.7" width="11.8" height="6.0" fill="#9bb5ba"/>
<rect x="1382.7" y="436.2" width="11.8" height="6.0" fill="#fbddc8"/>
<rect x="1394.0" y="436.2" width="6.1" height="6.0" fill="#b19db7"/>
<rect x="1399.6" y="436.2" width="23.1" height="6.0" fill="#ae9ab4"/>
<rect x="1422.2" y="436.2" width="11.8" height="6.0" fill="#aa96b0"/>
<rect x="1433.5" y="436.2" width="11.8" height="6.0" fill="#a692ac"/>
<rect x="1444.8" y="436.2" width="11.8" height="6.0" fill="#a38fa9"/>
<rect x="1456.1" y="436.2" width="11.8" height="6.0" fill="#9f8ba5"/>
<rect x="1467.3" y="436.2" width="6.1" height="6.0" fill="#9c88a2"/>
<rect x="1473.0" y="436.2" width="6.1" height="6.0" fill="#98849e"/>
<rect x="1478.6" y="436.2" width="11.8" height="6.0" fill="#8da7ac"/>
<rect x="1489.9" y="436.2" width="6.1" height="6.0" fill="#89a3a8"/>
<rect x="1495.6" y="436.2" width="11.8" height="6.0" fill="#859fa5"/>
<rect x="1506.9" y="436.2" width="11.8" height="6.0" fill="#829ca1"/>
<rect x="1518.2" y="436.2" width="11.8" height="6.0" fill="#7e989d"/>
<rect x="1529.4" y="436.2" width="45.7" height="6.0" fill="#7b959a"/>
<rect x="1574.6" y="436.2" width="6.1" height="6.0" fill="#7e989d"/>
<rect x="1580.2" y="436.2" width="11.8" height="6.0" fill="#829ca1"/>
<rect x="1591.5" y="436.2" width="6.1" height="6.0" fill="#859fa5"/>
<rect x="1597.2" y="436.2" width="6.1" height="6.0" fill="#89a3a8"/>
<rect x="1602.8" y="436.2" width="6.1" height="6.0" fill="#8da7ac"/>
<rect x="1608.5" y="436.2" width="6.1" height="6.0" fill="#90aaaf"/>
<rect x="1614.1" y="436.2" width="6.1" height="6.0" fill="#94aeb3"/>
<rect x="1619.8" y="436.2" width="6.1" height="6.0" fill="#97b1b6"/>
<rect x="1625.4" y="436.2" width="6.1" height="6.0" fill="#9bb5ba"/>
<rect x="1382.7" y="441.7" width="6.1" height="6.0" fill="#a9c3c8"/>
<rect x="1388.3" y="441.7" width="6.1" height="6.0" fill="#b19db7"/>
<rect x="1394.0" y="441.7" width="17.4" height="6.0" fill="#ae9ab4"/>
<rect x="1410.9" y="441.7" width="11.8" height="6.0" fill="#aa96b0"/>
<rect x="1422.2" y="441.7" width="11.8" height="6.0" fill="#a692ac"/>
<rect x="1433.5" y="441.7" width="6.1" height="6.0" fill="#a38fa9"/>
<rect x="1439.1" y="441.7" width="11.8" height="6.0" fill="#9f8ba5"/>
<rect x="1450.4" y="441.7" width="6.1" height="6.0" fill="#9c88a2"/>
<rect x="1456.1" y="441.7" width="6.1" height="6.0" fill="#98849e"/>
<rect x="1461.7" y="441.7" width="6.1" height="6.0" fill="#95819b"/>
<rect x="1467.3" y="441.7" width="11.8" height="6.0" fill="#917d97"/>
<rect x="1478.6" y="441.7" width="6.1" height="6.0" fill="#8d7993"/>
<rect x="1484.3" y="441.7" width="6.1" height="6.0" fill="#829ca1"/>
<rect x="1489.9" y="441.7" width="6.1" height="6.0" fill="#7e989d"/>
<rect x="1495.6" y="441.7" width="11.8" height="6.0" fill="#7b959a"/>
<rect x="1506.9" y="441.7" width="6.1" height="6.0" fill="#779196"/>
<rect x="1512.5" y="441.7" width="17.4" height="6.0" fill="#748e93"/>
<rect x="1529.4" y="441.7" width="28.7" height="6.0" fill="#708a8f"/>
<rect x="1557.7" y="441.7" width="11.8" height="6.0" fill="#748e93"/>
<rect x="1569.0" y="441.7" width="11.8" height="6.0" fill="#779196"/>
<rect x="1580.2" y="441.7" width="6.1" height="6.0" fill="#7b959a"/>
<rect x="1585.9" y="441.7" width="6.1" height="6.0" fill="#7e989d"/>
<rect x="1591.5" y="441.7" width="6.1" height="6.0" fill="#829ca1"/>
<rect x="1597.2" y="441.7" width="6.1" height="6.0" fill="#859fa5"/>
<rect x="1602.8" y="441.7" width="6.1" height="6.0" fill="#89a3a8"/>
<rect x="1608.5" y="441.7" width="6.1" height="6.0" fill="#90aaaf"/>
<rect x="1614.1" y="441.7" width="6.1" height="6.0" fill="#94aeb3"/>
<rect x="1619.8" y="441.7" width="6.1" height="6.0" fill="#97b1b6"/>
<rect x="1625.4" y="441.7" width="6.1" height="6.0" fill="#9bb5ba"/>
<rect x="1377.0" y="447.2" width="6.1" height="6.0" fill="#a9c3c8"/>
<rect x="1382.7" y="447.2" width="17.4" height="6.0" fill="#ae9ab4"/>
<rect x="1399.6" y="447.2" width="11.8" height="6.0" fill="#aa96b0"/>
<rect x="1410.9" y="447.2" width="11.8" height="6.0" fill="#a692ac"/>
<rect x="1422.2" y="447.2" width="6.1" height="6.0" fill="#a38fa9"/>
<rect x="1427.8" y="447.2" width="6.1" height="6.0" fill="#9f8ba5"/>
<rect x="1433.5" y="447.2" width="11.8" height="6.0" fill="#9c88a2"/>
<rect x="1444.8" y="447.2" width="6.1" height="6.0" fill="#98849e"/>
<rect x="1450.4" y="447.2" width="6.1" height="6.0" fill="#95819b"/>
<rect x="1456.1" y="447.2" width="6.1" height="6.0" fill="#917d97"/>
<rect x="1461.7" y="447.2" width="6.1" height="6.0" fill="#8a7690"/>
<rect x="1467.3" y="447.2" width="6.1" height="6.0" fill="#86728c"/>
<rect x="1473.0" y="447.2" width="6.1" height="6.0" fill="#836f89"/>
<rect x="1478.6" y="447.2" width="6.1" height="6.0" fill="#7f6b85"/>
<rect x="1484.3" y="447.2" width="11.8" height="6.0" fill="#7c6882"/>
<rect x="1495.6" y="447.2" width="6.1" height="6.0" fill="#708a8f"/>
<rect x="1501.2" y="447.2" width="6.1" height="6.0" fill="#6c868c"/>
<rect x="1506.9" y="447.2" width="17.4" height="6.0" fill="#698388"/>
<rect x="1523.8" y="447.2" width="23.1" height="6.0" fill="#657f84"/>
<rect x="1546.4" y="447.2" width="11.8" height="6.0" fill="#698388"/>
<rect x="1557.7" y="447.2" width="11.8" height="6.0" fill="#6c868c"/>
<rect x="1569.0" y="447.2" width="6.1" height="6.0" fill="#708a8f"/>
<rect x="1574.6" y="447.2" width="6.1" height="6.0" fill="#748e93"/>
<rect x="1580.2" y="447.2" width="6.1" height="6.0" fill="#779196"/>
<rect x="1585.9" y="447.2" width="6.1" height="6.0" fill="#7b959a"/>
<rect x="1591.5" y="447.2" width="6.1" height="6.0" fill="#7e989d"/>
<rect x="1597.2" y="447.2" width="6.1" height="6.0" fill="#859fa5"/>
<rect x="1602.8" y="447.2" width="6.1" height="6.0" fill="#89a3a8"/>
<rect x="1608.5" y="447.2" width="6.1" height="6.0" fill="#8da7ac"/>
<rect x="1614.1" y="447.2" width="6.1" height="6.0" fill="#90aaaf"/>
<rect x="1619.8" y="447.2" width="6.1" height="6.0" fill="#94aeb3"/>
<rect x="1625.4" y="447.2" width="6.1" height="6.0" fill="#97b1b6"/>
<rect x="1371.4" y="452.7" width="17.4" height="6.0" fill="#a6c0c5"/>
<rect x="1388.3" y="452.7" width="11.8" height="6.0" fill="#aa96b0"/>
<rect x="1399.6" y="452.7" width="11.8" height="6.0" fill="#a692ac"/>
<rect x="1410.9" y="452.7" width="6.1" height="6.0" fill="#a38fa9"/>
<rect x="1416.5" y="452.7" width="6.1" height="6.0" fill="#9f8ba5"/>
<rect x="1422.2" y="452.7" width="6.1" height="6.0" fill="#9c88a2"/>
<rect x="1427.8" y="452.7" width="6.1" height="6.0" fill="#98849e"/>
<rect x="1433.5" y="452.7" width="6.1" height="6.0" fill="#95819b"/>
<rect x="1439.1" y="452.7" width="6.1" height="6.0" fill="#917d97"/>
<rect x="1444.8" y="452.7" width="6.1" height="6.0" fill="#8d7993"/>
<rect x="1450.4" y="452.7" width="6.1" height="6.0" fill="#8a7690"/>
<rect x="1456.1" y="452.7" width="6.1" height="6.0" fill="#836f89"/>
<rect x="1461.7" y="452.7" width="6.1" height="6.0" fill="#7f6b85"/>
<rect x="1467.3" y="452.7" width="6.1" height="6.0" fill="#7c6882"/>
<rect x="1473.0" y="452.7" width="6.1" height="6.0" fill="#78647e"/>
<rect x="1478.6" y="452.7" width="6.1" height="6.0" fill="#74607a"/>
<rect x="1484.3" y="452.7" width="11.8" height="6.0" fill="#6d5973"/>
<rect x="1495.6" y="452.7" width="6.1" height="6.0" fill="#6a5670"/>
<rect x="1501.2" y="452.7" width="11.8" height="6.0" fill="#66526c"/>
<rect x="1512.5" y="452.7" width="28.7" height="6.0" fill="#5b757a"/>
<rect x="1540.7" y="452.7" width="11.8" height="6.0" fill="#5e787d"/>
<rect x="1552.0" y="452.7" width="6.1" height="6.0" fill="#627c81"/>
<rect x="1557.7" y="452.7" width="6.1" height="6.0" fill="#657f84"/>
<rect x="1563.3" y="452.7" width="6.1" height="6.0" fill="#698388"/>
<rect x="1569.0" y="452.7" width="6.1" height="6.0" fill="#6c868c"/>
<rect x="1574.6" y="452.7" width="6.1" height="6.0" fill="#708a8f"/>
<rect x="1580.2" y="452.7" width="6.1" height="6.0" fill="#748e93"/>
<rect x="1585.9" y="452.7" width="6.1" height="6.0" fill="#779196"/>
<rect x="1591.5" y="452.7" width="6.1" height="6.0" fill="#7e989d"/>
<rect x="1597.2" y="452.7" width="6.1" height="6.0" fill="#829ca1"/>
<rect x="1602.8" y="452.7" width="6.1" height="6.0" fill="#859fa5"/>
<rect x="1608.5" y="452.7" width="6.1" height="6.0" fill="#8da7ac"/>
<rect x="1614.1" y="452.7" width="6.1" height="6.0" fill="#90aaaf"/>
<rect x="1619.8" y="452.7" width="6.1" height="6.0" fill="#94aeb3"/>
<rect x="1625.4" y="452.7" width="6.1" height="6.0" fill="#97b1b6"/>
<rect x="1365.7" y="458.1" width="17.4" height="6.0" fill="#a6c0c5"/>
<rect x="1382.7" y="458.1" width="6.1" height="6.0" fill="#a2bcc1"/>
<rect x="1388.3" y="458.1" width="6.1" height="6.0" fill="#aa96b0"/>
<rect x="1394.0" y="458.1" width="6.1" height="6.0" fill="#a692ac"/>
<rect x="1399.6" y="458.1" width="11.8" height="6.0" fill="#a38fa9"/>
<rect x="1410.9" y="458.1" width="6.1" height="6.0" fill="#9f8ba5"/>
<rect x="1416.5" y="458.1" width="6.1" height="6.0" fill="#9c88a2"/>
<rect x="1422.2" y="458.1" width="6.1" height="6.0" fill="#95819b"/>
<rect x="1427.8" y="458.1" width="6.1" height="6.0" fill="#917d97"/>
<rect x="1433.5" y="458.1" width="6.1" height="6.0" fill="#8d7993"/>
<rect x="1439.1" y="458.1" width="6.1" height="6.0" fill="#86728c"/>
<rect x="1444.8" y="458.1" width="6.1" height="6.0" fill="#836f89"/>
<rect x="1450.4" y="458.1" width="6.1" height="6.0" fill="#7c6882"/>
<rect x="1456.1" y="458.1" width="6.1" height="6.0" fill="#78647e"/>
<rect x="1461.7" y="458.1" width="6.1" height="6.0" fill="#715d77"/>
<rect x="1467.3" y="458.1" width="6.1" height="6.0" fill="#6d5973"/>
<rect x="1473.0" y="458.1" width="6.1" height="6.0" fill="#66526c"/>
<rect x="1478.6" y="458.1" width="6.1" height="6.0" fill="#634f69"/>
<rect x="1484.3" y="458.1" width="6.1" height="6.0" fill="#5f4b65"/>
<rect x="1489.9" y="458.1" width="6.1" height="6.0" fill="#5b4761"/>
<rect x="1495.6" y="458.1" width="11.8" height="6.0" fill="#58445e"/>
<rect x="1506.9" y="458.1" width="11.8" height="6.0" fill="#54405a"/>
<rect x="1518.2" y="458.1" width="11.8" height="6.0" fill="#4c666b"/>
<rect x="1529.4" y="458.1" width="11.8" height="6.0" fill="#506a6f"/>
<rect x="1540.7" y="458.1" width="6.1" height="6.0" fill="#536e73"/>
<rect x="1546.4" y="458.1" width="6.1" height="6.0" fill="#577176"/>
<rect x="1552.0" y="458.1" width="6.1" height="6.0" fill="#5b757a"/>
<rect x="1557.7" y="458.1" width="6.1" height="6.0" fill="#5e787d"/>
<rect x="1563.3" y="458.1" width="6.1" height="6.0" fill="#627c81"/>
<rect x="1569.0" y="458.1" width="6.1" height="6.0" fill="#698388"/>
<rect x="1574.6" y="458.1" width="6.1" height="6.0" fill="#6c868c"/>
<rect x="1580.2" y="458.1" width="6.1" height="6.0" fill="#708a8f"/>
<rect x="1585.9" y="458.1" width="6.1" height="6.0" fill="#779196"/>
<rect x="1591.5" y="458.1" width="6.1" height="6.0" fill="#7b959a"/>
<rect x="1597.2" y="458.1" width="6.1" height="6.0" fill="#829ca1"/>
<rect x="1602.8" y="458.1" width="6.1" height="6.0" fill="#859fa5"/>
<rect x="1608.5" y="458.1" width="6.1" height="6.0" fill="#8da7ac"/>
<rect x="1614.1" y="458.1" width="6.1" height="6.0" fill="#90aaaf"/>
<rect x="1619.8" y="458.1" width="6.1" height="6.0" fill="#94aeb3"/>
<rect x="1625.4" y="458.1" width="6.1" height="6.0" fill="#97b1b6"/>
<rect x="1631.1" y="458.1" width="6.1" height="6.0" fill="#9bb5ba"/>
<rect x="1636.7" y="458.1" width="6.1" height="6.0" fill="#9eb8be"/>
<rect x="1642.3" y="458.1" width="6.1" height="6.0" fill="#a2bcc1"/>
<rect x="1365.7" y="463.6" width="6.1" height="6.0" fill="#a6c0c5"/>
<rect x="1371.4" y="463.6" width="11.8" height="6.0" fill="#a2bcc1"/>
<rect x="1382.7" y="463.6" width="6.1" height="6.0" fill="#9eb8be"/>
<rect x="1388.3" y="463.6" width="6.1" height="6.0" fill="#a692ac"/>
<rect x="1394.0" y="463.6" width="6.1" height="6.0" fill="#a38fa9"/>
<rect x="1399.6" y="463.6" width="6.1" height="6.0" fill="#9f8ba5"/>
<rect x="1405.3" y="463.6" width="6.1" height="6.0" fill="#9c88a2"/>
<rect x="1410.9" y="463.6" width="6.1" height="6.0" fill="#98849e"/>
<rect x="1416.5" y="463.6" width="6.1" height="6.0" fill="#95819b"/>
<rect x="1422.2" y="463.6" width="6.1" height="6.0" fill="#8d7993"/>
<rect x="1427.8" y="463.6" width="6.1" height="6.0" fill="#8a7690"/>
<rect x="1433.5" y="463.6" width="6.1" height="6.0" fill="#836f89"/>
<rect x="1439.1" y="463.6" width="6.1" height="6.0" fill="#7c6882"/>
<rect x="1444.8" y="463.6" width="6.1" height="6.0" fill="#74607a"/>
<rect x="1450.4" y="463.6" width="6.1" height="6.0" fill="#715d77"/>
<rect x="1456.1" y="463.6" width="6.1" height="6.0" fill="#6a5670"/>
<rect x="1461.7" y="463.6" width="6.1" height="6.0" fill="#634f69"/>
<rect x="1467.3" y="463.6" width="6.1" height="6.0" fill="#5b4761"/>
<rect x="1473.0" y="463.6" width="6.1" height="6.0" fill="#58445e"/>
<rect x="1478.6" y="463.6" width="6.1" height="6.0" fill="#54405a"/>
<rect x="1484.3" y="463.6" width="11.8" height="6.0" fill="#4d3953"/>
<rect x="1495.6" y="463.6" width="6.1" height="6.0" fill="#4a3650"/>
<rect x="1501.2" y="463.6" width="17.4" height="6.0" fill="#46324c"/>
<rect x="1518.2" y="463.6" width="11.8" height="6.0" fill="#4a3650"/>
<rect x="1529.4" y="463.6" width="6.1" height="6.0" fill="#455f64"/>
<rect x="1535.1" y="463.6" width="6.1" height="6.0" fill="#496368"/>
<rect x="1540.7" y="463.6" width="6.1" height="6.0" fill="#4c666b"/>
<rect x="1546.4" y="463.6" width="6.1" height="6.0" fill="#506a6f"/>
<rect x="1552.0" y="463.6" width="6.1" height="6.0" fill="#577176"/>
<rect x="1557.7" y="463.6" width="6.1" height="6.0" fill="#5b757a"/>
<rect x="1563.3" y="463.6" width="6.1" height="6.0" fill="#5e787d"/>
<rect x="1569.0" y="463.6" width="6.1" height="6.0" fill="#657f84"/>
<rect x="1574.6" y="463.6" width="6.1" height="6.0" fill="#6c868c"/>
<rect x="1580.2" y="463.6" width="6.1" height="6.0" fill="#708a8f"/>
<rect x="1585.9" y="463.6" width="6.1" height="6.0" fill="#779196"/>
<rect x="1591.5" y="463.6" width="6.1" height="6.0" fill="#7b959a"/>
<rect x="1597.2" y="463.6" width="6.1" height="6.0" fill="#829ca1"/>
<rect x="1602.8" y="463.6" width="6.1" height="6.0" fill="#859fa5"/>
<rect x="1608.5" y="463.6" width="6.1" height="6.0" fill="#8da7ac"/>
<rect x="1614.1" y="463.6" width="6.1" height="6.0" fill="#90aaaf"/>
<rect x="1619.8" y="463.6" width="6.1" height="6.0" fill="#94aeb3"/>
<rect x="1625.4" y="463.6" width="6.1" height="6.0" fill="#97b1b6"/>
<rect x="1631.1" y="463.6" width="6.1" height="6.0" fill="#9bb5ba"/>
<rect x="1636.7" y="463.6" width="6.1" height="6.0" fill="#9eb8be"/>
<rect x="1642.3" y="463.6" width="6.1" height="6.0" fill="#a2bcc1"/>
<rect x="1360.1" y="469.1" width="17.4" height="6.0" fill="#a2bcc1"/>
<rect x="1377.0" y="469.1" width="6.1" height="6.0" fill="#9eb8be"/>
<rect x="1382.7" y="469.1" width="6.1" height="6.0" fill="#9bb5ba"/>
<rect x="1388.3" y="469.1" width="6.1" height="6.0" fill="#9f8ba5"/>
<rect x="1394.0" y="469.1" width="6.1" height="6.0" fill="#9c88a2"/>
<rect x="1399.6" y="469.1" width="6.1" height="6.0" fill="#98849e"/>
<rect x="1405.3" y="469.1" width="6.1" height="6.0" fill="#95819b"/>
<rect x="1410.9" y="469.1" width="6.1" height="6.0" fill="#917d97"/>
<rect x="1416.5" y="469.1" width="6.1" height="6.0" fill="#8a7690"/>
<rect x="1422.2" y="469.1" width="6.1" height="6.0" fill="#836f89"/>
<rect x="1427.8" y="469.1" width="6.1" height="6.0" fill="#7f6b85"/>
<rect x="1433.5" y="469.1" width="6.1" height="6.0" fill="#78647e"/>
<rect x="1439.1" y="469.1" width="6.1" height="6.0" fill="#715d77"/>
<rect x="1444.8" y="469.1" width="6.1" height="6.0" fill="#6a5670"/>
<rect x="1450.4" y="469.1" width="6.1" height="6.0" fill="#634f69"/>
<rect x="1456.1" y="469.1" width="6.1" height="6.0" fill="#5b4761"/>
<rect x="1461.7" y="469.1" width="6.1" height="6.0" fill="#54405a"/>
<rect x="1467.3" y="469.1" width="6.1" height="6.0" fill="#4d3953"/>
<rect x="1473.0" y="469.1" width="6.1" height="6.0" fill="#46324c"/>
<rect x="1478.6" y="469.1" width="6.1" height="6.0" fill="#422e48"/>
<rect x="1484.3" y="469.1" width="6.1" height="6.0" fill="#3f2b45"/>
<rect x="1489.9" y="469.1" width="11.8" height="6.0" fill="#3b2741"/>
<rect x="1501.2" y="469.1" width="11.8" height="6.0" fill="#38243e"/>
<rect x="1512.5" y="469.1" width="6.1" height="6.0" fill="#3b2741"/>
<rect x="1518.2" y="469.1" width="11.8" height="6.0" fill="#3f2b45"/>
<rect x="1529.4" y="469.1" width="6.1" height="6.0" fill="#46324c"/>
<rect x="1535.1" y="469.1" width="6.1" height="6.0" fill="#425c61"/>
<rect x="1540.7" y="469.1" width="6.1" height="6.0" fill="#455f64"/>
<rect x="1546.4" y="469.1" width="6.1" height="6.0" fill="#4c666b"/>
<rect x="1552.0" y="469.1" width="6.1" height="6.0" fill="#536e73"/>
<rect x="1557.7" y="469.1" width="6.1" height="6.0" fill="#577176"/>
<rect x="1563.3" y="469.1" width="6.1" height="6.0" fill="#5e787d"/>
<rect x="1569.0" y="469.1" width="6.1" height="6.0" fill="#657f84"/>
<rect x="1574.6" y="469.1" width="6.1" height="6.0" fill="#6c868c"/>
<rect x="1580.2" y="469.1" width="6.1" height="6.0" fill="#708a8f"/>
<rect x="1585.9" y="469.1" width="6.1" height="6.0" fill="#779196"/>
<rect x="1591.5" y="469.1" width="6.1" height="6.0" fill="#7e989d"/>
<rect x="1597.2" y="469.1" width="6.1" height="6.0" fill="#829ca1"/>
<rect x="1602.8" y="469.1" width="6.1" height="6.0" fill="#89a3a8"/>
<rect x="1608.5" y="469.1" width="6.1" height="6.0" fill="#8da7ac"/>
<rect x="1614.1" y="469.1" width="6.1" height="6.0" fill="#90aaaf"/>
<rect x="1619.8" y="469.1" width="6.1" height="6.0" fill="#97b1b6"/>
<rect x="1625.4" y="469.1" width="6.1" height="6.0" fill="#9bb5ba"/>
<rect x="1631.1" y="469.1" width="11.8" height="6.0" fill="#9eb8be"/>
<rect x="1360.1" y="474.6" width="6.1" height="6.0" fill="#a2bcc1"/>
<rect x="1365.7" y="474.6" width="11.8" height="6.0" fill="#9eb8be"/>
<rect x="1377.0" y="474.6" width="6.1" height="6.0" fill="#9bb5ba"/>
<rect x="1382.7" y="474.6" width="6.1" height="6.0" fill="#97b1b6"/>
<rect x="1388.3" y="474.6" width="6.1" height="6.0" fill="#9c88a2"/>
<rect x="1394.0" y="474.6" width="6.1" height="6.0" fill="#98849e"/>
<rect x="1399.6" y="474.6" width="6.1" height="6.0" fill="#917d97"/>
<rect x="1405.3" y="474.6" width="6.1" height="6.0" fill="#8d7993"/>
<rect x="1410.9" y="474.6" width="6.1" height="6.0" fill="#86728c"/>
<rect x="1416.5" y="474.6" width="6.1" height="6.0" fill="#836f89"/>
<rect x="1422.2" y="474.6" width="6.1" height="6.0" fill="#7c6882"/>
<rect x="1427.8" y="474.6" width="6.1" height="6.0" fill="#74607a"/>
<rect x="1433.5" y="474.6" width="6.1" height="6.0" fill="#6a5670"/>
<rect x="1439.1" y="474.6" width="6.1" height="6.0" fill="#634f69"/>
<rect x="1444.8" y="474.6" width="6.1" height="6.0" fill="#5b4761"/>
<rect x="1450.4" y="474.6" width="6.1" height="6.0" fill="#54405a"/>
<rect x="1456.1" y="474.6" width="6.1" height="6.0" fill="#4a3650"/>
<rect x="1461.7" y="474.6" width="6.1" height="6.0" fill="#422e48"/>
<rect x="1467.3" y="474.6" width="6.1" height="6.0" fill="#3f2b45"/>
<rect x="1473.0" y="474.6" width="6.1" height="6.0" fill="#38243e"/>
<rect x="1478.6" y="474.6" width="6.1" height="6.0" fill="#34203a"/>
<rect x="1484.3" y="474.6" width="6.1" height="6.0" fill="#311d37"/>
<rect x="1489.9" y="474.6" width="23.1" height="6.0" fill="#2d1933"/>
<rect x="1512.5" y="474.6" width="6.1" height="6.0" fill="#311d37"/>
<rect x="1518.2" y="474.6" width="6.1" height="6.0" fill="#34203a"/>
<rect x="1523.8" y="474.6" width="6.1" height="6.0" fill="#38243e"/>
<rect x="1529.4" y="474.6" width="6.1" height="6.0" fill="#3f2b45"/>
<rect x="1535.1" y="474.6" width="6.1" height="6.0" fill="#422e48"/>
<rect x="1540.7" y="474.6" width="6.1" height="6.0" fill="#4a3650"/>
<rect x="1546.4" y="474.6" width="6.1" height="6.0" fill="#513d57"/>
<rect x="1552.0" y="474.6" width="6.1" height="6.0" fill="#506a6f"/>
<rect x="1557.7" y="474.6" width="6.1" height="6.0" fill="#577176"/>
<rect x="1563.3" y="474.6" width="6.1" height="6.0" fill="#5e787d"/>
<rect x="1569.0" y="474.6" width="6.1" height="6.0" fill="#657f84"/>
<rect x="1574.6" y="474.6" width="6.1" height="6.0" fill="#6c868c"/>
<rect x="1580.2" y="474.6" width="6.1" height="6.0" fill="#748e93"/>
<rect x="1585.9" y="474.6" width="6.1" height="6.0" fill="#7b959a"/>
<rect x="1591.5" y="474.6" width="6.1" height="6.0" fill="#7e989d"/>
<rect x="1597.2" y="474.6" width="6.1" height="6.0" fill="#859fa5"/>
<rect x="1602.8" y="474.6" width="6.1" height="6.0" fill="#89a3a8"/>
<rect x="1608.5" y="474.6" width="6.1" height="6.0" fill="#90aaaf"/>
<rect x="1614.1" y="474.6" width="6.1" height="6.0" fill="#94aeb3"/>
<rect x="1619.8" y="474.6" width="6.1" height="6.0" fill="#97b1b6"/>
<rect x="1625.4" y="474.6" width="6.1" height="6.0" fill="#9bb5ba"/>
<rect x="1631.1" y="474.6" width="6.1" height="6.0" fill="#9eb8be"/>
<rect x="1636.7" y="474.6" width="6.1" height="6.0" fill="#a2bcc1"/>
<rect x="1360.1" y="480.0" width="6.1" height="6.0" fill="#9eb8be"/>
<rect x="1365.7" y="480.0" width="11.8" height="6.0" fill="#9bb5ba"/>
<rect x="1377.0" y="480.0" width="6.1" height="6.0" fill="#97b1b6"/>
<rect x="1382.7" y="480.0" width="6.1" height="6.0" fill="#94aeb3"/>
<rect x="1388.3" y="480.0" width="6.1" height="6.0" fill="#8da7ac"/>
<rect x="1394.0" y="480.0" width="6.1" height="6.0" fill="#917d97"/>
<rect x="1399.6" y="480.0" width="6.1" height="6.0" fill="#8a7690"/>
<rect x="1405.3" y="480.0" width="6.1" height="6.0" fill="#86728c"/>
<rect x="1410.9" y="480.0" width="6.1" height="6.0" fill="#7f6b85"/>
<rect x="1416.5" y="480.0" width="6.1" height="6.0" fill="#78647e"/>
<rect x="1422.2" y="480.0" width="6.1" height="6.0" fill="#715d77"/>
<rect x="1427.8" y="480.0" width="6.1" height="6.0" fill="#66526c"/>
<rect x="1433.5" y="480.0" width="6.1" height="6.0" fill="#5f4b65"/>
<rect x="1439.1" y="480.0" width="6.1" height="6.0" fill="#58445e"/>
<rect x="1444.8" y="480.0" width="6.1" height="6.0" fill="#4d3953"/>
<rect x="1450.4" y="480.0" width="6.1" height="6.0" fill="#46324c"/>
<rect x="1456.1" y="480.0" width="6.1" height="6.0" fill="#3b2741"/>
<rect x="1461.7" y="480.0" width="6.1" height="6.0" fill="#34203a"/>
<rect x="1467.3" y="480.0" width="6.1" height="6.0" fill="#311d37"/>
<rect x="1473.0" y="480.0" width="6.1" height="6.0" fill="#29152f"/>
<rect x="1478.6" y="480.0" width="6.1" height="6.0" fill="#26122c"/>
<rect x="1484.3" y="480.0" width="6.1" height="6.0" fill="#220e28"/>
<rect x="1489.9" y="480.0" width="11.8" height="6.0" fill="#1f0b25"/>
<rect x="1501.2" y="480.0" width="6.1" height="6.0" fill="#220e28"/>
<rect x="1506.9" y="480.0" width="6.1" height="6.0" fill="#26122c"/>
<rect x="1512.5" y="480.0" width="6.1" height="6.0" fill="#29152f"/>
<rect x="1518.2" y="480.0" width="6.1" height="6.0" fill="#2d1933"/>
<rect x="1523.8" y="480.0" width="6.1" height="6.0" fill="#34203a"/>
<rect x="1529.4" y="480.0" width="6.1" height="6.0" fill="#3b2741"/>
<rect x="1535.1" y="480.0" width="6.1" height="6.0" fill="#422e48"/>
<rect x="1540.7" y="480.0" width="6.1" height="6.0" fill="#4a3650"/>
<rect x="1546.4" y="480.0" width="6.1" height="6.0" fill="#513d57"/>
<rect x="1552.0" y="480.0" width="6.1" height="6.0" fill="#58445e"/>
<rect x="1557.7" y="480.0" width="6.1" height="6.0" fill="#5f4b65"/>
<rect x="1563.3" y="480.0" width="6.1" height="6.0" fill="#627c81"/>
<rect x="1569.0" y="480.0" width="6.1" height="6.0" fill="#698388"/>
<rect x="1574.6" y="480.0" width="6.1" height="6.0" fill="#708a8f"/>
<rect x="1580.2" y="480.0" width="6.1" height="6.0" fill="#779196"/>
<rect x="1585.9" y="480.0" width="6.1" height="6.0" fill="#7e989d"/>
<rect x="1591.5" y="480.0" width="6.1" height="6.0" fill="#829ca1"/>
<rect x="1597.2" y="480.0" width="6.1" height="6.0" fill="#89a3a8"/>
<rect x="1602.8" y="480.0" width="6.1" height="6.0" fill="#8da7ac"/>
<rect x="1608.5" y="480.0" width="6.1" height="6.0" fill="#94aeb3"/>
<rect x="1614.1" y="480.0" width="6.1" height="6.0" fill="#97b1b6"/>
<rect x="1619.8" y="480.0" width="6.1" height="6.0" fill="#9bb5ba"/>
<rect x="1625.4" y="480.0" width="11.8" height="6.0" fill="#9eb8be"/>
<rect x="1636.7" y="480.0" width="6.1" height="6.0" fill="#a2bcc1"/>
<rect x="1354.5" y="485.5" width="6.1" height="6.0" fill="#9eb8be"/>
<rect x="1360.1" y="485.5" width="6.1" height="6.0" fill="#9bb5ba"/>
<rect x="1365.7" y="485.5" width="6.1" height="6.0" fill="#97b1b6"/>
<rect x="1371.4" y="485.5" width="6.1" height="6.0" fill="#94aeb3"/>
<rect x="1377.0" y="485.5" width="6.1" height="6.0" fill="#90aaaf"/>
<rect x="1382.7" y="485.5" width="6.1" height="6.0" fill="#95819b"/>
<rect x="1388.3" y="485.5" width="6.1" height="6.0" fill="#917d97"/>
<rect x="1394.0" y="485.5" width="6.1" height="6.0" fill="#8a7690"/>
<rect x="1399.6" y="485.5" width="6.1" height="6.0" fill="#836f89"/>
<rect x="1405.3" y="485.5" width="6.1" height="6.0" fill="#7c6882"/>
<rect x="1410.9" y="485.5" width="6.1" height="6.0" fill="#74607a"/>
<rect x="1416.5" y="485.5" width="6.1" height="6.0" fill="#6d5973"/>
<rect x="1422.2" y="485.5" width="6.1" height="6.0" fill="#66526c"/>
<rect x="1427.8" y="485.5" width="6.1" height="6.0" fill="#5b4761"/>
<rect x="1433.5" y="485.5" width="6.1" height="6.0" fill="#54405a"/>
<rect x="1439.1" y="485.5" width="6.1" height="6.0" fill="#4a3650"/>
<rect x="1444.8" y="485.5" width="6.1" height="6.0" fill="#422e48"/>
<rect x="1450.4" y="485.5" width="6.1" height="6.0" fill="#38243e"/>
<rect x="1456.1" y="485.5" width="6.1" height="6.0" fill="#311d37"/>
<rect x="1461.7" y="485.5" width="6.1" height="6.0" fill="#29152f"/>
<rect x="1467.3" y="485.5" width="6.1" height="6.0" fill="#220e28"/>
<rect x="1473.0" y="485.5" width="6.1" height="6.0" fill="#1f0b25"/>
<rect x="1478.6" y="485.5" width="6.1" height="6.0" fill="#1b0721"/>
<rect x="1484.3" y="485.5" width="17.4" height="6.0" fill="#18041e"/>
<rect x="1501.2" y="485.5" width="6.1" height="6.0" fill="#1b0721"/>
<rect x="1506.9" y="485.5" width="6.1" height="6.0" fill="#1f0b25"/>
<rect x="1512.5" y="485.5" width="6.1" height="6.0" fill="#220e28"/>
<rect x="1518.2" y="485.5" width="6.1" height="6.0" fill="#29152f"/>
<rect x="1523.8" y="485.5" width="6.1" height="6.0" fill="#311d37"/>
<rect x="1529.4" y="485.5" width="6.1" height="6.0" fill="#38243e"/>
<rect x="1535.1" y="485.5" width="6.1" height="6.0" fill="#422e48"/>
<rect x="1540.7" y="485.5" width="6.1" height="6.0" fill="#4a3650"/>
<rect x="1546.4" y="485.5" width="6.1" height="6.0" fill="#54405a"/>
<rect x="1552.0" y="485.5" width="6.1" height="6.0" fill="#5b4761"/>
<rect x="1557.7" y="485.5" width="6.1" height="6.0" fill="#634f69"/>
<rect x="1563.3" y="485.5" width="6.1" height="6.0" fill="#6d5973"/>
<rect x="1569.0" y="485.5" width="6.1" height="6.0" fill="#74607a"/>
<rect x="1574.6" y="485.5" width="6.1" height="6.0" fill="#7c6882"/>
<rect x="1580.2" y="485.5" width="6.1" height="6.0" fill="#7b959a"/>
<rect x="1585.9" y="485.5" width="6.1" height="6.0" fill="#829ca1"/>
<rect x="1591.5" y="485.5" width="6.1" height="6.0" fill="#859fa5"/>
<rect x="1597.2" y="485.5" width="6.1" height="6.0" fill="#8da7ac"/>
<rect x="1602.8" y="485.5" width="6.1" height="6.0" fill="#90aaaf"/>
<rect x="1608.5" y="485.5" width="6.1" height="6.0" fill="#94aeb3"/>
<rect x="1614.1" y="485.5" width="6.1" height="6.0" fill="#97b1b6"/>
<rect x="1619.8" y="485.5" width="6.1" height="6.0" fill="#9bb5ba"/>
<rect x="1625.4" y="485.5" width="6.1" height="6.0" fill="#9eb8be"/>
<rect x="1631.1" y="485.5" width="11.8" height="6.0" fill="#a2bcc1"/>
<rect x="1348.8" y="491.0" width="6.1" height="6.0" fill="#9eb8be"/>
<rect x="1354.5" y="491.0" width="6.1" height="6.0" fill="#9bb5ba"/>
<rect x="1360.1" y="491.0" width="6.1" height="6.0" fill="#97b1b6"/>
<rect x="1365.7" y="491.0" width="6.1" height="6.0" fill="#94aeb3"/>
<rect x="1371.4" y="491.0" width="6.1" height="6.0" fill="#98849e"/>
<rect x="1377.0" y="491.0" width="6.1" height="6.0" fill="#95819b"/>
<rect x="1382.7" y="491.0" width="6.1" height="6.0" fill="#8d7993"/>
<rect x="1388.3" y="491.0" width="6.1" height="6.0" fill="#8a7690"/>
<rect x="1394.0" y="491.0" width="6.1" height="6.0" fill="#836f89"/>
<rect x="1399.6" y="491.0" width="6.1" height="6.0" fill="#7c6882"/>
<rect x="1405.3" y="491.0" width="6.1" height="6.0" fill="#74607a"/>
<rect x="1410.9" y="491.0" width="6.1" height="6.0" fill="#6d5973"/>
<rect x="1416.5" y="491.0" width="6.1" height="6.0" fill="#66526c"/>
<rect x="1422.2" y="491.0" width="6.1" height="6.0" fill="#5b4761"/>
<rect x="1427.8" y="491.0" width="6.1" height="6.0" fill="#54405a"/>
<rect x="1433.5" y="491.0" width="6.1" height="6.0" fill="#4a3650"/>
<rect x="1439.1" y="491.0" width="6.1" height="6.0" fill="#3f2b45"/>
<rect x="1444.8" y="491.0" width="6.1" height="6.0" fill="#38243e"/>
<rect x="1450.4" y="491.0" width="6.1" height="6.0" fill="#311d37"/>
<rect x="1456.1" y="491.0" width="6.1" height="6.0" fill="#26122c"/>
<rect x="1461.7" y="491.0" width="6.1" height="6.0" fill="#1f0b25"/>
<rect x="1467.3" y="491.0" width="6.1" height="6.0" fill="#1b0721"/>
<rect x="1473.0" y="491.0" width="6.1" height="6.0" fill="#18041e"/>
<rect x="1478.6" y="491.0" width="23.1" height="6.0" fill="#14001a"/>
<rect x="1501.2" y="491.0" width="6.1" height="6.0" fill="#18041e"/>
<rect x="1506.9" y="491.0" width="6.1" height="6.0" fill="#1b0721"/>
<rect x="1512.5" y="491.0" width="6.1" height="6.0" fill="#220e28"/>
<rect x="1518.2" y="491.0" width="6.1" height="6.0" fill="#29152f"/>
<rect x="1523.8" y="491.0" width="6.1" height="6.0" fill="#34203a"/>
<rect x="1529.4" y="491.0" width="6.1" height="6.0" fill="#3b2741"/>
<rect x="1535.1" y="491.0" width="6.1" height="6.0" fill="#46324c"/>
<rect x="1540.7" y="491.0" width="6.1" height="6.0" fill="#4d3953"/>
<rect x="1546.4" y="491.0" width="6.1" height="6.0" fill="#58445e"/>
<rect x="1552.0" y="491.0" width="6.1" height="6.0" fill="#5f4b65"/>
<rect x="1557.7" y="491.0" width="6.1" height="6.0" fill="#6a5670"/>
<rect x="1563.3" y="491.0" width="6.1" height="6.0" fill="#715d77"/>
<rect x="1569.0" y="491.0" width="6.1" height="6.0" fill="#78647e"/>
<rect x="1574.6" y="491.0" width="6.1" height="6.0" fill="#7f6b85"/>
<rect x="1580.2" y="491.0" width="6.1" height="6.0" fill="#86728c"/>
<rect x="1585.9" y="491.0" width="6.1" height="6.0" fill="#8d7993"/>
<rect x="1591.5" y="491.0" width="6.1" height="6.0" fill="#8da7ac"/>
<rect x="1597.2" y="491.0" width="6.1" height="6.0" fill="#90aaaf"/>
<rect x="1602.8" y="491.0" width="6.1" height="6.0" fill="#94aeb3"/>
<rect x="1608.5" y="491.0" width="6.1" height="6.0" fill="#97b1b6"/>
<rect x="1614.1" y="491.0" width="6.1" height="6.0" fill="#9bb5ba"/>
<rect x="1619.8" y="491.0" width="6.1" height="6.0" fill="#9eb8be"/>
<rect x="1625.4" y="491.0" width="11.8" height="6.0" fill="#a2bcc1"/>
<rect x="1636.7" y="491.0" width="6.1" height="6.0" fill="#a6c0c5"/>
<rect x="1348.8" y="496.5" width="6.1" height="6.0" fill="#9bb5ba"/>
<rect x="1354.5" y="496.5" width="6.1" height="6.0" fill="#97b1b6"/>
<rect x="1360.1" y="496.5" width="6.1" height="6.0" fill="#9c88a2"/>
<rect x="1365.7" y="496.5" width="6.1" height="6.0" fill="#98849e"/>
<rect x="1371.4" y="496.5" width="6.1" height="6.0" fill="#95819b"/>
<rect x="1377.0" y="496.5" width="6.1" height="6.0" fill="#917d97"/>
<rect x="1382.7" y="496.5" width="6.1" height="6.0" fill="#8a7690"/>
<rect x="1388.3" y="496.5" width="6.1" height="6.0" fill="#836f89"/>
<rect x="1394.0" y="496.5" width="6.1" height="6.0" fill="#7c6882"/>
<rect x="1399.6" y="496.5" width="6.1" height="6.0" fill="#74607a"/>
<rect x="1405.3" y="496.5" width="6.1" height="6.0" fill="#6d5973"/>
<rect x="1410.9" y="496.5" width="6.1" height="6.0" fill="#66526c"/>
<rect x="1416.5" y="496.5" width="6.1" height="6.0" fill="#5b4761"/>
<rect x="1422.2" y="496.5" width="6.1" height="6.0" fill="#54405a"/>
<rect x="1427.8" y="496.5" width="6.1" height="6.0" fill="#4a3650"/>
<rect x="1433.5" y="496.5" width="6.1" height="6.0" fill="#422e48"/>
<rect x="1439.1" y="496.5" width="6.1" height="6.0" fill="#38243e"/>
<rect x="1444.8" y="496.5" width="6.1" height="6.0" fill="#311d37"/>
<rect x="1450.4" y="496.5" width="6.1" height="6.0" fill="#29152f"/>
<rect x="1456.1" y="496.5" width="6.1" height="6.0" fill="#220e28"/>
<rect x="1461.7" y="496.5" width="6.1" height="6.0" fill="#1b0721"/>
<rect x="1467.3" y="496.5" width="6.1" height="6.0" fill="#18041e"/>
<rect x="1473.0" y="496.5" width="28.7" height="6.0" fill="#14001a"/>
<rect x="1501.2" y="496.5" width="6.1" height="6.0" fill="#1b0721"/>
<rect x="1506.9" y="496.5" width="6.1" height="6.0" fill="#1f0b25"/>
<rect x="1512.5" y="496.5" width="6.1" height="6.0" fill="#26122c"/>
<rect x="1518.2" y="496.5" width="6.1" height="6.0" fill="#2d1933"/>
<rect x="1523.8" y="496.5" width="6.1" height="6.0" fill="#38243e"/>
<rect x="1529.4" y="496.5" width="6.1" height="6.0" fill="#3f2b45"/>
<rect x="1535.1" y="496.5" width="6.1" height="6.0" fill="#4a3650"/>
<rect x="1540.7" y="496.5" width="6.1" height="6.0" fill="#54405a"/>
<rect x="1546.4" y="496.5" width="6.1" height="6.0" fill="#5f4b65"/>
<rect x="1552.0" y="496.5" width="6.1" height="6.0" fill="#66526c"/>
<rect x="1557.7" y="496.5" width="6.1" height="6.0" fill="#715d77"/>
<rect x="1563.3" y="496.5" width="6.1" height="6.0" fill="#78647e"/>
<rect x="1569.0" y="496.5" width="6.1" height="6.0" fill="#7f6b85"/>
<rect x="1574.6" y="496.5" width="6.1" height="6.0" fill="#86728c"/>
<rect x="1580.2" y="496.5" width="6.1" height="6.0" fill="#8d7993"/>
<rect x="1585.9" y="496.5" width="6.1" height="6.0" fill="#917d97"/>
<rect x="1591.5" y="496.5" width="6.1" height="6.0" fill="#98849e"/>
<rect x="1597.2" y="496.5" width="6.1" height="6.0" fill="#9c88a2"/>
<rect x="1602.8" y="496.5" width="6.1" height="6.0" fill="#97b1b6"/>
<rect x="1608.5" y="496.5" width="6.1" height="6.0" fill="#9bb5ba"/>
<rect x="1614.1" y="496.5" width="6.1" height="6.0" fill="#9eb8be"/>
<rect x="1619.8" y="496.5" width="11.8" height="6.0" fill="#a2bcc1"/>
<rect x="1631.1" y="496.5" width="6.1" height="6.0" fill="#a6c0c5"/>
<rect x="1343.2" y="501.9" width="6.1" height="6.0" fill="#9bb5ba"/>
<rect x="1348.8" y="501.9" width="6.1" height="6.0" fill="#97b1b6"/>
<rect x="1354.5" y="501.9" width="6.1" height="6.0" fill="#9f8ba5"/>
<rect x="1360.1" y="501.9" width="6.1" height="6.0" fill="#98849e"/>
<rect x="1365.7" y="501.9" width="6.1" height="6.0" fill="#95819b"/>
<rect x="1371.4" y="501.9" width="6.1" height="6.0" fill="#917d97"/>
<rect x="1377.0" y="501.9" width="6.1" height="6.0" fill="#8a7690"/>
<rect x="1382.7" y="501.9" width="6.1" height="6.0" fill="#86728c"/>
<rect x="1388.3" y="501.9" width="6.1" height="6.0" fill="#7f6b85"/>
<rect x="1394.0" y="501.9" width="6.1" height="6.0" fill="#78647e"/>
<rect x="1399.6" y="501.9" width="6.1" height="6.0" fill="#715d77"/>
<rect x="1405.3" y="501.9" width="6.1" height="6.0" fill="#6a5670"/>
<rect x="1410.9" y="501.9" width="6.1" height="6.0" fill="#5f4b65"/>
<rect x="1416.5" y="501.9" width="6.1" height="6.0" fill="#58445e"/>
<rect x="1422.2" y="501.9" width="6.1" height="6.0" fill="#4d3953"/>
<rect x="1427.8" y="501.9" width="6.1" height="6.0" fill="#46324c"/>
<rect x="1433.5" y="501.9" width="6.1" height="6.0" fill="#3b2741"/>
<rect x="1439.1" y="501.9" width="6.1" height="6.0" fill="#34203a"/>
<rect x="1444.8" y="501.9" width="6.1" height="6.0" fill="#2d1933"/>
<rect x="1450.4" y="501.9" width="6.1" height="6.0" fill="#26122c"/>
<rect x="1456.1" y="501.9" width="6.1" height="6.0" fill="#1f0b25"/>
<rect x="1461.7" y="501.9" width="6.1" height="6.0" fill="#1b0721"/>
<rect x="1467.3" y="501.9" width="6.1" height="6.0" fill="#18041e"/>
<rect x="1473.0" y="501.9" width="17.4" height="6.0" fill="#14001a"/>
<rect x="1489.9" y="501.9" width="6.1" height="6.0" fill="#18041e"/>
<rect x="1495.6" y="501.9" width="6.1" height="6.0" fill="#1b0721"/>
<rect x="1501.2" y="501.9" width="6.1" height="6.0" fill="#1f0b25"/>
<rect x="1506.9" y="501.9" width="6.1" height="6.0" fill="#26122c"/>
<rect x="1512.5" y="501.9" width="6.1" height="6.0" fill="#2d1933"/>
<rect x="1518.2" y="501.9" width="6.1" height="6.0" fill="#38243e"/>
<rect x="1523.8" y="501.9" width="6.1" height="6.0" fill="#3f2b45"/>
<rect x="1529.4" y="501.9" width="6.1" height="6.0" fill="#4a3650"/>
<rect x="1535.1" y="501.9" width="6.1" height="6.0" fill="#513d57"/>
<rect x="1540.7" y="501.9" width="6.1" height="6.0" fill="#5b4761"/>
<rect x="1546.4" y="501.9" width="6.1" height="6.0" fill="#66526c"/>
<rect x="1552.0" y="501.9" width="6.1" height="6.0" fill="#6d5973"/>
<rect x="1557.7" y="501.9" width="6.1" height="6.0" fill="#78647e"/>
<rect x="1563.3" y="501.9" width="6.1" height="6.0" fill="#7f6b85"/>
<rect x="1569.0" y="501.9" width="6.1" height="6.0" fill="#86728c"/>
<rect x="1574.6" y="501.9" width="6.1" height="6.0" fill="#8d7993"/>
<rect x="1580.2" y="501.9" width="6.1" height="6.0" fill="#917d97"/>
<rect x="1585.9" y="501.9" width="6.1" height="6.0" fill="#98849e"/>
<rect x="1591.5" y="501.9" width="6.1" height="6.0" fill="#9c88a2"/>
<rect x="1597.2" y="501.9" width="6.1" height="6.0" fill="#9f8ba5"/>
<rect x="1602.8" y="501.9" width="6.1" height="6.0" fill="#a38fa9"/>
<rect x="1608.5" y="501.9" width="6.1" height="6.0" fill="#9eb8be"/>
<rect x="1614.1" y="501.9" width="11.8" height="6.0" fill="#a2bcc1"/>
<rect x="1625.4" y="501.9" width="6.1" height="6.0" fill="#a6c0c5"/>
<rect x="1343.2" y="507.4" width="6.1" height="6.0" fill="#9bb5ba"/>
<rect x="1348.8" y="507.4" width="6.1" height="6.0" fill="#9f8ba5"/>
<rect x="1354.5" y="507.4" width="6.1" height="6.0" fill="#9c88a2"/>
<rect x="1360.1" y="507.4" width="6.1" height="6.0" fill="#98849e"/>
<rect x="1365.7" y="507.4" width="6.1" height="6.0" fill="#917d97"/>
<rect x="1371.4" y="507.4" width="6.1" height="6.0" fill="#8d7993"/>
<rect x="1377.0" y="507.4" width="6.1" height="6.0" fill="#86728c"/>
<rect x="1382.7" y="507.4" width="6.1" height="6.0" fill="#7f6b85"/>
<rect x="1388.3" y="507.4" width="6.1" height="6.0" fill="#7c6882"/>
<rect x="1394.0" y="507.4" width="6.1" height="6.0" fill="#74607a"/>
<rect x="1399.6" y="507.4" width="6.1" height="6.0" fill="#6d5973"/>
<rect x="1405.3" y="507.4" width="6.1" height="6.0" fill="#634f69"/>
<rect x="1410.9" y="507.4" width="6.1" height="6.0" fill="#5b4761"/>
<rect x="1416.5" y="507.4" width="6.1" height="6.0" fill="#54405a"/>
<rect x="1422.2" y="507.4" width="6.1" height="6.0" fill="#4d3953"/>
<rect x="1427.8" y="507.4" width="6.1" height="6.0" fill="#422e48"/>
<rect x="1433.5" y="507.4" width="6.1" height="6.0" fill="#3b2741"/>
<rect x="1439.1" y="507.4" width="6.1" height="6.0" fill="#34203a"/>
<rect x="1444.8" y="507.4" width="6.1" height="6.0" fill="#2d1933"/>
<rect x="1450.4" y="507.4" width="6.1" height="6.0" fill="#26122c"/>
<rect x="1456.1" y="507.4" width="6.1" height="6.0" fill="#220e28"/>
<rect x="1461.7" y="507.4" width="6.1" height="6.0" fill="#1f0b25"/>
<rect x="1467.3" y="507.4" width="23.1" height="6.0" fill="#1b0721"/>
<rect x="1489.9" y="507.4" width="6.1" height="6.0" fill="#1f0b25"/>
<rect x="1495.6" y="507.4" width="6.1" height="6.0" fill="#220e28"/>
<rect x="1501.2" y="507.4" width="6.1" height="6.0" fill="#29152f"/>
<rect x="1506.9" y="507.4" width="6.1" height="6.0" fill="#311d37"/>
<rect x="1512.5" y="507.4" width="6.1" height="6.0" fill="#38243e"/>
<rect x="1518.2" y="507.4" width="6.1" height="6.0" fill="#3f2b45"/>
<rect x="1523.8" y="507.4" width="6.1" height="6.0" fill="#4a3650"/>
<rect x="1529.4" y="507.4" width="6.1" height="6.0" fill="#54405a"/>
<rect x="1535.1" y="507.4" width="6.1" height="6.0" fill="#5b4761"/>
<rect x="1540.7" y="507.4" width="6.1" height="6.0" fill="#66526c"/>
<rect x="1546.4" y="507.4" width="6.1" height="6.0" fill="#6d5973"/>
<rect x="1552.0" y="507.4" width="6.1" height="6.0" fill="#78647e"/>
<rect x="1557.7" y="507.4" width="6.1" height="6.0" fill="#7f6b85"/>
<rect x="1563.3" y="507.4" width="6.1" height="6.0" fill="#86728c"/>
<rect x="1569.0" y="507.4" width="6.1" height="6.0" fill="#8d7993"/>
<rect x="1574.6" y="507.4" width="6.1" height="6.0" fill="#917d97"/>
<rect x="1580.2" y="507.4" width="6.1" height="6.0" fill="#98849e"/>
<rect x="1585.9" y="507.4" width="6.1" height="6.0" fill="#9c88a2"/>
<rect x="1591.5" y="507.4" width="6.1" height="6.0" fill="#9f8ba5"/>
<rect x="1597.2" y="507.4" width="6.1" height="6.0" fill="#a38fa9"/>
<rect x="1602.8" y="507.4" width="6.1" height="6.0" fill="#a692ac"/>
<rect x="1608.5" y="507.4" width="6.1" height="6.0" fill="#aa96b0"/>
<rect x="1614.1" y="507.4" width="6.1" height="6.0" fill="#a2bcc1"/>
<rect x="1619.8" y="507.4" width="6.1" height="6.0" fill="#a6c0c5"/>
<rect x="1343.2" y="512.9" width="6.1" height="6.0" fill="#9f8ba5"/>
<rect x="1348.8" y="512.9" width="6.1" height="6.0" fill="#9c88a2"/>
<rect x="1354.5" y="512.9" width="6.1" height="6.0" fill="#98849e"/>
<rect x="1360.1" y="512.9" width="6.1" height="6.0" fill="#95819b"/>
<rect x="1365.7" y="512.9" width="6.1" height="6.0" fill="#917d97"/>
<rect x="1371.4" y="512.9" width="6.1" height="6.0" fill="#8a7690"/>
<rect x="1377.0" y="512.9" width="6.1" height="6.0" fill="#836f89"/>
<rect x="1382.7" y="512.9" width="6.1" height="6.0" fill="#7f6b85"/>
<rect x="1388.3" y="512.9" width="6.1" height="6.0" fill="#78647e"/>
<rect x="1394.0" y="512.9" width="6.1" height="6.0" fill="#715d77"/>
<rect x="1399.6" y="512.9" width="6.1" height="6.0" fill="#6a5670"/>
<rect x="1405.3" y="512.9" width="6.1" height="6.0" fill="#634f69"/>
<rect x="1410.9" y="512.9" width="6.1" height="6.0" fill="#5b4761"/>
<rect x="1416.5" y="512.9" width="6.1" height="6.0" fill="#54405a"/>
<rect x="1422.2" y="512.9" width="6.1" height="6.0" fill="#4a3650"/>
<rect x="1427.8" y="512.9" width="6.1" height="6.0" fill="#422e48"/>
<rect x="1433.5" y="512.9" width="6.1" height="6.0" fill="#3b2741"/>
<rect x="1439.1" y="512.9" width="6.1" height="6.0" fill="#38243e"/>
<rect x="1444.8" y="512.9" width="6.1" height="6.0" fill="#311d37"/>
<rect x="1450.4" y="512.9" width="6.1" height="6.0" fill="#2d1933"/>
<rect x="1456.1" y="512.9" width="6.1" height="6.0" fill="#29152f"/>
<rect x="1461.7" y="512.9" width="6.1" height="6.0" fill="#26122c"/>
<rect x="1467.3" y="512.9" width="11.8" height="6.0" fill="#220e28"/>
<rect x="1478.6" y="512.9" width="11.8" height="6.0" fill="#26122c"/>
<rect x="1489.9" y="512.9" width="6.1" height="6.0" fill="#29152f"/>
<rect x="1495.6" y="512.9" width="6.1" height="6.0" fill="#311d37"/>
<rect x="1501.2" y="512.9" width="6.1" height="6.0" fill="#34203a"/>
<rect x="1506.9" y="512.9" width="6.1" height="6.0" fill="#3b2741"/>
<rect x="1512.5" y="512.9" width="6.1" height="6.0" fill="#46324c"/>
<rect x="1518.2" y="512.9" width="6.1" height="6.0" fill="#4d3953"/>
<rect x="1523.8" y="512.9" width="6.1" height="6.0" fill="#54405a"/>
<rect x="1529.4" y="512.9" width="6.1" height="6.0" fill="#5f4b65"/>
<rect x="1535.1" y="512.9" width="6.1" height="6.0" fill="#66526c"/>
<rect x="1540.7" y="512.9" width="6.1" height="6.0" fill="#715d77"/>
<rect x="1546.4" y="512.9" width="6.1" height="6.0" fill="#78647e"/>
<rect x="1552.0" y="512.9" width="6.1" height="6.0" fill="#7f6b85"/>
<rect x="1557.7" y="512.9" width="6.1" height="6.0" fill="#86728c"/>
<rect x="1563.3" y="512.9" width="6.1" height="6.0" fill="#8d7993"/>
<rect x="1569.0" y="512.9" width="6.1" height="6.0" fill="#917d97"/>
<rect x="1574.6" y="512.9" width="6.1" height="6.0" fill="#98849e"/>
<rect x="1580.2" y="512.9" width="6.1" height="6.0" fill="#9c88a2"/>
<rect x="1585.9" y="512.9" width="6.1" height="6.0" fill="#9f8ba5"/>
<rect x="1591.5" y="512.9" width="6.1" height="6.0" fill="#a38fa9"/>
<rect x="1597.2" y="512.9" width="6.1" height="6.0" fill="#a692ac"/>
<rect x="1602.8" y="512.9" width="11.8" height="6.0" fill="#aa96b0"/>
<rect x="1614.1" y="512.9" width="28.7" height="6.0" fill="#fbddc8"/>
<rect x="1337.5" y="518.4" width="6.1" height="6.0" fill="#9bb5ba"/>
<rect x="1343.2" y="518.4" width="6.1" height="6.0" fill="#9f8ba5"/>
<rect x="1348.8" y="518.4" width="6.1" height="6.0" fill="#9c88a2"/>
<rect x="1354.5" y="518.4" width="6.1" height="6.0" fill="#98849e"/>
<rect x="1360.1" y="518.4" width="6.1" height="6.0" fill="#95819b"/>
<rect x="1365.7" y="518.4" width="6.1" height="6.0" fill="#8d7993"/>
<rect x="1371.4" y="518.4" width="6.1" height="6.0" fill="#8a7690"/>
<rect x="1377.0" y="518.4" width="6.1" height="6.0" fill="#836f89"/>
<rect x="1382.7" y="518.4" width="6.1" height="6.0" fill="#7c6882"/>
<rect x="1388.3" y="518.4" width="6.1" height="6.0" fill="#78647e"/>
<rect x="1394.0" y="518.4" width="6.1" height="6.0" fill="#715d77"/>
<rect x="1399.6" y="518.4" width="6.1" height="6.0" fill="#6a5670"/>
<rect x="1405.3" y="518.4" width="6.1" height="6.0" fill="#634f69"/>
<rect x="1410.9" y="518.4" width="6.1" height="6.0" fill="#5b4761"/>
<rect x="1416.5" y="518.4" width="6.1" height="6.0" fill="#54405a"/>
<rect x="1422.2" y="518.4" width="6.1" height="6.0" fill="#4d3953"/>
<rect x="1427.8" y="518.4" width="6.1" height="6.0" fill="#46324c"/>
<rect x="1433.5" y="518.4" width="6.1" height="6.0" fill="#422e48"/>
<rect x="1439.1" y="518.4" width="6.1" height="6.0" fill="#3b2741"/>
<rect x="1444.8" y="518.4" width="6.1" height="6.0" fill="#38243e"/>
<rect x="1450.4" y="518.4" width="6.1" height="6.0" fill="#34203a"/>
<rect x="1456.1" y="518.4" width="28.7" height="6.0" fill="#311d37"/>
<rect x="1484.3" y="518.4" width="6.1" height="6.0" fill="#34203a"/>
<rect x="1489.9" y="518.4" width="6.1" height="6.0" fill="#38243e"/>
<rect x="1495.6" y="518.4" width="6.1" height="6.0" fill="#3f2b45"/>
<rect x="1501.2" y="518.4" width="6.1" height="6.0" fill="#46324c"/>
<rect x="1506.9" y="518.4" width="6.1" height="6.0" fill="#4a3650"/>
<rect x="1512.5" y="518.4" width="6.1" height="6.0" fill="#54405a"/>
<rect x="1518.2" y="518.4" width="6.1" height="6.0" fill="#5b4761"/>
<rect x="1523.8" y="518.4" width="6.1" height="6.0" fill="#634f69"/>
<rect x="1529.4" y="518.4" width="6.1" height="6.0" fill="#6a5670"/>
<rect x="1535.1" y="518.4" width="6.1" height="6.0" fill="#74607a"/>
<rect x="1540.7" y="518.4" width="6.1" height="6.0" fill="#7c6882"/>
<rect x="1546.4" y="518.4" width="6.1" height="6.0" fill="#836f89"/>
<rect x="1552.0" y="518.4" width="6.1" height="6.0" fill="#8a7690"/>
<rect x="1557.7" y="518.4" width="6.1" height="6.0" fill="#8d7993"/>
<rect x="1563.3" y="518.4" width="6.1" height="6.0" fill="#95819b"/>
<rect x="1569.0" y="518.4" width="6.1" height="6.0" fill="#98849e"/>
<rect x="1574.6" y="518.4" width="6.1" height="6.0" fill="#9c88a2"/>
<rect x="1580.2" y="518.4" width="6.1" height="6.0" fill="#9f8ba5"/>
<rect x="1585.9" y="518.4" width="6.1" height="6.0" fill="#a38fa9"/>
<rect x="1591.5" y="518.4" width="6.1" height="6.0" fill="#a692ac"/>
<rect x="1597.2" y="518.4" width="11.8" height="6.0" fill="#aa96b0"/>
<rect x="1608.5" y="518.4" width="34.4" height="6.0" fill="#fbddc8"/>
<rect x="1337.5" y="523.8" width="6.1" height="6.0" fill="#9bb5ba"/>
<rect x="1343.2" y="523.8" width="6.1" height="6.0" fill="#9f8ba5"/>
<rect x="1348.8" y="523.8" width="6.1" height="6.0" fill="#9c88a2"/>
<rect x="1354.5" y="523.8" width="6.1" height="6.0" fill="#98849e"/>
<rect x="1360.1" y="523.8" width="6.1" height="6.0" fill="#917d97"/>
<rect x="1365.7" y="523.8" width="6.1" height="6.0" fill="#8d7993"/>
<rect x="1371.4" y="523.8" width="6.1" height="6.0" fill="#8a7690"/>
<rect x="1377.0" y="523.8" width="6.1" height="6.0" fill="#836f89"/>
<rect x="1382.7" y="523.8" width="6.1" height="6.0" fill="#7c6882"/>
<rect x="1388.3" y="523.8" width="6.1" height="6.0" fill="#78647e"/>
<rect x="1394.0" y="523.8" width="6.1" height="6.0" fill="#715d77"/>
<rect x="1399.6" y="523.8" width="6.1" height="6.0" fill="#6a5670"/>
<rect x="1405.3" y="523.8" width="6.1" height="6.0" fill="#66526c"/>
<rect x="1410.9" y="523.8" width="6.1" height="6.0" fill="#5f4b65"/>
<rect x="1416.5" y="523.8" width="6.1" height="6.0" fill="#58445e"/>
<rect x="1422.2" y="523.8" width="6.1" height="6.0" fill="#54405a"/>
<rect x="1427.8" y="523.8" width="6.1" height="6.0" fill="#4d3953"/>
<rect x="1433.5" y="523.8" width="6.1" height="6.0" fill="#4a3650"/>
<rect x="1439.1" y="523.8" width="6.1" height="6.0" fill="#46324c"/>
<rect x="1444.8" y="523.8" width="6.1" height="6.0" fill="#422e48"/>
<rect x="1450.4" y="523.8" width="28.7" height="6.0" fill="#3f2b45"/>
<rect x="1478.6" y="523.8" width="6.1" height="6.0" fill="#422e48"/>
<rect x="1484.3" y="523.8" width="6.1" height="6.0" fill="#46324c"/>
<rect x="1489.9" y="523.8" width="6.1" height="6.0" fill="#4a3650"/>
<rect x="1495.6" y="523.8" width="6.1" height="6.0" fill="#4d3953"/>
<rect x="1501.2" y="523.8" width="6.1" height="6.0" fill="#54405a"/>
<rect x="1506.9" y="523.8" width="6.1" height="6.0" fill="#5b4761"/>
<rect x="1512.5" y="523.8" width="6.1" height="6.0" fill="#634f69"/>
<rect x="1518.2" y="523.8" width="6.1" height="6.0" fill="#6a5670"/>
<rect x="1523.8" y="523.8" width="6.1" height="6.0" fill="#715d77"/>
<rect x="1529.4" y="523.8" width="6.1" height="6.0" fill="#78647e"/>
<rect x="1535.1" y="523.8" width="6.1" height="6.0" fill="#7f6b85"/>
<rect x="1540.7" y="523.8" width="6.1" height="6.0" fill="#86728c"/>
<rect x="1546.4" y="523.8" width="6.1" height="6.0" fill="#fbddc8"/>
<rect x="1552.0" y="523.8" width="6.1" height="6.0" fill="#917d97"/>
<rect x="1557.7" y="523.8" width="6.1" height="6.0" fill="#95819b"/>
<rect x="1563.3" y="523.8" width="6.1" height="6.0" fill="#9c88a2"/>
<rect x="1569.0" y="523.8" width="28.7" height="6.0" fill="#fbddc8"/>
<rect x="1597.2" y="523.8" width="6.1" height="6.0" fill="#aa96b0"/>
<rect x="1602.8" y="523.8" width="40.0" height="6.0" fill="#fbddc8"/>
<rect x="1331.9" y="529.3" width="6.1" height="6.0" fill="#9eb8be"/>
<rect x="1337.5" y="529.3" width="6.1" height="6.0" fill="#9bb5ba"/>
<rect x="1343.2" y="529.3" width="6.1" height="6.0" fill="#9f8ba5"/>
<rect x="1348.8" y="529.3" width="6.1" height="6.0" fill="#9c88a2"/>
<rect x="1354.5" y="529.3" width="6.1" height="6.0" fill="#98849e"/>
<rect x="1360.1" y="529.3" width="6.1" height="6.0" fill="#95819b"/>
<rect x="1365.7" y="529.3" width="6.1" height="6.0" fill="#8d7993"/>
<rect x="1371.4" y="529.3" width="6.1" height="6.0" fill="#8a7690"/>
<rect x="1377.0" y="529.3" width="6.1" height="6.0" fill="#836f89"/>
<rect x="1382.7" y="529.3" width="6.1" height="6.0" fill="#7f6b85"/>
<rect x="1388.3" y="529.3" width="6.1" height="6.0" fill="#78647e"/>
<rect x="1394.0" y="529.3" width="6.1" height="6.0" fill="#74607a"/>
<rect x="1399.6" y="529.3" width="6.1" height="6.0" fill="#6d5973"/>
<rect x="1405.3" y="529.3" width="6.1" height="6.0" fill="#6a5670"/>
<rect x="1410.9" y="529.3" width="6.1" height="6.0" fill="#634f69"/>
<rect x="1416.5" y="529.3" width="6.1" height="6.0" fill="#5f4b65"/>
<rect x="1422.2" y="529.3" width="6.1" height="6.0" fill="#5b4761"/>
<rect x="1427.8" y="529.3" width="6.1" height="6.0" fill="#58445e"/>
<rect x="1433.5" y="529.3" width="6.1" height="6.0" fill="#54405a"/>
<rect x="1439.1" y="529.3" width="6.1" height="6.0" fill="#513d57"/>
<rect x="1444.8" y="529.3" width="28.7" height="6.0" fill="#4d3953"/>
<rect x="1473.0" y="529.3" width="11.8" height="6.0" fill="#513d57"/>
<rect x="1484.3" y="529.3" width="6.1" height="6.0" fill="#54405a"/>
<rect x="1489.9" y="529.3" width="6.1" height="6.0" fill="#5b4761"/>
<rect x="1495.6" y="529.3" width="6.1" height="6.0" fill="#5f4b65"/>
<rect x="1501.2" y="529.3" width="6.1" height="6.0" fill="#634f69"/>
<rect x="1506.9" y="529.3" width="6.1" height="6.0" fill="#6a5670"/>
<rect x="1512.5" y="529.3" width="6.1" height="6.0" fill="#715d77"/>
<rect x="1518.2" y="529.3" width="6.1" height="6.0" fill="#78647e"/>
<rect x="1523.8" y="529.3" width="6.1" height="6.0" fill="#7c6882"/>
<rect x="1529.4" y="529.3" width="6.1" height="6.0" fill="#836f89"/>
<rect x="1535.1" y="529.3" width="6.1" height="6.0" fill="#8a7690"/>
<rect x="1540.7" y="529.3" width="102.1" height="6.0" fill="#fbddc8"/>
<rect x="1331.9" y="534.8" width="6.1" height="6.0" fill="#9eb8be"/>
<rect x="1337.5" y="534.8" width="6.1" height="6.0" fill="#9bb5ba"/>
<rect x="1343.2" y="534.8" width="6.1" height="6.0" fill="#9f8ba5"/>
<rect x="1348.8" y="534.8" width="6.1" height="6.0" fill="#9c88a2"/>
<rect x="1354.5" y="534.8" width="6.1" height="6.0" fill="#98849e"/>
<rect x="1360.1" y="534.8" width="6.1" height="6.0" fill="#95819b"/>
<rect x="1365.7" y="534.8" width="6.1" height="6.0" fill="#917d97"/>
<rect x="1371.4" y="534.8" width="6.1" height="6.0" fill="#8d7993"/>
<rect x="1377.0" y="534.8" width="6.1" height="6.0" fill="#86728c"/>
<rect x="1382.7" y="534.8" width="6.1" height="6.0" fill="#836f89"/>
<rect x="1388.3" y="534.8" width="6.1" height="6.0" fill="#7f6b85"/>
<rect x="1394.0" y="534.8" width="6.1" height="6.0" fill="#78647e"/>
<rect x="1399.6" y="534.8" width="6.1" height="6.0" fill="#74607a"/>
<rect x="1405.3" y="534.8" width="6.1" height="6.0" fill="#715d77"/>
<rect x="1410.9" y="534.8" width="6.1" height="6.0" fill="#6a5670"/>
<rect x="1416.5" y="534.8" width="6.1" height="6.0" fill="#66526c"/>
<rect x="1422.2" y="534.8" width="11.8" height="6.0" fill="#634f69"/>
<rect x="1433.5" y="534.8" width="6.1" height="6.0" fill="#5f4b65"/>
<rect x="1439.1" y="534.8" width="34.4" height="6.0" fill="#5b4761"/>
<rect x="1473.0" y="534.8" width="6.1" height="6.0" fill="#5f4b65"/>
<rect x="1478.6" y="534.8" width="6.1" height="6.0" fill="#634f69"/>
<rect x="1484.3" y="534.8" width="6.1" height="6.0" fill="#66526c"/>
<rect x="1489.9" y="534.8" width="6.1" height="6.0" fill="#6a5670"/>
<rect x="1495.6" y="534.8" width="6.1" height="6.0" fill="#6d5973"/>
<rect x="1501.2" y="534.8" width="6.1" height="6.0" fill="#74607a"/>
<rect x="1506.9" y="534.8" width="6.1" height="6.0" fill="#78647e"/>
<rect x="1512.5" y="534.8" width="6.1" height="6.0" fill="#7f6b85"/>
<rect x="1518.2" y="534.8" width="6.1" height="6.0" fill="#836f89"/>
<rect x="1523.8" y="534.8" width="6.1" height="6.0" fill="#86728c"/>
<rect x="1529.4" y="534.8" width="6.1" height="6.0" fill="#8d7993"/>
<rect x="1535.1" y="534.8" width="107.8" height="6.0" fill="#fbddc8"/>
<rect x="1817.3" y="534.8" width="40.0" height="6.0" fill="#fbddc8"/>
<rect x="1331.9" y="540.3" width="6.1" height="6.0" fill="#9eb8be"/>
<rect x="1337.5" y="540.3" width="11.8" height="6.0" fill="#9bb5ba"/>
<rect x="1348.8" y="540.3" width="6.1" height="6.0" fill="#9f8ba5"/>
<rect x="1354.5" y="540.3" width="6.1" height="6.0" fill="#9c88a2"/>
<rect x="1360.1" y="540.3" width="6.1" height="6.0" fill="#98849e"/>
<rect x="1365.7" y="540.3" width="6.1" height="6.0" fill="#95819b"/>
<rect x="1371.4" y="540.3" width="6.1" height="6.0" fill="#8d7993"/>
<rect x="1377.0" y="540.3" width="6.1" height="6.0" fill="#8a7690"/>
<rect x="1382.7" y="540.3" width="6.1" height="6.0" fill="#86728c"/>
<rect x="1388.3" y="540.3" width="6.1" height="6.0" fill="#836f89"/>
<rect x="1394.0" y="540.3" width="6.1" height="6.0" fill="#7f6b85"/>
<rect x="1399.6" y="540.3" width="6.1" height="6.0" fill="#7c6882"/>
<rect x="1405.3" y="540.3" width="6.1" height="6.0" fill="#78647e"/>
<rect x="1410.9" y="540.3" width="6.1" height="6.0" fill="#74607a"/>
<rect x="1416.5" y="540.3" width="6.1" height="6.0" fill="#715d77"/>
<rect x="1422.2" y="540.3" width="11.8" height="6.0" fill="#6d5973"/>
<rect x="1433.5" y="540.3" width="34.4" height="6.0" fill="#6a5670"/>
<rect x="1467.3" y="540.3" width="11.8" height="6.0" fill="#6d5973"/>
<rect x="1478.6" y="540.3" width="6.1" height="6.0" fill="#715d77"/>
<rect x="1484.3" y="540.3" width="6.1" height="6.0" fill="#74607a"/>
<rect x="1489.9" y="540.3" width="6.1" height="6.0" fill="#78647e"/>
<rect x="1495.6" y="540.3" width="6.1" height="6.0" fill="#7c6882"/>
<rect x="1501.2" y="540.3" width="6.1" height="6.0" fill="#7f6b85"/>
<rect x="1506.9" y="540.3" width="6.1" height="6.0" fill="#86728c"/>
<rect x="1512.5" y="540.3" width="6.1" height="6.0" fill="#8a7690"/>
<rect x="1518.2" y="540.3" width="6.1" height="6.0" fill="#8d7993"/>
<rect x="1523.8" y="540.3" width="113.4" height="6.0" fill="#fbddc8"/>
<rect x="1800.4" y="540.3" width="57.0" height="6.0" fill="#fbddc8"/>
<rect x="1326.2" y="545.7" width="6.1" height="6.0" fill="#a2bcc1"/>
<rect x="1331.9" y="545.7" width="11.8" height="6.0" fill="#9eb8be"/>
<rect x="1343.2" y="545.7" width="6.1" height="6.0" fill="#9bb5ba"/>
<rect x="1348.8" y="545.7" width="6.1" height="6.0" fill="#97b1b6"/>
<rect x="1354.5" y="545.7" width="6.1" height="6.0" fill="#94aeb3"/>
<rect x="1360.1" y="545.7" width="6.1" height="6.0" fill="#9c88a2"/>
<rect x="1365.7" y="545.7" width="6.1" height="6.0" fill="#98849e"/>
<rect x="1371.4" y="545.7" width="6.1" height="6.0" fill="#95819b"/>
<rect x="1377.0" y="545.7" width="6.1" height="6.0" fill="#917d97"/>
<rect x="1382.7" y="545.7" width="6.1" height="6.0" fill="#8d7993"/>
<rect x="1388.3" y="545.7" width="6.1" height="6.0" fill="#8a7690"/>
<rect x="1394.0" y="545.7" width="6.1" height="6.0" fill="#86728c"/>
<rect x="1399.6" y="545.7" width="6.1" height="6.0" fill="#836f89"/>
<rect x="1405.3" y="545.7" width="6.1" height="6.0" fill="#7f6b85"/>
<rect x="1410.9" y="545.7" width="11.8" height="6.0" fill="#7c6882"/>
<rect x="1422.2" y="545.7" width="45.7" height="6.0" fill="#78647e"/>
<rect x="1467.3" y="545.7" width="11.8" height="6.0" fill="#7c6882"/>
<rect x="1478.6" y="545.7" width="6.1" height="6.0" fill="#7f6b85"/>
<rect x="1484.3" y="545.7" width="6.1" height="6.0" fill="#836f89"/>
<rect x="1489.9" y="545.7" width="6.1" height="6.0" fill="#86728c"/>
<rect x="1495.6" y="545.7" width="6.1" height="6.0" fill="#8a7690"/>
<rect x="1501.2" y="545.7" width="6.1" height="6.0" fill="#8d7993"/>
<rect x="1506.9" y="545.7" width="6.1" height="6.0" fill="#917d97"/>
<rect x="1512.5" y="545.7" width="6.1" height="6.0" fill="#95819b"/>
<rect x="1518.2" y="545.7" width="96.5" height="6.0" fill="#fbddc8"/>
<rect x="1794.8" y="545.7" width="62.6" height="6.0" fill="#fbddc8"/>
<rect x="1320.6" y="551.2" width="6.1" height="6.0" fill="#a6c0c5"/>
<rect x="1326.2" y="551.2" width="11.8" height="6.0" fill="#a2bcc1"/>
<rect x="1337.5" y="551.2" width="11.8" height="6.0" fill="#9eb8be"/>
<rect x="1348.8" y="551.2" width="6.1" height="6.0" fill="#9bb5ba"/>
<rect x="1354.5" y="551.2" width="6.1" height="6.0" fill="#97b1b6"/>
<rect x="1360.1" y="551.2" width="6.1" height="6.0" fill="#94aeb3"/>
<rect x="1365.7" y="551.2" width="6.1" height="6.0" fill="#9c88a2"/>
<rect x="1371.4" y="551.2" width="6.1" height="6.0" fill="#98849e"/>
<rect x="1377.0" y="551.2" width="6.1" height="6.0" fill="#95819b"/>
<rect x="1382.7" y="551.2" width="6.1" height="6.0" fill="#917d97"/>
<rect x="1388.3" y="551.2" width="11.8" height="6.0" fill="#8d7993"/>
<rect x="1399.6" y="551.2" width="6.1" height="6.0" fill="#8a7690"/>
<rect x="1405.3" y="551.2" width="11.8" height="6.0" fill="#86728c"/>
<rect x="1416.5" y="551.2" width="45.7" height="6.0" fill="#836f89"/>
<rect x="1461.7" y="551.2" width="11.8" height="6.0" fill="#86728c"/>
<rect x="1473.0" y="551.2" width="6.1" height="6.0" fill="#8a7690"/>
<rect x="1478.6" y="551.2" width="11.8" height="6.0" fill="#8d7993"/>
<rect x="1489.9" y="551.2" width="6.1" height="6.0" fill="#917d97"/>
<rect x="1495.6" y="551.2" width="6.1" height="6.0" fill="#95819b"/>
<rect x="1501.2" y="551.2" width="6.1" height="6.0" fill="#98849e"/>
<rect x="1506.9" y="551.2" width="90.8" height="6.0" fill="#fbddc8"/>
<rect x="1794.8" y="551.2" width="62.6" height="6.0" fill="#fbddc8"/>
<rect x="1314.9" y="556.7" width="17.4" height="6.0" fill="#a6c0c5"/>
<rect x="1331.9" y="556.7" width="11.8" height="6.0" fill="#a2bcc1"/>
<rect x="1343.2" y="556.7" width="11.8" height="6.0" fill="#9eb8be"/>
<rect x="1354.5" y="556.7" width="6.1" height="6.0" fill="#9bb5ba"/>
<rect x="1360.1" y="556.7" width="11.8" height="6.0" fill="#97b1b6"/>
<rect x="1371.4" y="556.7" width="6.1" height="6.0" fill="#9c88a2"/>
<rect x="1377.0" y="556.7" width="11.8" height="6.0" fill="#98849e"/>
<rect x="1388.3" y="556.7" width="11.8" height="6.0" fill="#95819b"/>
<rect x="1399.6" y="556.7" width="11.8" height="6.0" fill="#917d97"/>
<rect x="1410.9" y="556.7" width="45.7" height="6.0" fill="#8d7993"/>
<rect x="1456.1" y="556.7" width="17.4" height="6.0" fill="#917d97"/>
<rect x="1473.0" y="556.7" width="11.8" height="6.0" fill="#95819b"/>
<rect x="1484.3" y="556.7" width="6.1" height="6.0" fill="#98849e"/>
<rect x="1489.9" y="556.7" width="6.1" height="6.0" fill="#9c88a2"/>
<rect x="1495.6" y="556.7" width="79.5" height="6.0" fill="#fbddc8"/>
<rect x="1794.8" y="556.7" width="62.6" height="6.0" fill="#fbddc8"/>
<rect x="1309.3" y="562.2" width="11.8" height="6.0" fill="#a9c3c8"/>
<rect x="1320.6" y="562.2" width="17.4" height="6.0" fill="#a6c0c5"/>
<rect x="1337.5" y="562.2" width="11.8" height="6.0" fill="#a2bcc1"/>
<rect x="1348.8" y="562.2" width="11.8" height="6.0" fill="#9eb8be"/>
<rect x="1360.1" y="562.2" width="11.8" height="6.0" fill="#9bb5ba"/>
<rect x="1371.4" y="562.2" width="11.8" height="6.0" fill="#97b1b6"/>
<rect x="1382.7" y="562.2" width="11.8" height="6.0" fill="#94aeb3"/>
<rect x="1394.0" y="562.2" width="17.4" height="6.0" fill="#98849e"/>
<rect x="1410.9" y="562.2" width="34.4" height="6.0" fill="#95819b"/>
<rect x="1444.8" y="562.2" width="11.8" height="6.0" fill="#98849e"/>
<rect x="1461.7" y="562.2" width="102.1" height="6.0" fill="#fbddc8"/>
<rect x="1800.4" y="562.2" width="57.0" height="6.0" fill="#fbddc8"/>
<rect x="1309.3" y="567.6" width="17.4" height="6.0" fill="#a9c3c8"/>
<rect x="1326.2" y="567.6" width="17.4" height="6.0" fill="#a6c0c5"/>
<rect x="1343.2" y="567.6" width="17.4" height="6.0" fill="#a2bcc1"/>
<rect x="1360.1" y="567.6" width="11.8" height="6.0" fill="#9eb8be"/>
<rect x="1371.4" y="567.6" width="17.4" height="6.0" fill="#9bb5ba"/>
<rect x="1388.3" y="567.6" width="17.4" height="6.0" fill="#97b1b6"/>
<rect x="1405.3" y="567.6" width="6.1" height="6.0" fill="#9f8ba5"/>
<rect x="1410.9" y="567.6" width="34.4" height="6.0" fill="#9c88a2"/>
<rect x="1467.3" y="567.6" width="90.8" height="6.0" fill="#fbddc8"/>
<rect x="1806.0" y="567.6" width="51.3" height="6.0" fill="#fbddc8"/>
<rect x="1309.3" y="573.1" width="23.1" height="6.0" fill="#a9c3c8"/>
<rect x="1331.9" y="573.1" width="23.1" height="6.0" fill="#a6c0c5"/>
<rect x="1354.5" y="573.1" width="17.4" height="6.0" fill="#a2bcc1"/>
<rect x="1371.4" y="573.1" width="23.1" height="6.0" fill="#9eb8be"/>
<rect x="1394.0" y="573.1" width="34.4" height="6.0" fill="#9bb5ba"/>
<rect x="1478.6" y="573.1" width="73.9" height="6.0" fill="#fbddc8"/>
<rect x="1817.3" y="573.1" width="40.0" height="6.0" fill="#fbddc8"/>
<rect x="1309.3" y="578.6" width="34.4" height="6.0" fill="#a9c3c8"/>
<rect x="1343.2" y="578.6" width="23.1" height="6.0" fill="#a6c0c5"/>
<rect x="1365.7" y="578.6" width="34.4" height="6.0" fill="#a2bcc1"/>
<rect x="1399.6" y="578.6" width="17.4" height="6.0" fill="#9eb8be"/>
<rect x="1489.9" y="578.6" width="62.6" height="6.0" fill="#fbddc8"/>
<rect x="1823.0" y="578.6" width="34.4" height="6.0" fill="#fbddc8"/>
<rect x="1309.3" y="584.1" width="45.7" height="6.0" fill="#a9c3c8"/>
<rect x="1354.5" y="584.1" width="34.4" height="6.0" fill="#a6c0c5"/>
<rect x="1388.3" y="584.1" width="23.1" height="6.0" fill="#a2bcc1"/>
<rect x="1506.9" y="584.1" width="45.7" height="6.0" fill="#fbddc8"/>
<rect x="1309.3" y="589.6" width="57.0" height="6.0" fill="#a9c3c8"/>
<rect x="1365.7" y="589.6" width="28.7" height="6.0" fill="#a6c0c5"/>
<rect x="1518.2" y="589.6" width="28.7" height="6.0" fill="#fbddc8"/>
<rect x="1309.3" y="595.0" width="73.9" height="6.0" fill="#a9c3c8"/>
<path d="M1300.0,602.2 L1328.8,603.1 L1357.6,603.1 L1378.7,601.2 L1390.2,596.4 L1399.8,591.6 L1411.3,585.9 L1422.8,579.1 L1434.3,574.3 L1449.7,568.6 L1467.0,562.8 L1491.9,559.9 L1501.5,557.1 L1516.9,546.5 L1530.3,537.9 L1538.0,532.1 L1545.6,524.4 L1553.3,526.4 L1564.8,528.3 L1576.5,523.3 L1590.8,524.3 L1603.2,533.6 L1611.4,532.5 L1621.7,524.3 L1632.0,516.1 L1638.1,505.8 L1642.3,499.6 L1651.5,490.4 L1654.6,481.1 L1657.7,472.9 L1656.6,464.7 L1650.5,457.5 L1634.0,456.5 L1632.0,448.2 L1626.2,441.9 L1626.2,430.4 L1630.0,417.0 L1629.1,399.7 L1614.7,385.3 L1610.9,378.6 L1598.4,369.0 L1589.7,358.4 L1576.4,342.1 L1569.6,330.6 L1567.7,311.4 L1562.9,299.9 L1561.0,295.1 L1551.4,288.4 L1541.8,283.6 L1527.4,283.0 L1514.9,294.1 L1512.1,300.9 L1503.4,309.9 L1497.7,305.7 L1482.3,304.7 L1468.9,311.4 L1447.8,328.7 L1434.3,331.6 L1422.8,337.3 L1407.5,353.6 L1390.2,369.0 L1376.8,378.6 L1365.3,390.1 L1357.6,403.5 L1349.9,411.2 L1343.2,422.7 L1338.4,434.2 L1332.6,449.6 L1331.7,455.4 L1335.5,468.8 L1342.2,482.2 L1345.1,497.6 L1340.3,511.0 L1335.5,522.5 L1331.7,537.9 L1324.9,551.3 L1311.5,560.9 L1300.0,562.8 Z" fill="none" stroke="#0f6077" stroke-width="2.1" stroke-linejoin="round" stroke-linecap="round"/>
<path d="M1862.0,524.0 L1856.0,517.0 L1852.0,511.0 L1845.8,505.8 L1839.7,505.4 L1827.3,510.9 L1822.2,515.1 L1821.2,532.5 L1817.0,549.0 L1806.8,563.4 L1792.4,572.6 L1778.0,579.8 L1767.7,590.1 L1759.5,602.5 L1758.4,614.8 L1758.4,623.0 L1754.3,628.2 L1754.3,633.3 L1760.5,632.3 L1775.9,614.8 L1788.3,612.7 L1802.6,612.7 L1821.2,598.3 L1835.5,579.8 L1847.9,563.4 L1856.1,546.9 L1862.0,538.0" fill="none" stroke="#0f6077" stroke-width="2.1" stroke-linejoin="round" stroke-linecap="round"/>
<path d="M1571.2,194.0 L1570.2,198.8 L1565.4,204.6 L1565.4,211.1 L1566.4,215.2 L1577.7,217.3 L1589.0,215.2 L1590.7,210.4 L1596.2,205.0 L1596.9,199.5 L1600.7,194.0" fill="none" stroke="#0f6077" stroke-width="2.1" stroke-linejoin="round" stroke-linecap="round"/>
<path d="M1355.7,449.6 L1363.3,434.2 L1373.9,413.1 L1378.7,395.9 L1390.2,380.5 L1407.5,367.1 L1422.8,358.4 L1449.7,347.9 L1467.0,343.1 L1486.2,338.3 L1505.3,326.8 L1524.5,314.3 L1538.0,308.5 L1547.6,313.3 L1553.3,326.8 L1559.1,342.1 L1566.8,361.3 L1569.6,376.7 L1564.8,399.7 L1562.9,415.0 L1562.9,430.4 L1565.0,440.0 L1562.9,455.4 L1549.5,465.0 L1532.2,474.5 L1523.6,482.2 L1526.5,486.1 L1535.1,497.6 L1532.2,511.0 L1520.7,520.6 L1503.4,534.0 L1482.3,535.0 L1453.5,537.9 L1434.3,541.7 L1419.0,553.2 L1399.8,564.7 L1376.8,578.2 L1359.5,583.9 L1346.1,582.0 L1341.3,572.4 L1349.9,555.1 L1353.7,536.0 L1359.5,516.8 L1363.3,497.6 L1363.3,474.5 L1355.7,459.2 Z" fill="none" stroke="#0f6077" stroke-width="2.1" stroke-linejoin="round" stroke-linecap="round" stroke-dasharray="10.5 10.5"/>
<path d="M1351.0,445.0 L1353.7,434.2 L1363.3,418.9 L1372.9,403.5 L1380.6,388.2 L1399.8,372.8 L1419.0,356.5 L1436.3,351.7 L1463.1,350.8 L1491.9,352.7 L1501.5,356.5 L1514.9,360.9 L1520.7,357.5 L1532.2,355.6 L1539.9,351.7 L1553.3,350.2 L1571.5,351.7 L1583.0,357.5 L1590.7,365.1 L1595.5,374.7 L1594.5,384.3 L1590.7,393.9 L1590.7,405.4 L1597.4,417.0 L1606.1,428.5 L1611.8,438.1 L1619.5,449.6 L1627.9,454.4 L1642.3,466.7 L1655.6,478.0 L1691.6,479.1 L1708.0,483.2 L1720.4,489.4 L1732.7,499.6 L1737.9,507.9 L1736.8,518.1 L1730.7,528.4 L1722.4,533.6 L1704.0,538.7 L1693.7,542.8 L1690.6,549.0 L1685.4,554.1 L1675.2,554.1 L1662.8,543.8 L1646.4,543.8 L1623.7,545.9 L1601.1,552.1 L1580.6,558.2 L1564.8,564.7 L1553.3,574.3 L1551.4,589.7 L1545.6,596.4 L1526.5,596.4 L1511.1,591.6 L1495.8,585.9 L1482.3,578.2 L1463.1,571.5 L1449.7,572.4 L1434.3,576.3 L1422.8,581.1 L1413.2,583.9 L1403.6,582.0 L1384.4,577.2 L1369.1,570.5 L1353.7,562.8 L1341.3,551.3 L1337.4,539.8 L1338.4,526.4 L1344.1,512.9 L1351.8,493.7 L1352.8,478.4 L1350.9,459.2 Z" fill="none" stroke="#f47c22" stroke-width="2.1" stroke-linejoin="round" stroke-linecap="round"/>
<path d="M1862.0,587.0 L1856.1,587.0 L1843.8,588.1 L1817.0,595.3 L1786.2,598.3 L1769.7,597.3 L1757.4,602.5 L1745.1,614.8 L1741.0,623.0 L1734.8,628.2 L1720.4,628.2 L1713.2,621.0 L1708.1,608.6 L1701.9,598.3 L1708.1,584.0 L1716.3,579.8 L1724.5,575.7 L1738.9,568.5 L1755.3,557.2 L1765.6,548.0 L1786.2,545.9 L1798.5,540.8 L1817.0,526.4 L1833.5,522.3 L1856.1,521.2 L1862.0,521.0" fill="none" stroke="#f47c22" stroke-width="2.1" stroke-linejoin="round" stroke-linecap="round"/>
<path d="M1504.0,444.0 L1512.0,437.0 L1525.0,434.0 L1533.0,438.0 L1535.0,450.0 L1531.0,462.0 L1522.0,469.5 L1512.0,467.0 L1505.0,458.0 Z" fill="none" stroke="#f47c22" stroke-width="2.1" stroke-linejoin="round" stroke-linecap="round"/>
<path d="M1558.0,598.0 L1570.3,595.3 L1588.8,596.3 L1600.1,606.6 L1601.1,616.8 L1593.9,622.0 L1582.6,622.0 L1570.0,611.0 Z" fill="none" stroke="#f47c22" stroke-width="2.1" stroke-linejoin="round" stroke-linecap="round"/>
<path d="M1494.0,714.0 L1479.9,710.5 L1465.5,698.1 L1464.5,692.0 L1435.7,663.8 L1423.4,663.2 L1413.1,664.2 L1412.1,670.4 L1406.9,675.5 L1412.1,680.7 L1413.1,685.8 L1418.2,690.9 L1423.4,692.0 L1430.6,697.1 L1435.7,697.7 L1441.9,702.3 L1448.1,703.3 L1454.2,707.0 L1470.7,707.4 L1476.0,714.0" fill="none" stroke="#f47c22" stroke-width="2.1" stroke-linejoin="round" stroke-linecap="round"/>
<path d="M1447.0,632.3 L1447.0,638.5" fill="none" stroke="#f47c22" stroke-width="2.1" stroke-linejoin="round" stroke-linecap="round"/>
<path d="M1372.9,445.8 L1380.6,426.6 L1390.2,407.4 L1403.6,388.2 L1419.0,374.7 L1442.0,365.1 L1463.1,364.2 L1482.3,367.1 L1497.7,374.7 L1511.1,384.3 L1520.7,387.2 L1532.2,380.5 L1541.8,372.8 L1553.3,369.9 L1564.8,374.7 L1568.7,384.3 L1562.9,393.9 L1549.5,399.7 L1538.0,403.5 L1535.1,409.3 L1541.8,418.9 L1555.2,428.5 L1572.5,434.2 L1584.7,440.0 L1592.9,450.3 L1607.3,466.7 L1621.7,481.1 L1632.0,489.4 L1642.3,498.6 L1656.6,507.9 L1652.5,516.1 L1642.3,522.3 L1621.7,530.5 L1601.1,534.6 L1580.6,535.6 L1560.0,532.5 L1553.3,530.2 L1539.9,530.2 L1520.7,549.4 L1511.1,553.2 L1501.5,555.1 L1482.3,553.2 L1453.5,552.3 L1430.5,555.1 L1407.5,560.0 L1392.1,558.0 L1376.8,553.2 L1367.2,545.6 L1364.3,536.0 L1369.1,516.8 L1372.9,497.6 L1372.9,478.4 L1372.0,459.2 Z" fill="none" stroke="#f47c22" stroke-width="2.1" stroke-linejoin="round" stroke-linecap="round" stroke-dasharray="10.5 10.5"/>
<ellipse cx="1840" cy="553.6" rx="21" ry="18" fill="none" stroke="#f47c22" stroke-width="2.1"/>
<circle cx="1577.7" cy="278.8" r="1.8" fill="#0f6077"/>
<circle cx="1606.1" cy="347.5" r="1.8" fill="#0f6077"/>
<circle cx="1725.5" cy="606.6" r="1.8" fill="#0f6077"/>
<circle cx="1691.6" cy="627.5" r="1.8" fill="#0f6077"/>
<circle cx="1662.8" cy="643.6" r="1.8" fill="#f47c22"/>
</g>
<rect x="1619.2" y="181.3" width="20.4" height="20.1" fill="#f28e46" stroke="#000" stroke-width="2"/>
<rect x="1619.2" y="211.3" width="20.4" height="20.3" fill="#287f90" stroke="#000" stroke-width="2"/>
<text x="1648.8" y="202.3" font-family="Liberation Sans, Arial, sans-serif" font-weight="bold" font-size="31" >Maastrichtian</text>
<text x="1648.8" y="231.7" font-family="Liberation Sans, Arial, sans-serif" font-weight="bold" font-size="31" >Danian</text>
<rect x="1298" y="166.9" width="564.5" height="547.7" fill="none" stroke="#000" stroke-width="7"/>
<g stroke="#000" stroke-width="7">
<line x1="1298" y1="166.9" x2="1268.0" y2="166.9"/>
<line x1="1298" y1="440.9" x2="1268.0" y2="440.9"/>
<line x1="1298" y1="714.5" x2="1268.0" y2="714.5"/>
<line x1="1364.9" y1="714.6" x2="1364.9" y2="743.7"/>
<line x1="1474.6" y1="714.6" x2="1474.6" y2="743.7"/>
<line x1="1584.3" y1="714.6" x2="1584.3" y2="743.7"/>
<line x1="1694.0" y1="714.6" x2="1694.0" y2="743.7"/>
<line x1="1803.7" y1="714.6" x2="1803.7" y2="743.7"/>
</g>
<text transform="translate(1260.4,166.9) rotate(-90)" font-family="Liberation Sans, Arial, sans-serif" font-size="29.5" text-anchor="middle">5</text>
<text transform="translate(1260.4,440.9) rotate(-90)" font-family="Liberation Sans, Arial, sans-serif" font-size="29.5" text-anchor="middle">0</text>
<text transform="translate(1260.4,714.5) rotate(-90)" font-family="Liberation Sans, Arial, sans-serif" font-size="29.5" text-anchor="middle">-5</text>
<text x="1364.9" y="770.7" font-family="Liberation Sans, Arial, sans-serif" font-size="29.5" text-anchor="middle">-2</text>
<text x="1474.6" y="770.7" font-family="Liberation Sans, Arial, sans-serif" font-size="29.5" text-anchor="middle">0</text>
<text x="1584.3" y="770.7" font-family="Liberation Sans, Arial, sans-serif" font-size="29.5" text-anchor="middle">2</text>
<text x="1694.0" y="770.7" font-family="Liberation Sans, Arial, sans-serif" font-size="29.5" text-anchor="middle">4</text>
<text x="1803.7" y="770.7" font-family="Liberation Sans, Arial, sans-serif" font-size="29.5" text-anchor="middle">6</text>
<text x="1601.5" y="809.3" font-family="Liberation Sans, Arial, sans-serif" font-weight="bold" font-size="39.3" text-anchor="middle">PC1 (35.01%)</text>
<text transform="translate(1219.7,410.8) rotate(-90)" font-family="Liberation Sans, Arial, sans-serif" font-weight="bold" font-size="39.3" text-anchor="middle">PC2 (24.02%)</text>
<clipPath id="np2"><rect x="1279.5" y="1874.5" width="546.9000000000001" height="699.4000000000001"/></clipPath>
<g clip-path="url(#np2)">
<rect x="1367.4" y="2082.9" width="17.1" height="7.6" fill="#fbddc8"/>
<rect x="1367.4" y="2090.0" width="28.2" height="7.6" fill="#fbddc8"/>
<rect x="1494.8" y="2097.0" width="11.6" height="7.6" fill="#97b1b6"/>
<rect x="1505.9" y="2097.0" width="17.1" height="7.6" fill="#9bb5ba"/>
<rect x="1522.5" y="2097.0" width="17.1" height="7.6" fill="#9eb8be"/>
<rect x="1539.1" y="2097.0" width="11.6" height="7.6" fill="#a2bcc1"/>
<rect x="1450.5" y="2104.1" width="44.8" height="7.6" fill="#90aaaf"/>
<rect x="1494.8" y="2104.1" width="11.6" height="7.6" fill="#94aeb3"/>
<rect x="1505.9" y="2104.1" width="17.1" height="7.6" fill="#97b1b6"/>
<rect x="1522.5" y="2104.1" width="11.6" height="7.6" fill="#9bb5ba"/>
<rect x="1533.6" y="2104.1" width="11.6" height="7.6" fill="#9eb8be"/>
<rect x="1544.6" y="2104.1" width="17.1" height="7.6" fill="#a2bcc1"/>
<rect x="1406.2" y="2111.2" width="6.0" height="7.6" fill="#9bb5ba"/>
<rect x="1411.7" y="2111.2" width="11.6" height="7.6" fill="#97b1b6"/>
<rect x="1422.8" y="2111.2" width="6.0" height="7.6" fill="#94aeb3"/>
<rect x="1428.3" y="2111.2" width="17.1" height="7.6" fill="#90aaaf"/>
<rect x="1444.9" y="2111.2" width="17.1" height="7.6" fill="#8da7ac"/>
<rect x="1461.6" y="2111.2" width="17.1" height="7.6" fill="#89a3a8"/>
<rect x="1478.2" y="2111.2" width="17.1" height="7.6" fill="#8da7ac"/>
<rect x="1494.8" y="2111.2" width="17.1" height="7.6" fill="#90aaaf"/>
<rect x="1511.4" y="2111.2" width="11.6" height="7.6" fill="#94aeb3"/>
<rect x="1522.5" y="2111.2" width="6.0" height="7.6" fill="#97b1b6"/>
<rect x="1528.0" y="2111.2" width="11.6" height="7.6" fill="#9bb5ba"/>
<rect x="1539.1" y="2111.2" width="11.6" height="7.6" fill="#9eb8be"/>
<rect x="1550.2" y="2111.2" width="17.1" height="7.6" fill="#a2bcc1"/>
<rect x="1566.8" y="2111.2" width="6.0" height="7.6" fill="#a6c0c5"/>
<rect x="1384.0" y="2118.2" width="11.6" height="7.6" fill="#9eb8be"/>
<rect x="1395.1" y="2118.2" width="6.0" height="7.6" fill="#9bb5ba"/>
<rect x="1400.6" y="2118.2" width="11.6" height="7.6" fill="#97b1b6"/>
<rect x="1411.7" y="2118.2" width="11.6" height="7.6" fill="#94aeb3"/>
<rect x="1422.8" y="2118.2" width="6.0" height="7.6" fill="#90aaaf"/>
<rect x="1428.3" y="2118.2" width="11.6" height="7.6" fill="#8da7ac"/>
<rect x="1439.4" y="2118.2" width="17.1" height="7.6" fill="#89a3a8"/>
<rect x="1456.0" y="2118.2" width="22.7" height="7.6" fill="#8d7993"/>
<rect x="1478.2" y="2118.2" width="6.0" height="7.6" fill="#859fa5"/>
<rect x="1483.7" y="2118.2" width="17.1" height="7.6" fill="#89a3a8"/>
<rect x="1500.3" y="2118.2" width="11.6" height="7.6" fill="#8da7ac"/>
<rect x="1511.4" y="2118.2" width="6.0" height="7.6" fill="#90aaaf"/>
<rect x="1516.9" y="2118.2" width="11.6" height="7.6" fill="#94aeb3"/>
<rect x="1528.0" y="2118.2" width="11.6" height="7.6" fill="#97b1b6"/>
<rect x="1539.1" y="2118.2" width="6.0" height="7.6" fill="#9bb5ba"/>
<rect x="1544.6" y="2118.2" width="11.6" height="7.6" fill="#9eb8be"/>
<rect x="1555.7" y="2118.2" width="17.1" height="7.6" fill="#a2bcc1"/>
<rect x="1572.3" y="2118.2" width="6.0" height="7.6" fill="#a6c0c5"/>
<rect x="1688.7" y="2118.2" width="11.6" height="7.6" fill="#fbddc8"/>
<rect x="1384.0" y="2125.3" width="6.0" height="7.6" fill="#9eb8be"/>
<rect x="1389.5" y="2125.3" width="11.6" height="7.6" fill="#9bb5ba"/>
<rect x="1400.6" y="2125.3" width="6.0" height="7.6" fill="#97b1b6"/>
<rect x="1406.2" y="2125.3" width="11.6" height="7.6" fill="#94aeb3"/>
<rect x="1417.2" y="2125.3" width="6.0" height="7.6" fill="#90aaaf"/>
<rect x="1422.8" y="2125.3" width="6.0" height="7.6" fill="#8da7ac"/>
<rect x="1428.3" y="2125.3" width="11.6" height="7.6" fill="#89a3a8"/>
<rect x="1439.4" y="2125.3" width="6.0" height="7.6" fill="#859fa5"/>
<rect x="1444.9" y="2125.3" width="6.0" height="7.6" fill="#8d7993"/>
<rect x="1450.5" y="2125.3" width="39.3" height="7.6" fill="#8a7690"/>
<rect x="1489.3" y="2125.3" width="11.6" height="7.6" fill="#8d7993"/>
<rect x="1500.3" y="2125.3" width="6.0" height="7.6" fill="#917d97"/>
<rect x="1505.9" y="2125.3" width="6.0" height="7.6" fill="#89a3a8"/>
<rect x="1511.4" y="2125.3" width="6.0" height="7.6" fill="#8da7ac"/>
<rect x="1516.9" y="2125.3" width="11.6" height="7.6" fill="#90aaaf"/>
<rect x="1528.0" y="2125.3" width="6.0" height="7.6" fill="#94aeb3"/>
<rect x="1533.6" y="2125.3" width="11.6" height="7.6" fill="#97b1b6"/>
<rect x="1544.6" y="2125.3" width="6.0" height="7.6" fill="#9bb5ba"/>
<rect x="1550.2" y="2125.3" width="11.6" height="7.6" fill="#9eb8be"/>
<rect x="1561.3" y="2125.3" width="11.6" height="7.6" fill="#a2bcc1"/>
<rect x="1572.3" y="2125.3" width="22.7" height="7.6" fill="#a6c0c5"/>
<rect x="1594.5" y="2125.3" width="11.6" height="7.6" fill="#a9c3c8"/>
<rect x="1677.6" y="2125.3" width="33.7" height="7.6" fill="#fbddc8"/>
<rect x="1372.9" y="2132.4" width="6.0" height="7.6" fill="#a2bcc1"/>
<rect x="1378.5" y="2132.4" width="6.0" height="7.6" fill="#9eb8be"/>
<rect x="1384.0" y="2132.4" width="11.6" height="7.6" fill="#9bb5ba"/>
<rect x="1395.1" y="2132.4" width="6.0" height="7.6" fill="#97b1b6"/>
<rect x="1400.6" y="2132.4" width="11.6" height="7.6" fill="#94aeb3"/>
<rect x="1411.7" y="2132.4" width="6.0" height="7.6" fill="#90aaaf"/>
<rect x="1417.2" y="2132.4" width="6.0" height="7.6" fill="#8da7ac"/>
<rect x="1422.8" y="2132.4" width="11.6" height="7.6" fill="#89a3a8"/>
<rect x="1433.9" y="2132.4" width="6.0" height="7.6" fill="#859fa5"/>
<rect x="1439.4" y="2132.4" width="6.0" height="7.6" fill="#829ca1"/>
<rect x="1444.9" y="2132.4" width="6.0" height="7.6" fill="#8a7690"/>
<rect x="1450.5" y="2132.4" width="39.3" height="7.6" fill="#86728c"/>
<rect x="1489.3" y="2132.4" width="11.6" height="7.6" fill="#8a7690"/>
<rect x="1500.3" y="2132.4" width="6.0" height="7.6" fill="#8d7993"/>
<rect x="1505.9" y="2132.4" width="6.0" height="7.6" fill="#859fa5"/>
<rect x="1511.4" y="2132.4" width="6.0" height="7.6" fill="#89a3a8"/>
<rect x="1516.9" y="2132.4" width="6.0" height="7.6" fill="#8da7ac"/>
<rect x="1522.5" y="2132.4" width="11.6" height="7.6" fill="#90aaaf"/>
<rect x="1533.6" y="2132.4" width="6.0" height="7.6" fill="#94aeb3"/>
<rect x="1539.1" y="2132.4" width="11.6" height="7.6" fill="#97b1b6"/>
<rect x="1550.2" y="2132.4" width="6.0" height="7.6" fill="#9bb5ba"/>
<rect x="1555.7" y="2132.4" width="11.6" height="7.6" fill="#9eb8be"/>
<rect x="1566.8" y="2132.4" width="11.6" height="7.6" fill="#a2bcc1"/>
<rect x="1577.9" y="2132.4" width="22.7" height="7.6" fill="#ae9ab4"/>
<rect x="1600.0" y="2132.4" width="78.0" height="7.6" fill="#b19db7"/>
<rect x="1677.6" y="2132.4" width="44.8" height="7.6" fill="#fbddc8"/>
<rect x="1372.9" y="2139.4" width="11.6" height="7.6" fill="#9eb8be"/>
<rect x="1384.0" y="2139.4" width="11.6" height="7.6" fill="#9bb5ba"/>
<rect x="1395.1" y="2139.4" width="6.0" height="7.6" fill="#97b1b6"/>
<rect x="1400.6" y="2139.4" width="6.0" height="7.6" fill="#94aeb3"/>
<rect x="1406.2" y="2139.4" width="6.0" height="7.6" fill="#90aaaf"/>
<rect x="1411.7" y="2139.4" width="11.6" height="7.6" fill="#8da7ac"/>
<rect x="1422.8" y="2139.4" width="6.0" height="7.6" fill="#89a3a8"/>
<rect x="1428.3" y="2139.4" width="6.0" height="7.6" fill="#859fa5"/>
<rect x="1433.9" y="2139.4" width="11.6" height="7.6" fill="#829ca1"/>
<rect x="1444.9" y="2139.4" width="11.6" height="7.6" fill="#7e989d"/>
<rect x="1456.0" y="2139.4" width="33.7" height="7.6" fill="#836f89"/>
<rect x="1489.3" y="2139.4" width="11.6" height="7.6" fill="#7e989d"/>
<rect x="1500.3" y="2139.4" width="11.6" height="7.6" fill="#829ca1"/>
<rect x="1511.4" y="2139.4" width="6.0" height="7.6" fill="#859fa5"/>
<rect x="1516.9" y="2139.4" width="6.0" height="7.6" fill="#89a3a8"/>
<rect x="1522.5" y="2139.4" width="11.6" height="7.6" fill="#8da7ac"/>
<rect x="1533.6" y="2139.4" width="6.0" height="7.6" fill="#90aaaf"/>
<rect x="1539.1" y="2139.4" width="6.0" height="7.6" fill="#94aeb3"/>
<rect x="1544.6" y="2139.4" width="11.6" height="7.6" fill="#97b1b6"/>
<rect x="1555.7" y="2139.4" width="6.0" height="7.6" fill="#9bb5ba"/>
<rect x="1561.3" y="2139.4" width="6.0" height="7.6" fill="#9eb8be"/>
<rect x="1566.8" y="2139.4" width="6.0" height="7.6" fill="#a692ac"/>
<rect x="1572.3" y="2139.4" width="17.1" height="7.6" fill="#aa96b0"/>
<rect x="1589.0" y="2139.4" width="50.4" height="7.6" fill="#ae9ab4"/>
<rect x="1638.8" y="2139.4" width="72.5" height="7.6" fill="#aa96b0"/>
<rect x="1710.8" y="2139.4" width="17.1" height="7.6" fill="#fbddc8"/>
<rect x="1378.5" y="2146.5" width="6.0" height="7.6" fill="#9eb8be"/>
<rect x="1384.0" y="2146.5" width="6.0" height="7.6" fill="#9bb5ba"/>
<rect x="1389.5" y="2146.5" width="11.6" height="7.6" fill="#97b1b6"/>
<rect x="1400.6" y="2146.5" width="6.0" height="7.6" fill="#94aeb3"/>
<rect x="1406.2" y="2146.5" width="6.0" height="7.6" fill="#90aaaf"/>
<rect x="1411.7" y="2146.5" width="6.0" height="7.6" fill="#8da7ac"/>
<rect x="1417.2" y="2146.5" width="11.6" height="7.6" fill="#89a3a8"/>
<rect x="1428.3" y="2146.5" width="6.0" height="7.6" fill="#859fa5"/>
<rect x="1433.9" y="2146.5" width="6.0" height="7.6" fill="#829ca1"/>
<rect x="1439.4" y="2146.5" width="11.6" height="7.6" fill="#7e989d"/>
<rect x="1450.5" y="2146.5" width="11.6" height="7.6" fill="#7b959a"/>
<rect x="1461.6" y="2146.5" width="28.2" height="7.6" fill="#779196"/>
<rect x="1489.3" y="2146.5" width="11.6" height="7.6" fill="#7b959a"/>
<rect x="1500.3" y="2146.5" width="11.6" height="7.6" fill="#7e989d"/>
<rect x="1511.4" y="2146.5" width="6.0" height="7.6" fill="#829ca1"/>
<rect x="1516.9" y="2146.5" width="11.6" height="7.6" fill="#859fa5"/>
<rect x="1528.0" y="2146.5" width="6.0" height="7.6" fill="#89a3a8"/>
<rect x="1533.6" y="2146.5" width="6.0" height="7.6" fill="#8da7ac"/>
<rect x="1539.1" y="2146.5" width="6.0" height="7.6" fill="#90aaaf"/>
<rect x="1544.6" y="2146.5" width="11.6" height="7.6" fill="#94aeb3"/>
<rect x="1555.7" y="2146.5" width="6.0" height="7.6" fill="#97b1b6"/>
<rect x="1561.3" y="2146.5" width="11.6" height="7.6" fill="#a38fa9"/>
<rect x="1572.3" y="2146.5" width="50.4" height="7.6" fill="#a692ac"/>
<rect x="1622.2" y="2146.5" width="11.6" height="7.6" fill="#a38fa9"/>
<rect x="1633.3" y="2146.5" width="17.1" height="7.6" fill="#9f8ba5"/>
<rect x="1649.9" y="2146.5" width="11.6" height="7.6" fill="#9c88a2"/>
<rect x="1661.0" y="2146.5" width="33.7" height="7.6" fill="#98849e"/>
<rect x="1694.2" y="2146.5" width="11.6" height="7.6" fill="#9c88a2"/>
<rect x="1705.3" y="2146.5" width="11.6" height="7.6" fill="#9f8ba5"/>
<rect x="1716.4" y="2146.5" width="17.1" height="7.6" fill="#fbddc8"/>
<rect x="1378.5" y="2153.6" width="6.0" height="7.6" fill="#9eb8be"/>
<rect x="1384.0" y="2153.6" width="6.0" height="7.6" fill="#9bb5ba"/>
<rect x="1389.5" y="2153.6" width="11.6" height="7.6" fill="#97b1b6"/>
<rect x="1400.6" y="2153.6" width="6.0" height="7.6" fill="#94aeb3"/>
<rect x="1406.2" y="2153.6" width="6.0" height="7.6" fill="#90aaaf"/>
<rect x="1411.7" y="2153.6" width="6.0" height="7.6" fill="#8da7ac"/>
<rect x="1417.2" y="2153.6" width="6.0" height="7.6" fill="#89a3a8"/>
<rect x="1422.8" y="2153.6" width="6.0" height="7.6" fill="#859fa5"/>
<rect x="1428.3" y="2153.6" width="11.6" height="7.6" fill="#829ca1"/>
<rect x="1439.4" y="2153.6" width="6.0" height="7.6" fill="#7e989d"/>
<rect x="1444.9" y="2153.6" width="6.0" height="7.6" fill="#7b959a"/>
<rect x="1450.5" y="2153.6" width="11.6" height="7.6" fill="#779196"/>
<rect x="1461.6" y="2153.6" width="33.7" height="7.6" fill="#748e93"/>
<rect x="1494.8" y="2153.6" width="11.6" height="7.6" fill="#779196"/>
<rect x="1505.9" y="2153.6" width="11.6" height="7.6" fill="#7b959a"/>
<rect x="1516.9" y="2153.6" width="6.0" height="7.6" fill="#7e989d"/>
<rect x="1522.5" y="2153.6" width="11.6" height="7.6" fill="#829ca1"/>
<rect x="1533.6" y="2153.6" width="6.0" height="7.6" fill="#859fa5"/>
<rect x="1539.1" y="2153.6" width="6.0" height="7.6" fill="#89a3a8"/>
<rect x="1544.6" y="2153.6" width="11.6" height="7.6" fill="#8da7ac"/>
<rect x="1555.7" y="2153.6" width="6.0" height="7.6" fill="#90aaaf"/>
<rect x="1561.3" y="2153.6" width="17.1" height="7.6" fill="#9c88a2"/>
<rect x="1577.9" y="2153.6" width="22.7" height="7.6" fill="#9f8ba5"/>
<rect x="1600.0" y="2153.6" width="11.6" height="7.6" fill="#9c88a2"/>
<rect x="1611.1" y="2153.6" width="6.0" height="7.6" fill="#98849e"/>
<rect x="1616.6" y="2153.6" width="6.0" height="7.6" fill="#95819b"/>
<rect x="1622.2" y="2153.6" width="6.0" height="7.6" fill="#917d97"/>
<rect x="1627.7" y="2153.6" width="6.0" height="7.6" fill="#8d7993"/>
<rect x="1633.3" y="2153.6" width="6.0" height="7.6" fill="#8a7690"/>
<rect x="1638.8" y="2153.6" width="6.0" height="7.6" fill="#86728c"/>
<rect x="1644.3" y="2153.6" width="11.6" height="7.6" fill="#836f89"/>
<rect x="1655.4" y="2153.6" width="11.6" height="7.6" fill="#7f6b85"/>
<rect x="1666.5" y="2153.6" width="17.1" height="7.6" fill="#7c6882"/>
<rect x="1683.1" y="2153.6" width="6.0" height="7.6" fill="#7f6b85"/>
<rect x="1688.7" y="2153.6" width="11.6" height="7.6" fill="#836f89"/>
<rect x="1699.7" y="2153.6" width="6.0" height="7.6" fill="#86728c"/>
<rect x="1705.3" y="2153.6" width="6.0" height="7.6" fill="#8a7690"/>
<rect x="1710.8" y="2153.6" width="6.0" height="7.6" fill="#917d97"/>
<rect x="1716.4" y="2153.6" width="6.0" height="7.6" fill="#95819b"/>
<rect x="1721.9" y="2153.6" width="11.6" height="7.6" fill="#fbddc8"/>
<rect x="1384.0" y="2160.6" width="11.6" height="7.6" fill="#9bb5ba"/>
<rect x="1395.1" y="2160.6" width="6.0" height="7.6" fill="#97b1b6"/>
<rect x="1400.6" y="2160.6" width="6.0" height="7.6" fill="#94aeb3"/>
<rect x="1406.2" y="2160.6" width="6.0" height="7.6" fill="#98849e"/>
<rect x="1411.7" y="2160.6" width="6.0" height="7.6" fill="#95819b"/>
<rect x="1417.2" y="2160.6" width="6.0" height="7.6" fill="#89a3a8"/>
<rect x="1422.8" y="2160.6" width="6.0" height="7.6" fill="#859fa5"/>
<rect x="1428.3" y="2160.6" width="6.0" height="7.6" fill="#829ca1"/>
<rect x="1433.9" y="2160.6" width="6.0" height="7.6" fill="#7e989d"/>
<rect x="1439.4" y="2160.6" width="6.0" height="7.6" fill="#7b959a"/>
<rect x="1444.9" y="2160.6" width="11.6" height="7.6" fill="#779196"/>
<rect x="1456.0" y="2160.6" width="6.0" height="7.6" fill="#748e93"/>
<rect x="1461.6" y="2160.6" width="11.6" height="7.6" fill="#708a8f"/>
<rect x="1472.6" y="2160.6" width="33.7" height="7.6" fill="#6c868c"/>
<rect x="1505.9" y="2160.6" width="11.6" height="7.6" fill="#708a8f"/>
<rect x="1516.9" y="2160.6" width="6.0" height="7.6" fill="#748e93"/>
<rect x="1522.5" y="2160.6" width="11.6" height="7.6" fill="#779196"/>
<rect x="1533.6" y="2160.6" width="6.0" height="7.6" fill="#7b959a"/>
<rect x="1539.1" y="2160.6" width="6.0" height="7.6" fill="#7e989d"/>
<rect x="1544.6" y="2160.6" width="11.6" height="7.6" fill="#829ca1"/>
<rect x="1555.7" y="2160.6" width="11.6" height="7.6" fill="#859fa5"/>
<rect x="1566.8" y="2160.6" width="6.0" height="7.6" fill="#89a3a8"/>
<rect x="1572.3" y="2160.6" width="17.1" height="7.6" fill="#917d97"/>
<rect x="1589.0" y="2160.6" width="11.6" height="7.6" fill="#8d7993"/>
<rect x="1600.0" y="2160.6" width="6.0" height="7.6" fill="#8a7690"/>
<rect x="1605.6" y="2160.6" width="6.0" height="7.6" fill="#86728c"/>
<rect x="1611.1" y="2160.6" width="6.0" height="7.6" fill="#836f89"/>
<rect x="1616.6" y="2160.6" width="6.0" height="7.6" fill="#7c6882"/>
<rect x="1622.2" y="2160.6" width="6.0" height="7.6" fill="#74607a"/>
<rect x="1627.7" y="2160.6" width="6.0" height="7.6" fill="#715d77"/>
<rect x="1633.3" y="2160.6" width="6.0" height="7.6" fill="#6a5670"/>
<rect x="1638.8" y="2160.6" width="6.0" height="7.6" fill="#66526c"/>
<rect x="1644.3" y="2160.6" width="6.0" height="7.6" fill="#5f4b65"/>
<rect x="1649.9" y="2160.6" width="6.0" height="7.6" fill="#5b4761"/>
<rect x="1655.4" y="2160.6" width="22.7" height="7.6" fill="#58445e"/>
<rect x="1677.6" y="2160.6" width="6.0" height="7.6" fill="#5b4761"/>
<rect x="1683.1" y="2160.6" width="6.0" height="7.6" fill="#5f4b65"/>
<rect x="1688.7" y="2160.6" width="6.0" height="7.6" fill="#634f69"/>
<rect x="1694.2" y="2160.6" width="6.0" height="7.6" fill="#6a5670"/>
<rect x="1699.7" y="2160.6" width="6.0" height="7.6" fill="#715d77"/>
<rect x="1705.3" y="2160.6" width="6.0" height="7.6" fill="#74607a"/>
<rect x="1710.8" y="2160.6" width="6.0" height="7.6" fill="#7c6882"/>
<rect x="1716.4" y="2160.6" width="6.0" height="7.6" fill="#836f89"/>
<rect x="1721.9" y="2160.6" width="6.0" height="7.6" fill="#8a7690"/>
<rect x="1727.4" y="2160.6" width="6.0" height="7.6" fill="#fbddc8"/>
<rect x="1389.5" y="2167.7" width="6.0" height="7.6" fill="#a38fa9"/>
<rect x="1395.1" y="2167.7" width="6.0" height="7.6" fill="#9f8ba5"/>
<rect x="1400.6" y="2167.7" width="6.0" height="7.6" fill="#9c88a2"/>
<rect x="1406.2" y="2167.7" width="6.0" height="7.6" fill="#98849e"/>
<rect x="1411.7" y="2167.7" width="6.0" height="7.6" fill="#95819b"/>
<rect x="1417.2" y="2167.7" width="6.0" height="7.6" fill="#917d97"/>
<rect x="1422.8" y="2167.7" width="6.0" height="7.6" fill="#8d7993"/>
<rect x="1428.3" y="2167.7" width="6.0" height="7.6" fill="#829ca1"/>
<rect x="1433.9" y="2167.7" width="6.0" height="7.6" fill="#7e989d"/>
<rect x="1439.4" y="2167.7" width="6.0" height="7.6" fill="#7b959a"/>
<rect x="1444.9" y="2167.7" width="6.0" height="7.6" fill="#779196"/>
<rect x="1450.5" y="2167.7" width="6.0" height="7.6" fill="#748e93"/>
<rect x="1456.0" y="2167.7" width="6.0" height="7.6" fill="#708a8f"/>
<rect x="1461.6" y="2167.7" width="6.0" height="7.6" fill="#6c868c"/>
<rect x="1467.1" y="2167.7" width="6.0" height="7.6" fill="#698388"/>
<rect x="1472.6" y="2167.7" width="11.6" height="7.6" fill="#657f84"/>
<rect x="1483.7" y="2167.7" width="33.7" height="7.6" fill="#627c81"/>
<rect x="1516.9" y="2167.7" width="11.6" height="7.6" fill="#657f84"/>
<rect x="1528.0" y="2167.7" width="11.6" height="7.6" fill="#698388"/>
<rect x="1539.1" y="2167.7" width="6.0" height="7.6" fill="#6c868c"/>
<rect x="1544.6" y="2167.7" width="6.0" height="7.6" fill="#708a8f"/>
<rect x="1550.2" y="2167.7" width="11.6" height="7.6" fill="#748e93"/>
<rect x="1561.3" y="2167.7" width="17.1" height="7.6" fill="#779196"/>
<rect x="1577.9" y="2167.7" width="6.0" height="7.6" fill="#7f6b85"/>
<rect x="1583.4" y="2167.7" width="11.6" height="7.6" fill="#7c6882"/>
<rect x="1594.5" y="2167.7" width="6.0" height="7.6" fill="#78647e"/>
<rect x="1600.0" y="2167.7" width="6.0" height="7.6" fill="#715d77"/>
<rect x="1605.6" y="2167.7" width="6.0" height="7.6" fill="#6d5973"/>
<rect x="1611.1" y="2167.7" width="6.0" height="7.6" fill="#66526c"/>
<rect x="1616.6" y="2167.7" width="6.0" height="7.6" fill="#5f4b65"/>
<rect x="1622.2" y="2167.7" width="6.0" height="7.6" fill="#58445e"/>
<rect x="1627.7" y="2167.7" width="6.0" height="7.6" fill="#513d57"/>
<rect x="1633.3" y="2167.7" width="6.0" height="7.6" fill="#4a3650"/>
<rect x="1638.8" y="2167.7" width="6.0" height="7.6" fill="#422e48"/>
<rect x="1644.3" y="2167.7" width="6.0" height="7.6" fill="#3b2741"/>
<rect x="1649.9" y="2167.7" width="22.7" height="7.6" fill="#38243e"/>
<rect x="1672.0" y="2167.7" width="6.0" height="7.6" fill="#3b2741"/>
<rect x="1677.6" y="2167.7" width="6.0" height="7.6" fill="#3f2b45"/>
<rect x="1683.1" y="2167.7" width="6.0" height="7.6" fill="#46324c"/>
<rect x="1688.7" y="2167.7" width="6.0" height="7.6" fill="#4d3953"/>
<rect x="1694.2" y="2167.7" width="6.0" height="7.6" fill="#54405a"/>
<rect x="1699.7" y="2167.7" width="6.0" height="7.6" fill="#5f4b65"/>
<rect x="1705.3" y="2167.7" width="6.0" height="7.6" fill="#6a5670"/>
<rect x="1710.8" y="2167.7" width="6.0" height="7.6" fill="#715d77"/>
<rect x="1716.4" y="2167.7" width="6.0" height="7.6" fill="#7c6882"/>
<rect x="1721.9" y="2167.7" width="6.0" height="7.6" fill="#836f89"/>
<rect x="1727.4" y="2167.7" width="6.0" height="7.6" fill="#fbddc8"/>
<rect x="1389.5" y="2174.8" width="6.0" height="7.6" fill="#a38fa9"/>
<rect x="1395.1" y="2174.8" width="6.0" height="7.6" fill="#9f8ba5"/>
<rect x="1400.6" y="2174.8" width="6.0" height="7.6" fill="#9c88a2"/>
<rect x="1406.2" y="2174.8" width="6.0" height="7.6" fill="#98849e"/>
<rect x="1411.7" y="2174.8" width="6.0" height="7.6" fill="#95819b"/>
<rect x="1417.2" y="2174.8" width="6.0" height="7.6" fill="#917d97"/>
<rect x="1422.8" y="2174.8" width="6.0" height="7.6" fill="#8d7993"/>
<rect x="1428.3" y="2174.8" width="6.0" height="7.6" fill="#7e989d"/>
<rect x="1433.9" y="2174.8" width="6.0" height="7.6" fill="#7b959a"/>
<rect x="1439.4" y="2174.8" width="6.0" height="7.6" fill="#779196"/>
<rect x="1444.9" y="2174.8" width="6.0" height="7.6" fill="#708a8f"/>
<rect x="1450.5" y="2174.8" width="6.0" height="7.6" fill="#6c868c"/>
<rect x="1456.0" y="2174.8" width="6.0" height="7.6" fill="#698388"/>
<rect x="1461.6" y="2174.8" width="6.0" height="7.6" fill="#627c81"/>
<rect x="1467.1" y="2174.8" width="6.0" height="7.6" fill="#5e787d"/>
<rect x="1472.6" y="2174.8" width="6.0" height="7.6" fill="#5b757a"/>
<rect x="1478.2" y="2174.8" width="6.0" height="7.6" fill="#577176"/>
<rect x="1483.7" y="2174.8" width="11.6" height="7.6" fill="#536e73"/>
<rect x="1494.8" y="2174.8" width="33.7" height="7.6" fill="#506a6f"/>
<rect x="1528.0" y="2174.8" width="11.6" height="7.6" fill="#536e73"/>
<rect x="1539.1" y="2174.8" width="6.0" height="7.6" fill="#577176"/>
<rect x="1544.6" y="2174.8" width="11.6" height="7.6" fill="#5b757a"/>
<rect x="1555.7" y="2174.8" width="11.6" height="7.6" fill="#5e787d"/>
<rect x="1566.8" y="2174.8" width="17.1" height="7.6" fill="#627c81"/>
<rect x="1583.4" y="2174.8" width="6.0" height="7.6" fill="#5e787d"/>
<rect x="1589.0" y="2174.8" width="6.0" height="7.6" fill="#66526c"/>
<rect x="1594.5" y="2174.8" width="6.0" height="7.6" fill="#5f4b65"/>
<rect x="1600.0" y="2174.8" width="6.0" height="7.6" fill="#5b4761"/>
<rect x="1605.6" y="2174.8" width="6.0" height="7.6" fill="#54405a"/>
<rect x="1611.1" y="2174.8" width="6.0" height="7.6" fill="#513d57"/>
<rect x="1616.6" y="2174.8" width="6.0" height="7.6" fill="#4a3650"/>
<rect x="1622.2" y="2174.8" width="6.0" height="7.6" fill="#422e48"/>
<rect x="1627.7" y="2174.8" width="6.0" height="7.6" fill="#3b2741"/>
<rect x="1633.3" y="2174.8" width="6.0" height="7.6" fill="#34203a"/>
<rect x="1638.8" y="2174.8" width="6.0" height="7.6" fill="#2d1933"/>
<rect x="1644.3" y="2174.8" width="11.6" height="7.6" fill="#29152f"/>
<rect x="1655.4" y="2174.8" width="6.0" height="7.6" fill="#26122c"/>
<rect x="1661.0" y="2174.8" width="6.0" height="7.6" fill="#29152f"/>
<rect x="1666.5" y="2174.8" width="6.0" height="7.6" fill="#2d1933"/>
<rect x="1672.0" y="2174.8" width="6.0" height="7.6" fill="#311d37"/>
<rect x="1677.6" y="2174.8" width="6.0" height="7.6" fill="#38243e"/>
<rect x="1683.1" y="2174.8" width="6.0" height="7.6" fill="#422e48"/>
<rect x="1688.7" y="2174.8" width="6.0" height="7.6" fill="#4a3650"/>
<rect x="1694.2" y="2174.8" width="6.0" height="7.6" fill="#54405a"/>
<rect x="1699.7" y="2174.8" width="6.0" height="7.6" fill="#5f4b65"/>
<rect x="1705.3" y="2174.8" width="6.0" height="7.6" fill="#6a5670"/>
<rect x="1710.8" y="2174.8" width="6.0" height="7.6" fill="#74607a"/>
<rect x="1716.4" y="2174.8" width="6.0" height="7.6" fill="#7c6882"/>
<rect x="1721.9" y="2174.8" width="6.0" height="7.6" fill="#86728c"/>
<rect x="1727.4" y="2174.8" width="6.0" height="7.6" fill="#fbddc8"/>
<rect x="1400.6" y="2181.8" width="6.0" height="7.6" fill="#94aeb3"/>
<rect x="1406.2" y="2181.8" width="6.0" height="7.6" fill="#90aaaf"/>
<rect x="1411.7" y="2181.8" width="6.0" height="7.6" fill="#8da7ac"/>
<rect x="1417.2" y="2181.8" width="6.0" height="7.6" fill="#89a3a8"/>
<rect x="1422.8" y="2181.8" width="6.0" height="7.6" fill="#829ca1"/>
<rect x="1428.3" y="2181.8" width="6.0" height="7.6" fill="#7e989d"/>
<rect x="1433.9" y="2181.8" width="6.0" height="7.6" fill="#779196"/>
<rect x="1439.4" y="2181.8" width="6.0" height="7.6" fill="#748e93"/>
<rect x="1444.9" y="2181.8" width="6.0" height="7.6" fill="#6c868c"/>
<rect x="1450.5" y="2181.8" width="6.0" height="7.6" fill="#657f84"/>
<rect x="1456.0" y="2181.8" width="6.0" height="7.6" fill="#5e787d"/>
<rect x="1461.6" y="2181.8" width="6.0" height="7.6" fill="#5b757a"/>
<rect x="1467.1" y="2181.8" width="6.0" height="7.6" fill="#536e73"/>
<rect x="1472.6" y="2181.8" width="6.0" height="7.6" fill="#506a6f"/>
<rect x="1478.2" y="2181.8" width="6.0" height="7.6" fill="#496368"/>
<rect x="1483.7" y="2181.8" width="6.0" height="7.6" fill="#455f64"/>
<rect x="1489.3" y="2181.8" width="6.0" height="7.6" fill="#425c61"/>
<rect x="1494.8" y="2181.8" width="6.0" height="7.6" fill="#3e585d"/>
<rect x="1500.3" y="2181.8" width="6.0" height="7.6" fill="#3a555a"/>
<rect x="1505.9" y="2181.8" width="22.7" height="7.6" fill="#375156"/>
<rect x="1528.0" y="2181.8" width="11.6" height="7.6" fill="#3a555a"/>
<rect x="1539.1" y="2181.8" width="6.0" height="7.6" fill="#3e585d"/>
<rect x="1544.6" y="2181.8" width="11.6" height="7.6" fill="#425c61"/>
<rect x="1555.7" y="2181.8" width="6.0" height="7.6" fill="#455f64"/>
<rect x="1561.3" y="2181.8" width="6.0" height="7.6" fill="#496368"/>
<rect x="1566.8" y="2181.8" width="28.2" height="7.6" fill="#4c666b"/>
<rect x="1594.5" y="2181.8" width="6.0" height="7.6" fill="#496368"/>
<rect x="1600.0" y="2181.8" width="6.0" height="7.6" fill="#4d3953"/>
<rect x="1605.6" y="2181.8" width="6.0" height="7.6" fill="#4a3650"/>
<rect x="1611.1" y="2181.8" width="6.0" height="7.6" fill="#46324c"/>
<rect x="1616.6" y="2181.8" width="6.0" height="7.6" fill="#422e48"/>
<rect x="1622.2" y="2181.8" width="6.0" height="7.6" fill="#3f2b45"/>
<rect x="1627.7" y="2181.8" width="6.0" height="7.6" fill="#38243e"/>
<rect x="1633.3" y="2181.8" width="11.6" height="7.6" fill="#34203a"/>
<rect x="1644.3" y="2181.8" width="11.6" height="7.6" fill="#311d37"/>
<rect x="1655.4" y="2181.8" width="6.0" height="7.6" fill="#34203a"/>
<rect x="1661.0" y="2181.8" width="6.0" height="7.6" fill="#38243e"/>
<rect x="1666.5" y="2181.8" width="6.0" height="7.6" fill="#3b2741"/>
<rect x="1672.0" y="2181.8" width="6.0" height="7.6" fill="#422e48"/>
<rect x="1677.6" y="2181.8" width="6.0" height="7.6" fill="#4a3650"/>
<rect x="1683.1" y="2181.8" width="6.0" height="7.6" fill="#54405a"/>
<rect x="1688.7" y="2181.8" width="6.0" height="7.6" fill="#5b4761"/>
<rect x="1694.2" y="2181.8" width="6.0" height="7.6" fill="#66526c"/>
<rect x="1699.7" y="2181.8" width="6.0" height="7.6" fill="#715d77"/>
<rect x="1705.3" y="2181.8" width="6.0" height="7.6" fill="#78647e"/>
<rect x="1710.8" y="2181.8" width="6.0" height="7.6" fill="#836f89"/>
<rect x="1716.4" y="2181.8" width="6.0" height="7.6" fill="#8a7690"/>
<rect x="1721.9" y="2181.8" width="11.6" height="7.6" fill="#fbddc8"/>
<rect x="1400.6" y="2188.9" width="6.0" height="7.6" fill="#94aeb3"/>
<rect x="1406.2" y="2188.9" width="6.0" height="7.6" fill="#90aaaf"/>
<rect x="1411.7" y="2188.9" width="6.0" height="7.6" fill="#8da7ac"/>
<rect x="1417.2" y="2188.9" width="6.0" height="7.6" fill="#859fa5"/>
<rect x="1422.8" y="2188.9" width="6.0" height="7.6" fill="#829ca1"/>
<rect x="1428.3" y="2188.9" width="6.0" height="7.6" fill="#7b959a"/>
<rect x="1433.9" y="2188.9" width="6.0" height="7.6" fill="#748e93"/>
<rect x="1439.4" y="2188.9" width="6.0" height="7.6" fill="#6c868c"/>
<rect x="1444.9" y="2188.9" width="6.0" height="7.6" fill="#657f84"/>
<rect x="1450.5" y="2188.9" width="6.0" height="7.6" fill="#5e787d"/>
<rect x="1456.0" y="2188.9" width="6.0" height="7.6" fill="#577176"/>
<rect x="1461.6" y="2188.9" width="6.0" height="7.6" fill="#506a6f"/>
<rect x="1467.1" y="2188.9" width="6.0" height="7.6" fill="#496368"/>
<rect x="1472.6" y="2188.9" width="6.0" height="7.6" fill="#425c61"/>
<rect x="1478.2" y="2188.9" width="6.0" height="7.6" fill="#3a555a"/>
<rect x="1483.7" y="2188.9" width="6.0" height="7.6" fill="#334d52"/>
<rect x="1489.3" y="2188.9" width="6.0" height="7.6" fill="#304a4f"/>
<rect x="1494.8" y="2188.9" width="6.0" height="7.6" fill="#294348"/>
<rect x="1500.3" y="2188.9" width="6.0" height="7.6" fill="#253f44"/>
<rect x="1505.9" y="2188.9" width="11.6" height="7.6" fill="#213c41"/>
<rect x="1516.9" y="2188.9" width="17.1" height="7.6" fill="#1e383d"/>
<rect x="1533.6" y="2188.9" width="6.0" height="7.6" fill="#213c41"/>
<rect x="1539.1" y="2188.9" width="6.0" height="7.6" fill="#253f44"/>
<rect x="1544.6" y="2188.9" width="6.0" height="7.6" fill="#294348"/>
<rect x="1550.2" y="2188.9" width="6.0" height="7.6" fill="#2c464b"/>
<rect x="1555.7" y="2188.9" width="6.0" height="7.6" fill="#304a4f"/>
<rect x="1561.3" y="2188.9" width="6.0" height="7.6" fill="#334d52"/>
<rect x="1566.8" y="2188.9" width="6.0" height="7.6" fill="#375156"/>
<rect x="1572.3" y="2188.9" width="6.0" height="7.6" fill="#3a555a"/>
<rect x="1577.9" y="2188.9" width="6.0" height="7.6" fill="#3e585d"/>
<rect x="1583.4" y="2188.9" width="17.1" height="7.6" fill="#425c61"/>
<rect x="1600.0" y="2188.9" width="17.1" height="7.6" fill="#455f64"/>
<rect x="1616.6" y="2188.9" width="28.2" height="7.6" fill="#4a3650"/>
<rect x="1644.3" y="2188.9" width="6.0" height="7.6" fill="#4d3953"/>
<rect x="1649.9" y="2188.9" width="6.0" height="7.6" fill="#496368"/>
<rect x="1655.4" y="2188.9" width="6.0" height="7.6" fill="#4c666b"/>
<rect x="1661.0" y="2188.9" width="6.0" height="7.6" fill="#506a6f"/>
<rect x="1666.5" y="2188.9" width="6.0" height="7.6" fill="#577176"/>
<rect x="1672.0" y="2188.9" width="6.0" height="7.6" fill="#5b757a"/>
<rect x="1677.6" y="2188.9" width="6.0" height="7.6" fill="#627c81"/>
<rect x="1683.1" y="2188.9" width="6.0" height="7.6" fill="#715d77"/>
<rect x="1688.7" y="2188.9" width="6.0" height="7.6" fill="#78647e"/>
<rect x="1694.2" y="2188.9" width="6.0" height="7.6" fill="#7f6b85"/>
<rect x="1699.7" y="2188.9" width="6.0" height="7.6" fill="#86728c"/>
<rect x="1705.3" y="2188.9" width="6.0" height="7.6" fill="#8d7993"/>
<rect x="1710.8" y="2188.9" width="6.0" height="7.6" fill="#95819b"/>
<rect x="1716.4" y="2188.9" width="6.0" height="7.6" fill="#98849e"/>
<rect x="1721.9" y="2188.9" width="6.0" height="7.6" fill="#fbddc8"/>
<rect x="1406.2" y="2195.9" width="6.0" height="7.6" fill="#90aaaf"/>
<rect x="1411.7" y="2195.9" width="6.0" height="7.6" fill="#8da7ac"/>
<rect x="1417.2" y="2195.9" width="6.0" height="7.6" fill="#859fa5"/>
<rect x="1422.8" y="2195.9" width="6.0" height="7.6" fill="#829ca1"/>
<rect x="1428.3" y="2195.9" width="6.0" height="7.6" fill="#7b959a"/>
<rect x="1433.9" y="2195.9" width="6.0" height="7.6" fill="#748e93"/>
<rect x="1439.4" y="2195.9" width="6.0" height="7.6" fill="#6c868c"/>
<rect x="1444.9" y="2195.9" width="6.0" height="7.6" fill="#627c81"/>
<rect x="1450.5" y="2195.9" width="6.0" height="7.6" fill="#5b757a"/>
<rect x="1456.0" y="2195.9" width="6.0" height="7.6" fill="#536e73"/>
<rect x="1461.6" y="2195.9" width="6.0" height="7.6" fill="#496368"/>
<rect x="1467.1" y="2195.9" width="6.0" height="7.6" fill="#425c61"/>
<rect x="1472.6" y="2195.9" width="6.0" height="7.6" fill="#375156"/>
<rect x="1478.2" y="2195.9" width="6.0" height="7.6" fill="#304a4f"/>
<rect x="1483.7" y="2195.9" width="6.0" height="7.6" fill="#294348"/>
<rect x="1489.3" y="2195.9" width="6.0" height="7.6" fill="#213c41"/>
<rect x="1494.8" y="2195.9" width="6.0" height="7.6" fill="#1a3439"/>
<rect x="1500.3" y="2195.9" width="6.0" height="7.6" fill="#132d32"/>
<rect x="1505.9" y="2195.9" width="6.0" height="7.6" fill="#102a2f"/>
<rect x="1511.4" y="2195.9" width="28.2" height="7.6" fill="#0c262b"/>
<rect x="1539.1" y="2195.9" width="6.0" height="7.6" fill="#102a2f"/>
<rect x="1544.6" y="2195.9" width="6.0" height="7.6" fill="#132d32"/>
<rect x="1550.2" y="2195.9" width="6.0" height="7.6" fill="#173136"/>
<rect x="1555.7" y="2195.9" width="6.0" height="7.6" fill="#1e383d"/>
<rect x="1561.3" y="2195.9" width="6.0" height="7.6" fill="#213c41"/>
<rect x="1566.8" y="2195.9" width="6.0" height="7.6" fill="#294348"/>
<rect x="1572.3" y="2195.9" width="6.0" height="7.6" fill="#304a4f"/>
<rect x="1577.9" y="2195.9" width="6.0" height="7.6" fill="#334d52"/>
<rect x="1583.4" y="2195.9" width="6.0" height="7.6" fill="#3a555a"/>
<rect x="1589.0" y="2195.9" width="6.0" height="7.6" fill="#3e585d"/>
<rect x="1594.5" y="2195.9" width="6.0" height="7.6" fill="#425c61"/>
<rect x="1600.0" y="2195.9" width="6.0" height="7.6" fill="#496368"/>
<rect x="1605.6" y="2195.9" width="6.0" height="7.6" fill="#4c666b"/>
<rect x="1611.1" y="2195.9" width="6.0" height="7.6" fill="#506a6f"/>
<rect x="1616.6" y="2195.9" width="6.0" height="7.6" fill="#536e73"/>
<rect x="1622.2" y="2195.9" width="6.0" height="7.6" fill="#577176"/>
<rect x="1627.7" y="2195.9" width="6.0" height="7.6" fill="#634f69"/>
<rect x="1633.3" y="2195.9" width="6.0" height="7.6" fill="#5e787d"/>
<rect x="1638.8" y="2195.9" width="6.0" height="7.6" fill="#627c81"/>
<rect x="1644.3" y="2195.9" width="6.0" height="7.6" fill="#657f84"/>
<rect x="1649.9" y="2195.9" width="6.0" height="7.6" fill="#698388"/>
<rect x="1655.4" y="2195.9" width="6.0" height="7.6" fill="#6c868c"/>
<rect x="1661.0" y="2195.9" width="6.0" height="7.6" fill="#748e93"/>
<rect x="1666.5" y="2195.9" width="6.0" height="7.6" fill="#779196"/>
<rect x="1672.0" y="2195.9" width="6.0" height="7.6" fill="#7b959a"/>
<rect x="1677.6" y="2195.9" width="6.0" height="7.6" fill="#829ca1"/>
<rect x="1683.1" y="2195.9" width="6.0" height="7.6" fill="#859fa5"/>
<rect x="1688.7" y="2195.9" width="6.0" height="7.6" fill="#89a3a8"/>
<rect x="1694.2" y="2195.9" width="6.0" height="7.6" fill="#98849e"/>
<rect x="1699.7" y="2195.9" width="6.0" height="7.6" fill="#9c88a2"/>
<rect x="1705.3" y="2195.9" width="6.0" height="7.6" fill="#9f8ba5"/>
<rect x="1710.8" y="2195.9" width="6.0" height="7.6" fill="#a38fa9"/>
<rect x="1716.4" y="2195.9" width="6.0" height="7.6" fill="#a692ac"/>
<rect x="1411.7" y="2203.0" width="6.0" height="7.6" fill="#8da7ac"/>
<rect x="1417.2" y="2203.0" width="6.0" height="7.6" fill="#89a3a8"/>
<rect x="1422.8" y="2203.0" width="6.0" height="7.6" fill="#829ca1"/>
<rect x="1428.3" y="2203.0" width="6.0" height="7.6" fill="#7b959a"/>
<rect x="1433.9" y="2203.0" width="6.0" height="7.6" fill="#748e93"/>
<rect x="1439.4" y="2203.0" width="6.0" height="7.6" fill="#6c868c"/>
<rect x="1444.9" y="2203.0" width="6.0" height="7.6" fill="#627c81"/>
<rect x="1450.5" y="2203.0" width="6.0" height="7.6" fill="#5b757a"/>
<rect x="1456.0" y="2203.0" width="6.0" height="7.6" fill="#506a6f"/>
<rect x="1461.6" y="2203.0" width="6.0" height="7.6" fill="#455f64"/>
<rect x="1467.1" y="2203.0" width="6.0" height="7.6" fill="#3e585d"/>
<rect x="1472.6" y="2203.0" width="6.0" height="7.6" fill="#334d52"/>
<rect x="1478.2" y="2203.0" width="6.0" height="7.6" fill="#294348"/>
<rect x="1483.7" y="2203.0" width="6.0" height="7.6" fill="#213c41"/>
<rect x="1489.3" y="2203.0" width="6.0" height="7.6" fill="#1a3439"/>
<rect x="1494.8" y="2203.0" width="6.0" height="7.6" fill="#132d32"/>
<rect x="1500.3" y="2203.0" width="55.9" height="7.6" fill="#0c262b"/>
<rect x="1555.7" y="2203.0" width="6.0" height="7.6" fill="#132d32"/>
<rect x="1561.3" y="2203.0" width="6.0" height="7.6" fill="#1a3439"/>
<rect x="1566.8" y="2203.0" width="6.0" height="7.6" fill="#213c41"/>
<rect x="1572.3" y="2203.0" width="6.0" height="7.6" fill="#294348"/>
<rect x="1577.9" y="2203.0" width="6.0" height="7.6" fill="#304a4f"/>
<rect x="1583.4" y="2203.0" width="6.0" height="7.6" fill="#375156"/>
<rect x="1589.0" y="2203.0" width="6.0" height="7.6" fill="#3e585d"/>
<rect x="1594.5" y="2203.0" width="6.0" height="7.6" fill="#455f64"/>
<rect x="1600.0" y="2203.0" width="6.0" height="7.6" fill="#4c666b"/>
<rect x="1605.6" y="2203.0" width="6.0" height="7.6" fill="#536e73"/>
<rect x="1611.1" y="2203.0" width="6.0" height="7.6" fill="#5b757a"/>
<rect x="1616.6" y="2203.0" width="6.0" height="7.6" fill="#5e787d"/>
<rect x="1622.2" y="2203.0" width="6.0" height="7.6" fill="#657f84"/>
<rect x="1627.7" y="2203.0" width="6.0" height="7.6" fill="#6c868c"/>
<rect x="1633.3" y="2203.0" width="6.0" height="7.6" fill="#708a8f"/>
<rect x="1638.8" y="2203.0" width="6.0" height="7.6" fill="#779196"/>
<rect x="1644.3" y="2203.0" width="6.0" height="7.6" fill="#7b959a"/>
<rect x="1649.9" y="2203.0" width="6.0" height="7.6" fill="#829ca1"/>
<rect x="1655.4" y="2203.0" width="6.0" height="7.6" fill="#859fa5"/>
<rect x="1661.0" y="2203.0" width="6.0" height="7.6" fill="#89a3a8"/>
<rect x="1666.5" y="2203.0" width="6.0" height="7.6" fill="#8da7ac"/>
<rect x="1672.0" y="2203.0" width="6.0" height="7.6" fill="#90aaaf"/>
<rect x="1677.6" y="2203.0" width="6.0" height="7.6" fill="#94aeb3"/>
<rect x="1683.1" y="2203.0" width="6.0" height="7.6" fill="#97b1b6"/>
<rect x="1688.7" y="2203.0" width="6.0" height="7.6" fill="#9bb5ba"/>
<rect x="1694.2" y="2203.0" width="11.6" height="7.6" fill="#9eb8be"/>
<rect x="1705.3" y="2203.0" width="6.0" height="7.6" fill="#a2bcc1"/>
<rect x="1710.8" y="2203.0" width="11.6" height="7.6" fill="#a6c0c5"/>
<rect x="1417.2" y="2210.1" width="6.0" height="7.6" fill="#89a3a8"/>
<rect x="1422.8" y="2210.1" width="6.0" height="7.6" fill="#829ca1"/>
<rect x="1428.3" y="2210.1" width="6.0" height="7.6" fill="#7b959a"/>
<rect x="1433.9" y="2210.1" width="6.0" height="7.6" fill="#748e93"/>
<rect x="1439.4" y="2210.1" width="6.0" height="7.6" fill="#6c868c"/>
<rect x="1444.9" y="2210.1" width="6.0" height="7.6" fill="#657f84"/>
<rect x="1450.5" y="2210.1" width="6.0" height="7.6" fill="#5b757a"/>
<rect x="1456.0" y="2210.1" width="6.0" height="7.6" fill="#506a6f"/>
<rect x="1461.6" y="2210.1" width="6.0" height="7.6" fill="#496368"/>
<rect x="1467.1" y="2210.1" width="6.0" height="7.6" fill="#3e585d"/>
<rect x="1472.6" y="2210.1" width="6.0" height="7.6" fill="#334d52"/>
<rect x="1478.2" y="2210.1" width="6.0" height="7.6" fill="#2c464b"/>
<rect x="1483.7" y="2210.1" width="6.0" height="7.6" fill="#213c41"/>
<rect x="1489.3" y="2210.1" width="6.0" height="7.6" fill="#1a3439"/>
<rect x="1494.8" y="2210.1" width="6.0" height="7.6" fill="#102a2f"/>
<rect x="1500.3" y="2210.1" width="55.9" height="7.6" fill="#0c262b"/>
<rect x="1555.7" y="2210.1" width="6.0" height="7.6" fill="#102a2f"/>
<rect x="1561.3" y="2210.1" width="6.0" height="7.6" fill="#173136"/>
<rect x="1566.8" y="2210.1" width="6.0" height="7.6" fill="#1e383d"/>
<rect x="1572.3" y="2210.1" width="6.0" height="7.6" fill="#253f44"/>
<rect x="1577.9" y="2210.1" width="6.0" height="7.6" fill="#2c464b"/>
<rect x="1583.4" y="2210.1" width="6.0" height="7.6" fill="#375156"/>
<rect x="1589.0" y="2210.1" width="6.0" height="7.6" fill="#3e585d"/>
<rect x="1594.5" y="2210.1" width="6.0" height="7.6" fill="#455f64"/>
<rect x="1600.0" y="2210.1" width="6.0" height="7.6" fill="#4c666b"/>
<rect x="1605.6" y="2210.1" width="6.0" height="7.6" fill="#577176"/>
<rect x="1611.1" y="2210.1" width="6.0" height="7.6" fill="#5e787d"/>
<rect x="1616.6" y="2210.1" width="6.0" height="7.6" fill="#657f84"/>
<rect x="1622.2" y="2210.1" width="6.0" height="7.6" fill="#6c868c"/>
<rect x="1627.7" y="2210.1" width="6.0" height="7.6" fill="#748e93"/>
<rect x="1633.3" y="2210.1" width="6.0" height="7.6" fill="#7b959a"/>
<rect x="1638.8" y="2210.1" width="6.0" height="7.6" fill="#829ca1"/>
<rect x="1644.3" y="2210.1" width="6.0" height="7.6" fill="#859fa5"/>
<rect x="1649.9" y="2210.1" width="6.0" height="7.6" fill="#8da7ac"/>
<rect x="1655.4" y="2210.1" width="6.0" height="7.6" fill="#90aaaf"/>
<rect x="1661.0" y="2210.1" width="6.0" height="7.6" fill="#94aeb3"/>
<rect x="1666.5" y="2210.1" width="6.0" height="7.6" fill="#97b1b6"/>
<rect x="1672.0" y="2210.1" width="6.0" height="7.6" fill="#9bb5ba"/>
<rect x="1677.6" y="2210.1" width="6.0" height="7.6" fill="#9eb8be"/>
<rect x="1683.1" y="2210.1" width="11.6" height="7.6" fill="#a2bcc1"/>
<rect x="1694.2" y="2210.1" width="17.1" height="7.6" fill="#a6c0c5"/>
<rect x="1710.8" y="2210.1" width="11.6" height="7.6" fill="#a9c3c8"/>
<rect x="1422.8" y="2217.1" width="6.0" height="7.6" fill="#859fa5"/>
<rect x="1428.3" y="2217.1" width="6.0" height="7.6" fill="#7e989d"/>
<rect x="1433.9" y="2217.1" width="6.0" height="7.6" fill="#779196"/>
<rect x="1439.4" y="2217.1" width="6.0" height="7.6" fill="#6c868c"/>
<rect x="1444.9" y="2217.1" width="6.0" height="7.6" fill="#657f84"/>
<rect x="1450.5" y="2217.1" width="6.0" height="7.6" fill="#5e787d"/>
<rect x="1456.0" y="2217.1" width="6.0" height="7.6" fill="#536e73"/>
<rect x="1461.6" y="2217.1" width="6.0" height="7.6" fill="#496368"/>
<rect x="1467.1" y="2217.1" width="6.0" height="7.6" fill="#3e585d"/>
<rect x="1472.6" y="2217.1" width="6.0" height="7.6" fill="#375156"/>
<rect x="1478.2" y="2217.1" width="6.0" height="7.6" fill="#2c464b"/>
<rect x="1483.7" y="2217.1" width="6.0" height="7.6" fill="#253f44"/>
<rect x="1489.3" y="2217.1" width="6.0" height="7.6" fill="#1a3439"/>
<rect x="1494.8" y="2217.1" width="6.0" height="7.6" fill="#132d32"/>
<rect x="1500.3" y="2217.1" width="6.0" height="7.6" fill="#102a2f"/>
<rect x="1505.9" y="2217.1" width="50.4" height="7.6" fill="#0c262b"/>
<rect x="1555.7" y="2217.1" width="6.0" height="7.6" fill="#132d32"/>
<rect x="1561.3" y="2217.1" width="6.0" height="7.6" fill="#173136"/>
<rect x="1566.8" y="2217.1" width="6.0" height="7.6" fill="#1e383d"/>
<rect x="1572.3" y="2217.1" width="6.0" height="7.6" fill="#253f44"/>
<rect x="1577.9" y="2217.1" width="6.0" height="7.6" fill="#2c464b"/>
<rect x="1583.4" y="2217.1" width="6.0" height="7.6" fill="#375156"/>
<rect x="1589.0" y="2217.1" width="6.0" height="7.6" fill="#3e585d"/>
<rect x="1594.5" y="2217.1" width="6.0" height="7.6" fill="#455f64"/>
<rect x="1600.0" y="2217.1" width="6.0" height="7.6" fill="#506a6f"/>
<rect x="1605.6" y="2217.1" width="6.0" height="7.6" fill="#577176"/>
<rect x="1611.1" y="2217.1" width="6.0" height="7.6" fill="#5e787d"/>
<rect x="1616.6" y="2217.1" width="6.0" height="7.6" fill="#657f84"/>
<rect x="1622.2" y="2217.1" width="6.0" height="7.6" fill="#708a8f"/>
<rect x="1627.7" y="2217.1" width="6.0" height="7.6" fill="#779196"/>
<rect x="1633.3" y="2217.1" width="6.0" height="7.6" fill="#7e989d"/>
<rect x="1638.8" y="2217.1" width="6.0" height="7.6" fill="#829ca1"/>
<rect x="1644.3" y="2217.1" width="6.0" height="7.6" fill="#89a3a8"/>
<rect x="1649.9" y="2217.1" width="6.0" height="7.6" fill="#90aaaf"/>
<rect x="1655.4" y="2217.1" width="6.0" height="7.6" fill="#94aeb3"/>
<rect x="1661.0" y="2217.1" width="6.0" height="7.6" fill="#97b1b6"/>
<rect x="1666.5" y="2217.1" width="6.0" height="7.6" fill="#9bb5ba"/>
<rect x="1672.0" y="2217.1" width="6.0" height="7.6" fill="#9eb8be"/>
<rect x="1677.6" y="2217.1" width="11.6" height="7.6" fill="#a2bcc1"/>
<rect x="1688.7" y="2217.1" width="11.6" height="7.6" fill="#a6c0c5"/>
<rect x="1699.7" y="2217.1" width="22.7" height="7.6" fill="#a9c3c8"/>
<rect x="1428.3" y="2224.2" width="6.0" height="7.6" fill="#7b959a"/>
<rect x="1433.9" y="2224.2" width="6.0" height="7.6" fill="#748e93"/>
<rect x="1439.4" y="2224.2" width="6.0" height="7.6" fill="#6c868c"/>
<rect x="1444.9" y="2224.2" width="6.0" height="7.6" fill="#657f84"/>
<rect x="1450.5" y="2224.2" width="6.0" height="7.6" fill="#5b757a"/>
<rect x="1456.0" y="2224.2" width="6.0" height="7.6" fill="#536e73"/>
<rect x="1461.6" y="2224.2" width="6.0" height="7.6" fill="#496368"/>
<rect x="1467.1" y="2224.2" width="6.0" height="7.6" fill="#3e585d"/>
<rect x="1472.6" y="2224.2" width="6.0" height="7.6" fill="#375156"/>
<rect x="1478.2" y="2224.2" width="6.0" height="7.6" fill="#2c464b"/>
<rect x="1483.7" y="2224.2" width="6.0" height="7.6" fill="#253f44"/>
<rect x="1489.3" y="2224.2" width="6.0" height="7.6" fill="#1e383d"/>
<rect x="1494.8" y="2224.2" width="6.0" height="7.6" fill="#173136"/>
<rect x="1500.3" y="2224.2" width="6.0" height="7.6" fill="#102a2f"/>
<rect x="1505.9" y="2224.2" width="44.8" height="7.6" fill="#0c262b"/>
<rect x="1550.2" y="2224.2" width="6.0" height="7.6" fill="#132d32"/>
<rect x="1555.7" y="2224.2" width="6.0" height="7.6" fill="#173136"/>
<rect x="1561.3" y="2224.2" width="6.0" height="7.6" fill="#1e383d"/>
<rect x="1566.8" y="2224.2" width="6.0" height="7.6" fill="#213c41"/>
<rect x="1572.3" y="2224.2" width="6.0" height="7.6" fill="#294348"/>
<rect x="1577.9" y="2224.2" width="6.0" height="7.6" fill="#304a4f"/>
<rect x="1583.4" y="2224.2" width="6.0" height="7.6" fill="#375156"/>
<rect x="1589.0" y="2224.2" width="6.0" height="7.6" fill="#3e585d"/>
<rect x="1594.5" y="2224.2" width="6.0" height="7.6" fill="#455f64"/>
<rect x="1600.0" y="2224.2" width="6.0" height="7.6" fill="#506a6f"/>
<rect x="1605.6" y="2224.2" width="6.0" height="7.6" fill="#577176"/>
<rect x="1611.1" y="2224.2" width="6.0" height="7.6" fill="#5e787d"/>
<rect x="1616.6" y="2224.2" width="6.0" height="7.6" fill="#657f84"/>
<rect x="1622.2" y="2224.2" width="6.0" height="7.6" fill="#6c868c"/>
<rect x="1627.7" y="2224.2" width="6.0" height="7.6" fill="#748e93"/>
<rect x="1633.3" y="2224.2" width="6.0" height="7.6" fill="#7b959a"/>
<rect x="1638.8" y="2224.2" width="6.0" height="7.6" fill="#829ca1"/>
<rect x="1644.3" y="2224.2" width="6.0" height="7.6" fill="#89a3a8"/>
<rect x="1649.9" y="2224.2" width="6.0" height="7.6" fill="#8da7ac"/>
<rect x="1655.4" y="2224.2" width="6.0" height="7.6" fill="#94aeb3"/>
<rect x="1661.0" y="2224.2" width="6.0" height="7.6" fill="#97b1b6"/>
<rect x="1666.5" y="2224.2" width="6.0" height="7.6" fill="#9bb5ba"/>
<rect x="1672.0" y="2224.2" width="6.0" height="7.6" fill="#9eb8be"/>
<rect x="1677.6" y="2224.2" width="11.6" height="7.6" fill="#a2bcc1"/>
<rect x="1688.7" y="2224.2" width="11.6" height="7.6" fill="#a6c0c5"/>
<rect x="1699.7" y="2224.2" width="11.6" height="7.6" fill="#a9c3c8"/>
<rect x="1433.9" y="2231.3" width="6.0" height="7.6" fill="#779196"/>
<rect x="1439.4" y="2231.3" width="6.0" height="7.6" fill="#78647e"/>
<rect x="1444.9" y="2231.3" width="6.0" height="7.6" fill="#6d5973"/>
<rect x="1450.5" y="2231.3" width="6.0" height="7.6" fill="#66526c"/>
<rect x="1456.0" y="2231.3" width="6.0" height="7.6" fill="#5f4b65"/>
<rect x="1461.6" y="2231.3" width="6.0" height="7.6" fill="#54405a"/>
<rect x="1467.1" y="2231.3" width="6.0" height="7.6" fill="#4d3953"/>
<rect x="1472.6" y="2231.3" width="6.0" height="7.6" fill="#422e48"/>
<rect x="1478.2" y="2231.3" width="6.0" height="7.6" fill="#3b2741"/>
<rect x="1483.7" y="2231.3" width="6.0" height="7.6" fill="#34203a"/>
<rect x="1489.3" y="2231.3" width="6.0" height="7.6" fill="#2d1933"/>
<rect x="1494.8" y="2231.3" width="6.0" height="7.6" fill="#26122c"/>
<rect x="1500.3" y="2231.3" width="6.0" height="7.6" fill="#220e28"/>
<rect x="1505.9" y="2231.3" width="6.0" height="7.6" fill="#1f0b25"/>
<rect x="1511.4" y="2231.3" width="28.2" height="7.6" fill="#1b0721"/>
<rect x="1539.1" y="2231.3" width="6.0" height="7.6" fill="#1f0b25"/>
<rect x="1544.6" y="2231.3" width="6.0" height="7.6" fill="#1a3439"/>
<rect x="1550.2" y="2231.3" width="6.0" height="7.6" fill="#1e383d"/>
<rect x="1555.7" y="2231.3" width="6.0" height="7.6" fill="#213c41"/>
<rect x="1561.3" y="2231.3" width="6.0" height="7.6" fill="#294348"/>
<rect x="1566.8" y="2231.3" width="6.0" height="7.6" fill="#2c464b"/>
<rect x="1572.3" y="2231.3" width="6.0" height="7.6" fill="#334d52"/>
<rect x="1577.9" y="2231.3" width="6.0" height="7.6" fill="#375156"/>
<rect x="1583.4" y="2231.3" width="6.0" height="7.6" fill="#3e585d"/>
<rect x="1589.0" y="2231.3" width="6.0" height="7.6" fill="#455f64"/>
<rect x="1594.5" y="2231.3" width="6.0" height="7.6" fill="#4c666b"/>
<rect x="1600.0" y="2231.3" width="6.0" height="7.6" fill="#536e73"/>
<rect x="1605.6" y="2231.3" width="6.0" height="7.6" fill="#5b757a"/>
<rect x="1611.1" y="2231.3" width="6.0" height="7.6" fill="#5e787d"/>
<rect x="1616.6" y="2231.3" width="6.0" height="7.6" fill="#657f84"/>
<rect x="1622.2" y="2231.3" width="6.0" height="7.6" fill="#6c868c"/>
<rect x="1627.7" y="2231.3" width="6.0" height="7.6" fill="#748e93"/>
<rect x="1633.3" y="2231.3" width="6.0" height="7.6" fill="#7b959a"/>
<rect x="1638.8" y="2231.3" width="6.0" height="7.6" fill="#829ca1"/>
<rect x="1644.3" y="2231.3" width="6.0" height="7.6" fill="#859fa5"/>
<rect x="1649.9" y="2231.3" width="6.0" height="7.6" fill="#8da7ac"/>
<rect x="1655.4" y="2231.3" width="6.0" height="7.6" fill="#90aaaf"/>
<rect x="1406.2" y="2238.3" width="33.7" height="7.6" fill="#fbddc8"/>
<rect x="1439.4" y="2238.3" width="6.0" height="7.6" fill="#7f6b85"/>
<rect x="1444.9" y="2238.3" width="6.0" height="7.6" fill="#7c6882"/>
<rect x="1450.5" y="2238.3" width="6.0" height="7.6" fill="#74607a"/>
<rect x="1456.0" y="2238.3" width="6.0" height="7.6" fill="#6d5973"/>
<rect x="1461.6" y="2238.3" width="6.0" height="7.6" fill="#66526c"/>
<rect x="1467.1" y="2238.3" width="6.0" height="7.6" fill="#5f4b65"/>
<rect x="1472.6" y="2238.3" width="6.0" height="7.6" fill="#58445e"/>
<rect x="1478.2" y="2238.3" width="6.0" height="7.6" fill="#513d57"/>
<rect x="1483.7" y="2238.3" width="6.0" height="7.6" fill="#4a3650"/>
<rect x="1489.3" y="2238.3" width="6.0" height="7.6" fill="#46324c"/>
<rect x="1494.8" y="2238.3" width="6.0" height="7.6" fill="#422e48"/>
<rect x="1500.3" y="2238.3" width="6.0" height="7.6" fill="#3f2b45"/>
<rect x="1505.9" y="2238.3" width="6.0" height="7.6" fill="#3b2741"/>
<rect x="1511.4" y="2238.3" width="28.2" height="7.6" fill="#38243e"/>
<rect x="1539.1" y="2238.3" width="11.6" height="7.6" fill="#3b2741"/>
<rect x="1550.2" y="2238.3" width="6.0" height="7.6" fill="#3f2b45"/>
<rect x="1555.7" y="2238.3" width="6.0" height="7.6" fill="#3a555a"/>
<rect x="1561.3" y="2238.3" width="6.0" height="7.6" fill="#3e585d"/>
<rect x="1566.8" y="2238.3" width="6.0" height="7.6" fill="#425c61"/>
<rect x="1572.3" y="2238.3" width="6.0" height="7.6" fill="#455f64"/>
<rect x="1577.9" y="2238.3" width="6.0" height="7.6" fill="#496368"/>
<rect x="1583.4" y="2238.3" width="6.0" height="7.6" fill="#4c666b"/>
<rect x="1589.0" y="2238.3" width="6.0" height="7.6" fill="#506a6f"/>
<rect x="1594.5" y="2238.3" width="6.0" height="7.6" fill="#577176"/>
<rect x="1600.0" y="2238.3" width="6.0" height="7.6" fill="#5b757a"/>
<rect x="1605.6" y="2238.3" width="6.0" height="7.6" fill="#627c81"/>
<rect x="1611.1" y="2238.3" width="6.0" height="7.6" fill="#657f84"/>
<rect x="1616.6" y="2238.3" width="6.0" height="7.6" fill="#6c868c"/>
<rect x="1622.2" y="2238.3" width="6.0" height="7.6" fill="#708a8f"/>
<rect x="1627.7" y="2238.3" width="6.0" height="7.6" fill="#779196"/>
<rect x="1633.3" y="2238.3" width="6.0" height="7.6" fill="#7b959a"/>
<rect x="1638.8" y="2238.3" width="6.0" height="7.6" fill="#829ca1"/>
<rect x="1644.3" y="2238.3" width="6.0" height="7.6" fill="#859fa5"/>
<rect x="1649.9" y="2238.3" width="6.0" height="7.6" fill="#8da7ac"/>
<rect x="1655.4" y="2238.3" width="6.0" height="7.6" fill="#90aaaf"/>
<rect x="1400.6" y="2245.4" width="44.8" height="7.6" fill="#fbddc8"/>
<rect x="1444.9" y="2245.4" width="6.0" height="7.6" fill="#8d7993"/>
<rect x="1450.5" y="2245.4" width="6.0" height="7.6" fill="#8a7690"/>
<rect x="1456.0" y="2245.4" width="6.0" height="7.6" fill="#86728c"/>
<rect x="1461.6" y="2245.4" width="6.0" height="7.6" fill="#7f6b85"/>
<rect x="1467.1" y="2245.4" width="6.0" height="7.6" fill="#7c6882"/>
<rect x="1472.6" y="2245.4" width="6.0" height="7.6" fill="#78647e"/>
<rect x="1478.2" y="2245.4" width="6.0" height="7.6" fill="#74607a"/>
<rect x="1483.7" y="2245.4" width="6.0" height="7.6" fill="#715d77"/>
<rect x="1489.3" y="2245.4" width="6.0" height="7.6" fill="#6d5973"/>
<rect x="1494.8" y="2245.4" width="6.0" height="7.6" fill="#6a5670"/>
<rect x="1500.3" y="2245.4" width="6.0" height="7.6" fill="#66526c"/>
<rect x="1505.9" y="2245.4" width="17.1" height="7.6" fill="#634f69"/>
<rect x="1522.5" y="2245.4" width="22.7" height="7.6" fill="#5f4b65"/>
<rect x="1544.6" y="2245.4" width="11.6" height="7.6" fill="#634f69"/>
<rect x="1555.7" y="2245.4" width="11.6" height="7.6" fill="#5b757a"/>
<rect x="1566.8" y="2245.4" width="17.1" height="7.6" fill="#5e787d"/>
<rect x="1583.4" y="2245.4" width="6.0" height="7.6" fill="#627c81"/>
<rect x="1589.0" y="2245.4" width="11.6" height="7.6" fill="#657f84"/>
<rect x="1600.0" y="2245.4" width="6.0" height="7.6" fill="#698388"/>
<rect x="1605.6" y="2245.4" width="6.0" height="7.6" fill="#6c868c"/>
<rect x="1611.1" y="2245.4" width="11.6" height="7.6" fill="#708a8f"/>
<rect x="1622.2" y="2245.4" width="6.0" height="7.6" fill="#748e93"/>
<rect x="1627.7" y="2245.4" width="6.0" height="7.6" fill="#7b959a"/>
<rect x="1633.3" y="2245.4" width="6.0" height="7.6" fill="#7e989d"/>
<rect x="1638.8" y="2245.4" width="6.0" height="7.6" fill="#829ca1"/>
<rect x="1350.8" y="2252.5" width="17.1" height="7.6" fill="#a9c3c8"/>
<rect x="1400.6" y="2252.5" width="55.9" height="7.6" fill="#fbddc8"/>
<rect x="1456.0" y="2252.5" width="6.0" height="7.6" fill="#94aeb3"/>
<rect x="1461.6" y="2252.5" width="11.6" height="7.6" fill="#98849e"/>
<rect x="1472.6" y="2252.5" width="6.0" height="7.6" fill="#95819b"/>
<rect x="1478.2" y="2252.5" width="11.6" height="7.6" fill="#917d97"/>
<rect x="1489.3" y="2252.5" width="11.6" height="7.6" fill="#8d7993"/>
<rect x="1500.3" y="2252.5" width="11.6" height="7.6" fill="#8a7690"/>
<rect x="1511.4" y="2252.5" width="17.1" height="7.6" fill="#86728c"/>
<rect x="1528.0" y="2252.5" width="11.6" height="7.6" fill="#836f89"/>
<rect x="1539.1" y="2252.5" width="17.1" height="7.6" fill="#7b959a"/>
<rect x="1555.7" y="2252.5" width="61.4" height="7.6" fill="#779196"/>
<rect x="1616.6" y="2252.5" width="17.1" height="7.6" fill="#7b959a"/>
<rect x="1633.3" y="2252.5" width="6.0" height="7.6" fill="#7e989d"/>
<rect x="1638.8" y="2252.5" width="6.0" height="7.6" fill="#829ca1"/>
<rect x="1428.3" y="2259.5" width="44.8" height="7.6" fill="#fbddc8"/>
<rect x="1472.6" y="2259.5" width="6.0" height="7.6" fill="#9eb8be"/>
<rect x="1478.2" y="2259.5" width="22.7" height="7.6" fill="#9bb5ba"/>
<rect x="1500.3" y="2259.5" width="17.1" height="7.6" fill="#97b1b6"/>
<rect x="1516.9" y="2259.5" width="22.7" height="7.6" fill="#94aeb3"/>
<rect x="1539.1" y="2259.5" width="11.6" height="7.6" fill="#90aaaf"/>
<rect x="1550.2" y="2259.5" width="17.1" height="7.6" fill="#8da7ac"/>
<rect x="1566.8" y="2259.5" width="11.6" height="7.6" fill="#89a3a8"/>
<rect x="1577.9" y="2259.5" width="17.1" height="7.6" fill="#859fa5"/>
<rect x="1594.5" y="2259.5" width="17.1" height="7.6" fill="#829ca1"/>
<rect x="1611.1" y="2259.5" width="28.2" height="7.6" fill="#7e989d"/>
<rect x="1638.8" y="2259.5" width="11.6" height="7.6" fill="#829ca1"/>
<rect x="1649.9" y="2259.5" width="11.6" height="7.6" fill="#859fa5"/>
<rect x="1494.8" y="2266.6" width="28.2" height="7.6" fill="#a2bcc1"/>
<rect x="1522.5" y="2266.6" width="17.1" height="7.6" fill="#9eb8be"/>
<rect x="1539.1" y="2266.6" width="17.1" height="7.6" fill="#9bb5ba"/>
<rect x="1555.7" y="2266.6" width="17.1" height="7.6" fill="#97b1b6"/>
<rect x="1572.3" y="2266.6" width="11.6" height="7.6" fill="#94aeb3"/>
<rect x="1583.4" y="2266.6" width="6.0" height="7.6" fill="#90aaaf"/>
<rect x="1589.0" y="2266.6" width="11.6" height="7.6" fill="#8da7ac"/>
<rect x="1600.0" y="2266.6" width="11.6" height="7.6" fill="#89a3a8"/>
<rect x="1611.1" y="2266.6" width="11.6" height="7.6" fill="#859fa5"/>
<rect x="1622.2" y="2266.6" width="11.6" height="7.6" fill="#829ca1"/>
<rect x="1633.3" y="2266.6" width="22.7" height="7.6" fill="#7e989d"/>
<rect x="1655.4" y="2266.6" width="11.6" height="7.6" fill="#829ca1"/>
<rect x="1666.5" y="2266.6" width="6.0" height="7.6" fill="#859fa5"/>
<rect x="1672.0" y="2266.6" width="6.0" height="7.6" fill="#89a3a8"/>
<rect x="1677.6" y="2266.6" width="6.0" height="7.6" fill="#8da7ac"/>
<rect x="1577.9" y="2273.6" width="6.0" height="7.6" fill="#9bb5ba"/>
<rect x="1583.4" y="2273.6" width="11.6" height="7.6" fill="#97b1b6"/>
<rect x="1594.5" y="2273.6" width="6.0" height="7.6" fill="#94aeb3"/>
<rect x="1600.0" y="2273.6" width="6.0" height="7.6" fill="#90aaaf"/>
<rect x="1605.6" y="2273.6" width="6.0" height="7.6" fill="#8da7ac"/>
<rect x="1611.1" y="2273.6" width="11.6" height="7.6" fill="#89a3a8"/>
<rect x="1622.2" y="2273.6" width="6.0" height="7.6" fill="#859fa5"/>
<rect x="1627.7" y="2273.6" width="6.0" height="7.6" fill="#829ca1"/>
<rect x="1633.3" y="2273.6" width="6.0" height="7.6" fill="#7e989d"/>
<rect x="1638.8" y="2273.6" width="22.7" height="7.6" fill="#7b959a"/>
<rect x="1661.0" y="2273.6" width="11.6" height="7.6" fill="#7e989d"/>
<rect x="1672.0" y="2273.6" width="6.0" height="7.6" fill="#829ca1"/>
<rect x="1677.6" y="2273.6" width="6.0" height="7.6" fill="#859fa5"/>
<rect x="1683.1" y="2273.6" width="6.0" height="7.6" fill="#8da7ac"/>
<rect x="1600.0" y="2280.7" width="6.0" height="7.6" fill="#97b1b6"/>
<rect x="1605.6" y="2280.7" width="6.0" height="7.6" fill="#94aeb3"/>
<rect x="1611.1" y="2280.7" width="6.0" height="7.6" fill="#8da7ac"/>
<rect x="1616.6" y="2280.7" width="6.0" height="7.6" fill="#89a3a8"/>
<rect x="1622.2" y="2280.7" width="6.0" height="7.6" fill="#859fa5"/>
<rect x="1627.7" y="2280.7" width="6.0" height="7.6" fill="#829ca1"/>
<rect x="1633.3" y="2280.7" width="6.0" height="7.6" fill="#7e989d"/>
<rect x="1638.8" y="2280.7" width="6.0" height="7.6" fill="#7b959a"/>
<rect x="1644.3" y="2280.7" width="11.6" height="7.6" fill="#779196"/>
<rect x="1655.4" y="2280.7" width="6.0" height="7.6" fill="#748e93"/>
<rect x="1661.0" y="2280.7" width="11.6" height="7.6" fill="#779196"/>
<rect x="1672.0" y="2280.7" width="6.0" height="7.6" fill="#7b959a"/>
<rect x="1677.6" y="2280.7" width="6.0" height="7.6" fill="#829ca1"/>
<rect x="1683.1" y="2280.7" width="6.0" height="7.6" fill="#859fa5"/>
<rect x="1688.7" y="2280.7" width="6.0" height="7.6" fill="#89a3a8"/>
<rect x="1694.2" y="2280.7" width="6.0" height="7.6" fill="#90aaaf"/>
<rect x="1616.6" y="2287.8" width="6.0" height="7.6" fill="#8da7ac"/>
<rect x="1622.2" y="2287.8" width="6.0" height="7.6" fill="#89a3a8"/>
<rect x="1627.7" y="2287.8" width="6.0" height="7.6" fill="#829ca1"/>
<rect x="1633.3" y="2287.8" width="6.0" height="7.6" fill="#7e989d"/>
<rect x="1638.8" y="2287.8" width="6.0" height="7.6" fill="#779196"/>
<rect x="1644.3" y="2287.8" width="11.6" height="7.6" fill="#748e93"/>
<rect x="1655.4" y="2287.8" width="11.6" height="7.6" fill="#708a8f"/>
<rect x="1666.5" y="2287.8" width="6.0" height="7.6" fill="#748e93"/>
<rect x="1672.0" y="2287.8" width="6.0" height="7.6" fill="#779196"/>
<rect x="1677.6" y="2287.8" width="6.0" height="7.6" fill="#7b959a"/>
<rect x="1683.1" y="2287.8" width="6.0" height="7.6" fill="#7e989d"/>
<rect x="1688.7" y="2287.8" width="6.0" height="7.6" fill="#859fa5"/>
<rect x="1694.2" y="2287.8" width="6.0" height="7.6" fill="#89a3a8"/>
<rect x="1699.7" y="2287.8" width="6.0" height="7.6" fill="#90aaaf"/>
<rect x="1622.2" y="2294.8" width="6.0" height="7.6" fill="#89a3a8"/>
<rect x="1627.7" y="2294.8" width="6.0" height="7.6" fill="#859fa5"/>
<rect x="1633.3" y="2294.8" width="6.0" height="7.6" fill="#7e989d"/>
<rect x="1638.8" y="2294.8" width="6.0" height="7.6" fill="#7b959a"/>
<rect x="1644.3" y="2294.8" width="6.0" height="7.6" fill="#748e93"/>
<rect x="1649.9" y="2294.8" width="22.7" height="7.6" fill="#708a8f"/>
<rect x="1672.0" y="2294.8" width="6.0" height="7.6" fill="#748e93"/>
<rect x="1677.6" y="2294.8" width="6.0" height="7.6" fill="#779196"/>
<rect x="1683.1" y="2294.8" width="6.0" height="7.6" fill="#7b959a"/>
<rect x="1688.7" y="2294.8" width="6.0" height="7.6" fill="#829ca1"/>
<rect x="1694.2" y="2294.8" width="6.0" height="7.6" fill="#859fa5"/>
<rect x="1699.7" y="2294.8" width="6.0" height="7.6" fill="#8da7ac"/>
<rect x="1705.3" y="2294.8" width="6.0" height="7.6" fill="#94aeb3"/>
<rect x="1627.7" y="2301.9" width="6.0" height="7.6" fill="#859fa5"/>
<rect x="1633.3" y="2301.9" width="6.0" height="7.6" fill="#829ca1"/>
<rect x="1638.8" y="2301.9" width="6.0" height="7.6" fill="#7b959a"/>
<rect x="1644.3" y="2301.9" width="6.0" height="7.6" fill="#779196"/>
<rect x="1649.9" y="2301.9" width="6.0" height="7.6" fill="#748e93"/>
<rect x="1655.4" y="2301.9" width="22.7" height="7.6" fill="#708a8f"/>
<rect x="1677.6" y="2301.9" width="6.0" height="7.6" fill="#748e93"/>
<rect x="1683.1" y="2301.9" width="6.0" height="7.6" fill="#779196"/>
<rect x="1688.7" y="2301.9" width="6.0" height="7.6" fill="#7e989d"/>
<rect x="1694.2" y="2301.9" width="6.0" height="7.6" fill="#859fa5"/>
<rect x="1699.7" y="2301.9" width="6.0" height="7.6" fill="#89a3a8"/>
<rect x="1705.3" y="2301.9" width="6.0" height="7.6" fill="#90aaaf"/>
<rect x="1710.8" y="2301.9" width="6.0" height="7.6" fill="#94aeb3"/>
<rect x="1638.8" y="2309.0" width="6.0" height="7.6" fill="#829ca1"/>
<rect x="1644.3" y="2309.0" width="6.0" height="7.6" fill="#7b959a"/>
<rect x="1649.9" y="2309.0" width="6.0" height="7.6" fill="#779196"/>
<rect x="1655.4" y="2309.0" width="6.0" height="7.6" fill="#748e93"/>
<rect x="1661.0" y="2309.0" width="11.6" height="7.6" fill="#708a8f"/>
<rect x="1672.0" y="2309.0" width="11.6" height="7.6" fill="#748e93"/>
<rect x="1683.1" y="2309.0" width="6.0" height="7.6" fill="#779196"/>
<rect x="1688.7" y="2309.0" width="6.0" height="7.6" fill="#7e989d"/>
<rect x="1694.2" y="2309.0" width="6.0" height="7.6" fill="#829ca1"/>
<rect x="1699.7" y="2309.0" width="6.0" height="7.6" fill="#89a3a8"/>
<rect x="1705.3" y="2309.0" width="6.0" height="7.6" fill="#90aaaf"/>
<rect x="1710.8" y="2309.0" width="6.0" height="7.6" fill="#94aeb3"/>
<rect x="1422.8" y="2316.0" width="11.6" height="7.6" fill="#a9c3c8"/>
<rect x="1655.4" y="2316.0" width="6.0" height="7.6" fill="#7b959a"/>
<rect x="1661.0" y="2316.0" width="22.7" height="7.6" fill="#779196"/>
<rect x="1683.1" y="2316.0" width="6.0" height="7.6" fill="#7b959a"/>
<rect x="1688.7" y="2316.0" width="6.0" height="7.6" fill="#7e989d"/>
<rect x="1694.2" y="2316.0" width="6.0" height="7.6" fill="#859fa5"/>
<rect x="1699.7" y="2316.0" width="6.0" height="7.6" fill="#89a3a8"/>
<rect x="1705.3" y="2316.0" width="6.0" height="7.6" fill="#90aaaf"/>
<rect x="1710.8" y="2316.0" width="6.0" height="7.6" fill="#94aeb3"/>
<rect x="1666.5" y="2323.1" width="17.1" height="7.6" fill="#7e989d"/>
<rect x="1683.1" y="2323.1" width="6.0" height="7.6" fill="#829ca1"/>
<rect x="1688.7" y="2323.1" width="6.0" height="7.6" fill="#859fa5"/>
<rect x="1694.2" y="2323.1" width="6.0" height="7.6" fill="#89a3a8"/>
<rect x="1699.7" y="2323.1" width="6.0" height="7.6" fill="#8da7ac"/>
<rect x="1705.3" y="2323.1" width="6.0" height="7.6" fill="#90aaaf"/>
<rect x="1710.8" y="2323.1" width="6.0" height="7.6" fill="#94aeb3"/>
<path d="M1277.0,2228.0 L1280.3,2229.5 L1289.5,2241.9 L1289.5,2248.1 L1285.4,2256.3 L1284.4,2278.9 L1290.6,2289.2 L1291.6,2293.3 L1300.8,2294.3 L1308.0,2299.0 L1362.5,2300.5 L1370.8,2304.6 L1379.0,2305.6 L1389.3,2318.0 L1391.3,2332.4 L1403.7,2347.5 L1423.2,2374.2 L1424.2,2388.6 L1419.1,2396.8 L1419.1,2410.2 L1425.3,2417.4 L1446.8,2417.4 L1459.2,2405.1 L1464.3,2403.0 L1470.5,2396.8 L1480.8,2395.8 L1485.9,2403.0 L1469.5,2424.6 L1468.4,2449.3 L1475.6,2459.5 L1481.8,2461.6 L1488.0,2467.8 L1502.4,2467.8 L1509.6,2461.6 L1514.7,2460.0 L1537.3,2430.8 L1538.3,2417.4 L1543.5,2409.2 L1543.5,2395.8 L1538.3,2388.6 L1537.3,2382.4 L1531.2,2374.2 L1516.8,2373.2 L1503.4,2373.2 L1497.2,2367.0 L1497.8,2340.3 L1494.1,2330.3 L1488.0,2318.0 L1488.0,2297.4 L1493.1,2292.3 L1508.5,2281.0 L1520.9,2272.7 L1540.0,2272.7 L1572.9,2272.7 L1587.3,2278.9 L1593.5,2283.0 L1607.9,2286.1 L1622.3,2293.3 L1630.5,2303.6 L1638.7,2313.9 L1649.0,2315.9 L1661.3,2322.1 L1671.6,2328.3 L1683.9,2334.4 L1710.7,2334.4 L1717.9,2326.2 L1716.8,2303.6 L1706.6,2291.2 L1698.3,2283.0 L1688.1,2274.8 L1679.8,2264.5 L1679.8,2254.2 L1688.1,2239.8 L1696.3,2233.7 L1708.6,2229.5 L1712.7,2223.4 L1722.0,2219.3 L1723.0,2194.6 L1725.1,2182.3 L1727.1,2163.7 L1721.0,2153.5 L1716.8,2141.1 L1706.6,2126.7 L1698.3,2119.5 L1679.8,2118.1 L1663.4,2120.6 L1655.2,2125.7 L1636.6,2125.7 L1628.4,2110.3 L1622.3,2100.0 L1618.1,2083.9 L1616.1,2065.4 L1612.0,2055.1 L1610.9,2022.2 L1603.7,2013.9 L1589.4,2012.5 L1570.8,2015.0 L1564.7,2020.1 L1543.5,2020.1 L1537.3,2015.0 L1528.1,2009.8 L1526.0,1994.4 L1520.9,1982.1 L1512.6,1971.8 L1502.4,1965.6 L1493.1,1964.6 L1488.0,1956.4 L1488.0,1925.5 L1482.8,1917.3 L1481.8,1910.1 L1475.6,1902.3 L1464.3,1902.3 L1453.0,1917.3 L1452.0,1924.5 L1446.8,1931.7 L1446.8,1946.1 L1452.0,1952.3 L1453.0,1958.4 L1458.8,1966.0 L1447.9,1978.6 L1443.8,1979.6 L1436.6,1986.2 L1431.4,1987.2 L1426.3,1992.8 L1420.1,1994.0 L1413.9,2000.2 L1407.8,1994.0 L1385.2,1993.0 L1370.8,1994.0 L1357.4,2007.8 L1357.4,2015.0 L1372.8,2017.0 L1391.3,2015.6 L1397.5,2009.4 L1402.6,2009.4 L1412.9,2023.2 L1412.9,2037.6 L1402.6,2048.5 L1375.9,2049.5 L1368.7,2055.1 L1364.6,2056.1 L1358.4,2062.3 L1352.3,2064.3 L1340.9,2079.7 L1340.9,2114.4 L1330.7,2128.8 L1329.6,2141.1 L1324.5,2154.5 L1319.4,2155.9 L1313.2,2161.7 L1286.5,2162.7 L1280.3,2167.9 L1277.0,2170.0" fill="none" stroke="#0f6077" stroke-width="2.1" stroke-linejoin="round" stroke-linecap="round"/>
<path d="M1452.0,1873.0 L1453.0,1882.3 L1458.2,1882.3 L1465.3,1873.0" fill="none" stroke="#0f6077" stroke-width="2.1" stroke-linejoin="round" stroke-linecap="round"/>
<path d="M1346.1,1924.5 L1353.3,1923.9 L1347.1,1931.3 Z" fill="none" stroke="#0f6077" stroke-width="2.1" stroke-linejoin="round" stroke-linecap="round"/>
<path d="M1547.6,2508.9 L1559.9,2508.9 L1553.8,2517.1 Z" fill="none" stroke="#0f6077" stroke-width="2.1" stroke-linejoin="round" stroke-linecap="round"/>
<path d="M1726.1,2346.5 L1732.3,2346.0 L1738.4,2354.3 L1726.1,2354.3 Z" fill="none" stroke="#0f6077" stroke-width="2.1" stroke-linejoin="round" stroke-linecap="round"/>
<path d="M1748.7,2374.2 L1771.3,2373.6 L1778.5,2382.4 L1778.5,2403.0 L1772.4,2404.0 L1766.2,2410.2 L1761.1,2405.1 L1755.9,2404.0 L1748.7,2395.8 Z" fill="none" stroke="#0f6077" stroke-width="2.1" stroke-linejoin="round" stroke-linecap="round"/>
<path d="M1581.5,2575.0 L1582.0,2571.8 L1588.0,2571.8 L1588.5,2575.0" fill="none" stroke="#0f6077" stroke-width="2.1" stroke-linejoin="round" stroke-linecap="round"/>
<path d="M1370.8,2112.6 L1374.9,2102.4 L1382.1,2094.1 L1393.4,2091.1 L1409.8,2083.9 L1422.2,2072.6 L1432.5,2059.2 L1440.7,2044.8 L1451.0,2034.5 L1467.4,2026.3 L1485.9,2018.1 L1496.2,2021.1 L1506.5,2032.5 L1516.8,2039.6 L1533.2,2042.7 L1549.7,2044.8 L1575.0,2045.8 L1587.3,2055.1 L1595.5,2067.4 L1601.7,2083.9 L1605.8,2100.3 L1608.9,2116.5 L1614.0,2137.0 L1626.4,2146.3 L1646.9,2154.5 L1667.5,2155.5 L1684.0,2158.6 L1694.2,2166.8 L1697.3,2178.1 L1694.2,2186.4 L1684.0,2190.5 L1671.6,2195.6 L1661.3,2209.0 L1658.2,2223.4 L1658.2,2243.9 L1653.1,2256.3 L1642.8,2264.5 L1622.3,2262.4 L1601.7,2258.3 L1570.8,2255.3 L1552.3,2258.3 L1530.0,2259.0 L1510.0,2258.0 L1496.2,2260.4 L1492.1,2264.5 L1475.6,2273.8 L1455.1,2280.5 L1413.9,2281.0 L1391.3,2282.0 L1376.9,2278.9 L1360.5,2273.8 L1342.0,2274.8 L1319.4,2276.8 L1311.1,2271.7 L1309.1,2262.4 L1313.2,2243.9 L1315.2,2227.5 L1313.2,2211.0 L1323.5,2200.8 L1344.0,2184.3 L1359.5,2161.7 L1369.7,2141.1 L1370.8,2120.6 Z" fill="none" stroke="#0f6077" stroke-width="2.1" stroke-linejoin="round" stroke-linecap="round" stroke-dasharray="10.5 10.5"/>
<path d="M1374.9,2108.3 L1368.5,2099.5 L1364.2,2092.1 L1369.7,2083.9 L1381.0,2078.7 L1397.5,2077.7 L1418.1,2078.7 L1424.2,2084.9 L1457.1,2084.9 L1463.3,2079.7 L1463.3,2072.6 L1458.2,2065.4 L1453.0,2064.3 L1446.8,2055.1 L1446.8,2048.9 L1453.0,2043.1 L1469.5,2042.7 L1475.6,2047.9 L1492.1,2047.9 L1498.3,2042.7 L1508.5,2040.7 L1515.7,2035.5 L1529.1,2034.5 L1543.5,2036.6 L1548.6,2044.8 L1547.6,2051.0 L1543.5,2059.2 L1545.6,2067.4 L1557.9,2083.9 L1566.1,2091.1 L1570.8,2093.1 L1572.9,2108.5 L1583.2,2118.5 L1593.5,2130.8 L1603.7,2138.0 L1607.9,2140.1 L1630.5,2139.1 L1640.8,2133.9 L1657.2,2130.8 L1671.6,2120.6 L1690.1,2118.5 L1700.4,2120.6 L1710.7,2127.8 L1721.0,2132.9 L1729.2,2142.2 L1733.3,2150.4 L1734.3,2169.9 L1732.3,2186.4 L1725.1,2195.6 L1718.9,2199.7 L1700.4,2199.7 L1690.1,2192.5 L1679.8,2188.4 L1671.6,2186.4 L1655.2,2186.4 L1649.0,2190.5 L1642.8,2196.6 L1632.5,2202.8 L1626.4,2206.9 L1616.1,2215.2 L1605.8,2227.5 L1595.5,2233.7 L1581.1,2243.9 L1564.7,2252.2 L1548.2,2257.3 L1537.3,2263.5 L1496.2,2263.5 L1479.7,2265.5 L1465.3,2276.8 L1448.9,2284.0 L1403.7,2284.0 L1396.5,2291.2 L1391.3,2290.2 L1391.3,2284.0 L1396.5,2281.0 L1401.6,2276.8 L1401.6,2270.7 L1389.3,2256.3 L1368.7,2237.8 L1360.5,2223.4 L1356.4,2213.1 L1340.9,2190.5 L1339.9,2178.1 L1330.7,2163.7 L1329.6,2155.5 L1342.0,2142.2 L1350.2,2139.1 L1360.5,2130.8 L1373.8,2114.4 Z" fill="none" stroke="#f47c22" stroke-width="2.1" stroke-linejoin="round" stroke-linecap="round"/>
<path d="M1434.5,2118.8 L1444.8,2112.6 L1465.3,2106.5 L1481.8,2098.3 L1496.2,2084.9 L1506.5,2078.7 L1516.8,2078.7 L1525.0,2090.0 L1537.0,2100.0 L1548.0,2110.0 L1556.0,2120.0 L1564.0,2133.0 L1568.8,2149.4 L1575.0,2158.6 L1587.3,2162.7 L1607.9,2159.6 L1626.4,2155.5 L1644.9,2153.5 L1655.2,2149.4 L1671.6,2141.1 L1692.2,2140.1 L1704.5,2146.3 L1710.7,2155.5 L1708.6,2165.8 L1702.5,2173.0 L1688.1,2172.0 L1671.6,2167.9 L1657.2,2165.8 L1644.9,2167.9 L1636.6,2176.1 L1628.4,2186.4 L1616.1,2196.6 L1601.7,2206.9 L1593.5,2219.3 L1585.2,2229.5 L1570.8,2239.8 L1554.4,2246.0 L1540.0,2248.1 L1529.1,2248.1 L1504.4,2243.9 L1481.8,2247.0 L1461.2,2254.2 L1442.7,2258.3 L1424.2,2253.2 L1405.7,2241.9 L1396.5,2231.6 L1395.4,2219.3 L1399.5,2200.8 L1393.4,2188.4 L1389.3,2169.9 L1397.5,2149.4 L1413.9,2128.8 Z" fill="none" stroke="#f47c22" stroke-width="2.1" stroke-linejoin="round" stroke-linecap="round" stroke-dasharray="10.5 10.5"/>
<path d="M1396.5,2036.6 L1403.7,2036.6" fill="none" stroke="#f47c22" stroke-width="2.1" stroke-linejoin="round" stroke-linecap="round"/>
<ellipse cx="1439.7" cy="2317.5" rx="13" ry="11" fill="none" stroke="#0f6077" stroke-width="2.1" stroke-dasharray="10.5 10.5"/>
<circle cx="1475.2" cy="1987.2" r="1.8" fill="#f47c22"/>
</g>
<rect x="1589.7" y="1883.7" width="19.6" height="19.2" fill="#f28e46" stroke="#000" stroke-width="2"/>
<rect x="1589.7" y="1913.2" width="19.6" height="19.1" fill="#287f90" stroke="#000" stroke-width="2"/>
<text x="1618.1" y="1903.9" font-family="Liberation Sans, Arial, sans-serif" font-weight="bold" font-size="31" >Maastrichtian</text>
<text x="1618.1" y="1933.3" font-family="Liberation Sans, Arial, sans-serif" font-weight="bold" font-size="31" >Danian</text>
<rect x="1276" y="1871" width="553.9000000000001" height="706.4000000000001" fill="none" stroke="#000" stroke-width="7"/>
<g stroke="#000" stroke-width="7">
<line x1="1276" y1="1892.3" x2="1249.7" y2="1892.3"/>
<line x1="1276" y1="2170.7" x2="1249.7" y2="2170.7"/>
<line x1="1276" y1="2449.2" x2="1249.7" y2="2449.2"/>
<line x1="1276.1" y1="2577.4" x2="1276.1" y2="2606.1"/>
<line x1="1387.4" y1="2577.4" x2="1387.4" y2="2606.1"/>
<line x1="1498.7" y1="2577.4" x2="1498.7" y2="2606.1"/>
<line x1="1610.0" y1="2577.4" x2="1610.0" y2="2606.1"/>
<line x1="1721.6" y1="2577.4" x2="1721.6" y2="2606.1"/>
<line x1="1829.9" y1="2577.4" x2="1829.9" y2="2606.1"/>
</g>
<text transform="translate(1238.9,1892.3) rotate(-90)" font-family="Liberation Sans, Arial, sans-serif" font-size="31" text-anchor="middle">5</text>
<text transform="translate(1238.9,2170.7) rotate(-90)" font-family="Liberation Sans, Arial, sans-serif" font-size="31" text-anchor="middle">0</text>
<text transform="translate(1238.9,2449.2) rotate(-90)" font-family="Liberation Sans, Arial, sans-serif" font-size="31" text-anchor="middle">-5</text>
<text x="1276.1" y="2632.1" font-family="Liberation Sans, Arial, sans-serif" font-size="31" text-anchor="middle">-4</text>
<text x="1387.4" y="2632.1" font-family="Liberation Sans, Arial, sans-serif" font-size="31" text-anchor="middle">-2</text>
<text x="1498.7" y="2632.1" font-family="Liberation Sans, Arial, sans-serif" font-size="31" text-anchor="middle">0</text>
<text x="1610.0" y="2632.1" font-family="Liberation Sans, Arial, sans-serif" font-size="31" text-anchor="middle">2</text>
<text x="1721.6" y="2632.1" font-family="Liberation Sans, Arial, sans-serif" font-size="31" text-anchor="middle">4</text>
<text x="1829.9" y="2632.1" font-family="Liberation Sans, Arial, sans-serif" font-size="31" text-anchor="middle">5</text>
<text x="1581.2" y="2674.1" font-family="Liberation Sans, Arial, sans-serif" font-weight="bold" font-size="38.8" text-anchor="middle">PC1 (35.31%)</text>
<text transform="translate(1200.0,2184.2) rotate(-90)" font-family="Liberation Sans, Arial, sans-serif" font-weight="bold" font-size="38.8" text-anchor="middle">PC2 (24.34%)</text></svg></body></html>
